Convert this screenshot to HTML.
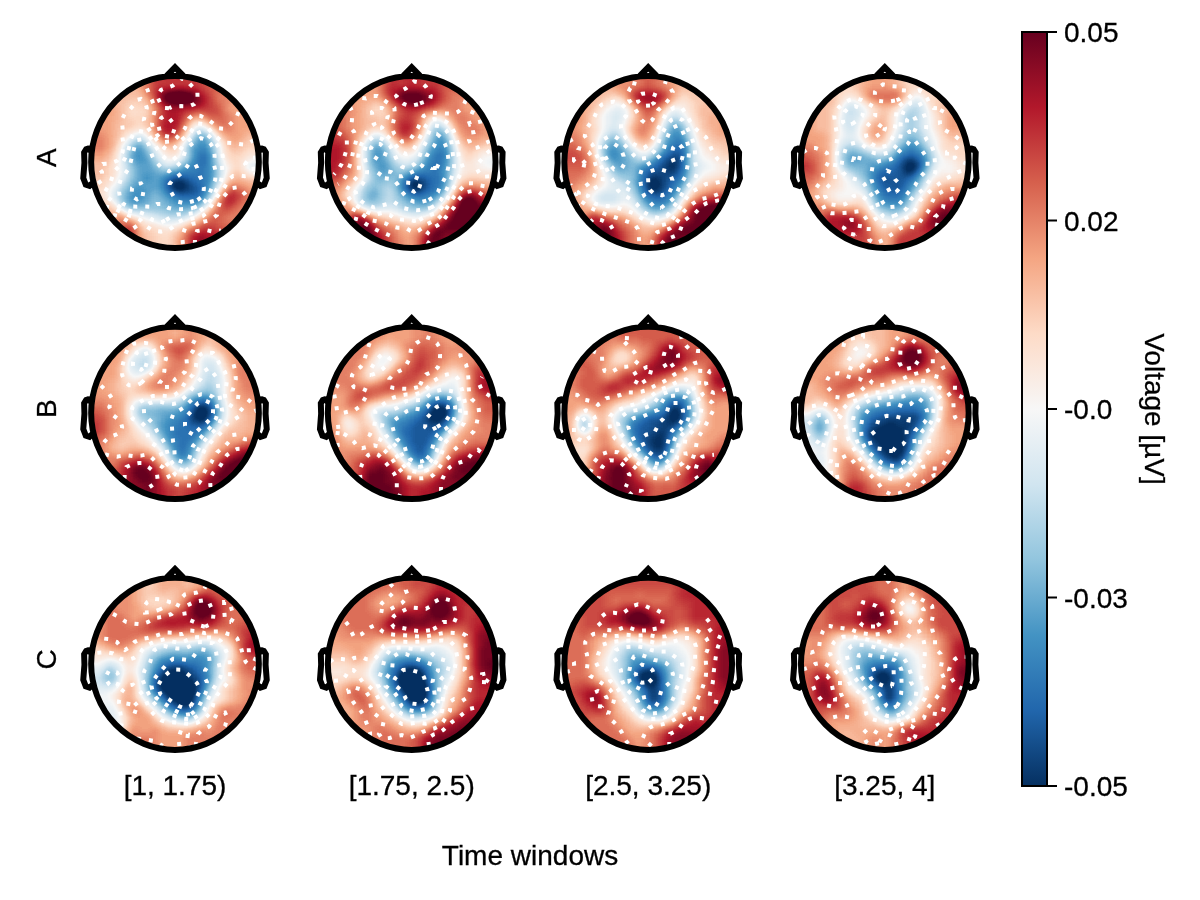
<!DOCTYPE html>
<html lang="en"><head><meta charset="utf-8"><title>Topoplot series</title>
<style>html,body{margin:0;padding:0;background:#fff}svg{display:block}text{font-family:'Liberation Sans', 'DejaVu Sans', sans-serif;font-size:28px;fill:#000;stroke:#000;stroke-width:0.3px}</style></head>
<body>
<svg width="1200" height="900" viewBox="0 0 1200 900">
<defs>
<filter id="cm" x="-5%" y="-5%" width="110%" height="110%" color-interpolation-filters="sRGB"><feGaussianBlur stdDeviation="2.5"/><feComponentTransfer><feFuncR type="table" tableValues="0.0196 0.0196 0.0196 0.0196 0.1294 0.2627 0.5725 0.8196 0.9686 0.9922 0.9569 0.8392 0.6980 0.4039 0.4039 0.4039 0.4039"/><feFuncG type="table" tableValues="0.1882 0.1882 0.1882 0.1882 0.4000 0.5765 0.7725 0.8980 0.9686 0.8588 0.6471 0.3765 0.0941 0.0000 0.0000 0.0000 0.0000"/><feFuncB type="table" tableValues="0.3804 0.3804 0.3804 0.3804 0.6745 0.7647 0.8706 0.9412 0.9686 0.7804 0.5098 0.3020 0.1686 0.1216 0.1216 0.1216 0.1216"/></feComponentTransfer></filter>
<linearGradient id="cb" x1="0" y1="0" x2="0" y2="1"><stop offset="0.0" stop-color="#67001f"/><stop offset="0.1" stop-color="#b2182b"/><stop offset="0.2" stop-color="#d6604d"/><stop offset="0.3" stop-color="#f4a582"/><stop offset="0.4" stop-color="#fddbc7"/><stop offset="0.5" stop-color="#f7f7f7"/><stop offset="0.6" stop-color="#d1e5f0"/><stop offset="0.7" stop-color="#92c5de"/><stop offset="0.8" stop-color="#4393c3"/><stop offset="0.9" stop-color="#2166ac"/><stop offset="1.0" stop-color="#053061"/></linearGradient>
<clipPath id="cl00"><ellipse cx="175.0" cy="162.0" rx="83.85" ry="86.10"/></clipPath><clipPath id="cl01"><ellipse cx="411.7" cy="162.0" rx="83.85" ry="86.10"/></clipPath><clipPath id="cl02"><ellipse cx="648.2" cy="162.0" rx="83.85" ry="86.10"/></clipPath><clipPath id="cl03"><ellipse cx="884.8" cy="162.0" rx="83.85" ry="86.10"/></clipPath><clipPath id="cl10"><ellipse cx="175.0" cy="412.9" rx="83.85" ry="86.10"/></clipPath><clipPath id="cl11"><ellipse cx="411.7" cy="412.9" rx="83.85" ry="86.10"/></clipPath><clipPath id="cl12"><ellipse cx="648.2" cy="412.9" rx="83.85" ry="86.10"/></clipPath><clipPath id="cl13"><ellipse cx="884.8" cy="412.9" rx="83.85" ry="86.10"/></clipPath><clipPath id="cl20"><ellipse cx="175.0" cy="663.8" rx="83.85" ry="86.10"/></clipPath><clipPath id="cl21"><ellipse cx="411.7" cy="663.8" rx="83.85" ry="86.10"/></clipPath><clipPath id="cl22"><ellipse cx="648.2" cy="663.8" rx="83.85" ry="86.10"/></clipPath><clipPath id="cl23"><ellipse cx="884.8" cy="663.8" rx="83.85" ry="86.10"/></clipPath>
</defs>
<rect width="1200" height="900" fill="#fff"/>
<g id="head-A1">
<g clip-path="url(#cl00)"><g filter="url(#cm)"><g transform="translate(75 62)" stroke-width="4" fill="none" shape-rendering="crispEdges"><path stroke="#2c2c2c" d="M100 122h8M100 126h8"/><path stroke="#303030" d="M96 122h4M108 122h4M108 126h4"/><path stroke="#343434" d="M100 118h8M96 126h4M112 126h4M104 130h4"/><path stroke="#383838" d="M96 118h4M108 118h4M112 122h4M116 126h4M100 130h4M108 130h8"/><path stroke="#3c3c3c" d="M112 118h4M92 122h4M116 122h4M92 126h4M120 126h4M96 130h4M116 130h8"/><path stroke="#404040" d="M100 114h12M92 118h4M116 118h4M120 122h4M124 126h4M104 134h20"/><path stroke="#444444" d="M124 94h8M124 98h8M124 102h8M124 106h4M124 110h4M96 114h4M112 114h16M120 118h8M88 122h4M124 122h4M92 130h4M124 130h4M100 134h4"/><path stroke="#484848" d="M124 90h8M120 98h4M120 102h4M116 106h8M128 106h4M108 110h16M128 110h4M128 114h4M88 118h4M128 118h4M128 122h4M88 126h4M128 126h4M96 134h4M124 134h4M104 138h20"/><path stroke="#4c4c4c" d="M124 86h8M120 90h4M120 94h4M132 94h4M132 98h4M116 102h4M132 102h4M112 106h4M132 106h4M104 110h4M132 110h4M92 114h4M132 114h4M132 118h4M88 130h4M128 130h4M60 134h4M92 134h4M100 138h4"/><path stroke="#505050" d="M124 78h4M124 82h8M120 86h4M60 90h8M132 90h4M60 94h8M60 98h12M116 98h4M108 106h4M100 110h4M68 114h8M88 114h4M68 118h8M84 118h4M84 122h4M132 122h4M60 126h8M84 126h4M56 130h16M56 134h4M64 134h4M128 134h4M56 138h12M96 138h4M124 138h4M100 142h20"/><path stroke="#545454" d="M128 78h4M120 82h4M60 86h8M116 86h4M132 86h4M116 90h4M56 94h4M68 94h4M116 94h4M60 102h16M112 102h4M64 106h12M136 106h4M64 110h16M96 110h4M136 110h4M64 114h4M76 114h12M136 114h4M64 118h4M76 118h8M60 122h24M56 126h4M68 126h16M132 126h4M72 130h4M84 130h4M52 134h4M68 134h4M88 134h4M52 138h4M68 138h4M92 138h4M56 142h8M96 142h4M120 142h4"/><path stroke="#585858" d="M124 74h4M120 78h4M132 82h4M56 90h4M68 90h4M136 94h4M56 98h4M72 98h4M136 98h4M136 102h4M60 106h4M76 106h4M104 106h4M60 110h4M80 110h4M92 110h4M60 114h4M60 118h4M136 118h4M56 122h4M52 130h4M76 130h8M132 130h4M72 134h4M84 134h4M72 138h4M88 138h4M52 142h4M64 142h8M92 142h4M96 146h20"/><path stroke="#5c5c5c" d="M128 74h4M132 78h4M60 82h8M116 82h4M56 86h4M68 86h4M136 90h4M72 94h4M112 98h4M56 102h4M76 102h4M108 102h4M80 106h4M84 110h8M56 118h4M136 122h4M52 126h4M48 130h4M48 134h4M76 134h8M48 138h4M76 138h12M128 138h4M72 142h4M84 142h8M124 142h4M88 146h8M116 146h4"/><path stroke="#606060" d="M120 74h4M112 86h4M136 86h4M72 90h4M112 90h4M52 94h4M112 94h4M52 98h4M76 98h4M56 106h4M100 106h4M56 110h4M140 110h4M56 114h4M52 122h4M48 126h4M136 126h4M132 134h4M48 142h4M76 142h8M56 146h32M120 146h4M92 150h20"/><path stroke="#646464" d="M124 70h4M116 78h4M56 82h4M68 82h4M136 82h4M52 90h4M52 102h4M80 102h4M104 102h4M140 102h4M84 106h4M96 106h4M140 106h4M140 114h4M52 118h4M140 118h4M44 130h4M44 134h4M44 138h4M52 146h4M84 150h8M112 150h4"/><path stroke="#686868" d="M132 74h4M60 78h8M112 82h4M52 86h4M72 86h4M76 94h4M108 98h4M140 98h4M52 106h4M88 106h8M52 110h4M52 114h4M48 122h4M136 130h4M76 150h8M116 150h4M92 154h16"/><path stroke="#6c6c6c" d="M120 70h4M128 70h4M116 74h4M136 78h4M76 90h4M140 90h4M140 94h4M80 98h4M84 102h4M48 118h4M140 122h4M44 126h4M40 134h4M132 138h4M44 142h4M128 142h4M48 146h4M124 146h4M64 150h12M84 154h8M108 154h4"/><path stroke="#707070" d="M56 78h4M68 78h4M52 82h4M108 86h4M140 86h4M48 90h4M108 90h4M48 94h4M80 94h4M108 94h4M48 98h4M48 102h4M100 102h4M144 106h4M144 110h4M144 114h4M44 122h4M40 130h4M40 138h4M56 150h8M80 154h4"/><path stroke="#747474" d="M124 66h4M132 70h4M60 74h8M136 74h4M112 78h4M72 82h4M140 82h4M48 86h4M76 86h4M84 98h4M104 98h4M88 102h4M96 102h4M144 102h4M48 106h4M48 110h4M48 114h4M144 118h4M40 126h4M140 126h4M136 134h4M120 150h4M72 154h8M112 154h4M84 158h20"/><path stroke="#787878" d="M120 66h4M116 70h4M52 78h4M108 82h4M80 90h4M144 98h4M92 102h4M176 102h8M176 106h8M44 118h4M36 130h4M36 134h4M52 150h4M68 154h4M116 154h4M80 158h4M104 158h4"/><path stroke="#7c7c7c" d="M128 66h4M56 74h4M68 74h4M72 78h4M140 78h4M48 82h4M44 94h4M84 94h4M104 94h4M144 94h4M44 98h4M88 98h4M100 98h4M44 102h4M172 102h4M184 102h8M44 106h4M148 106h4M172 106h4M184 106h8M44 110h4M148 110h4M44 114h4M40 122h4M144 122h4M36 126h4M36 138h4M40 142h4M132 142h4M44 146h4M128 146h4M64 154h4M76 158h4M108 158h4M88 162h12"/><path stroke="#808080" d="M64 70h4M112 74h4M76 82h4M80 86h4M144 86h4M44 90h4M84 90h4M104 90h4M144 90h4M92 98h8M176 98h16M148 102h4M176 110h16M148 114h4M40 118h4M32 130h4M140 130h4M32 134h4M136 138h4M124 150h4M60 154h4M72 158h4M84 162h4M100 162h4"/><path stroke="#848484" d="M116 66h4M60 70h4M68 70h4M136 70h4M52 74h4M48 78h4M108 78h4M144 82h4M44 86h4M104 86h4M88 94h4M100 94h4M148 98h4M172 98h4M40 102h4M168 102h4M40 106h4M152 106h4M168 106h4M172 110h4M40 114h4M148 118h4M36 122h4M32 126h4M48 150h4M56 154h4M120 154h4M68 158h4M112 158h4M80 162h4M104 162h4M92 166h4"/><path stroke="#888888" d="M120 62h8M132 66h4M56 70h4M112 70h4M72 74h4M140 74h4M76 78h4M44 82h4M80 82h4M104 82h4M84 86h4M88 90h4M40 94h4M92 94h8M148 94h4M172 94h20M40 98h4M168 98h4M152 102h4M40 110h4M152 110h4M36 118h4M32 122h4M144 126h4M28 130h4M28 134h4M32 138h4M36 142h4M40 146h4M64 158h4M72 162h8M84 166h8M96 166h4"/><path stroke="#8c8c8c" d="M56 50h8M116 62h4M128 62h4M60 66h8M52 70h4M48 74h4M144 78h4M148 86h4M40 90h4M92 90h4M100 90h4M148 90h4M172 90h20M168 94h4M152 98h4M164 98h4M36 102h4M156 102h4M164 102h4M36 106h4M156 106h4M164 106h4M36 110h4M168 110h4M36 114h4M152 114h4M172 114h16M32 118h4M28 126h4M24 130h4M24 134h4M140 134h4M28 138h4M132 146h4M44 150h4M128 150h4M52 154h4M124 154h4M116 158h4M68 162h4M108 162h4M80 166h4M100 166h4M84 170h12M88 174h4"/><path stroke="#909090" d="M56 42h8M52 46h20M52 50h4M64 50h8M52 54h20M56 58h12M60 62h8M56 66h4M68 66h4M112 66h4M48 70h4M72 70h4M108 74h4M44 78h4M148 82h4M176 82h12M40 86h4M88 86h4M100 86h4M172 86h16M96 90h4M152 90h4M168 90h4M152 94h16M36 98h4M156 98h8M160 102h4M32 106h4M160 106h4M32 110h4M156 110h4M164 110h4M32 114h4M168 114h4M28 118h4M12 122h4M24 122h8M148 122h4M12 126h16M12 130h12M16 134h8M16 138h12M20 142h16M136 142h4M20 146h8M36 146h4M60 158h4M64 162h4M112 162h4M68 166h12M104 166h4M76 170h8M96 170h4M80 174h8M92 174h4M80 178h16M80 182h16M80 186h16M80 190h16"/><path stroke="#949494" d="M52 38h16M48 42h8M64 42h8M48 46h4M48 50h4M72 50h4M48 54h4M48 58h8M68 58h4M120 58h8M48 62h12M68 62h4M48 66h8M72 66h4M136 66h4M44 70h4M140 70h4M44 74h4M76 74h4M144 74h4M40 78h4M80 78h4M104 78h4M148 78h4M172 78h16M40 82h4M84 82h4M100 82h4M168 82h8M92 86h8M152 86h4M164 86h8M36 90h4M156 90h12M36 94h4M32 98h4M32 102h4M28 106h4M28 110h4M160 110h4M28 114h4M156 114h4M164 114h4M12 118h16M152 118h4M176 118h12M16 122h8M144 130h4M28 146h4M24 150h4M40 150h4M120 158h4M68 170h8M100 170h4M72 174h8M96 174h4M72 178h8M96 178h4M72 182h8M96 182h4M72 186h8M96 186h4M76 190h4M96 190h4"/><path stroke="#989898" d="M52 22h4M44 26h16M40 30h24M36 34h32M36 38h16M68 38h4M40 42h8M44 46h4M72 46h4M44 50h4M44 54h4M72 54h4M44 58h4M72 58h4M116 58h4M40 62h8M72 62h4M132 62h4M40 66h8M40 70h4M108 70h4M40 74h4M172 74h16M168 78h4M152 82h4M164 82h4M36 86h4M156 86h8M32 94h4M28 98h4M8 102h24M8 106h20M8 110h20M12 114h16M160 114h4M156 118h4M168 118h8M148 126h4M140 138h4M32 146h4M28 150h12M132 150h4M24 154h12M48 154h4M128 154h4M28 158h4M56 158h4M116 162h4M64 166h4M108 166h4M68 174h4M100 174h4M68 178h4M100 186h4M100 190h4"/><path stroke="#9c9c9c" d="M56 18h4M56 22h8M60 26h4M64 30h4M32 38h4M32 42h8M72 42h4M36 46h8M40 50h4M36 54h8M36 58h8M128 58h4M36 62h4M112 62h4M36 66h4M36 70h4M76 70h4M144 70h4M168 70h20M36 74h4M148 74h4M168 74h4M36 78h4M152 78h4M164 78h4M36 82h4M88 82h4M96 82h4M156 82h8M32 90h4M28 94h4M8 98h20M160 118h8M152 122h4M172 122h16M136 146h4M36 154h4M32 158h4M124 158h4M60 162h4M64 170h4M104 170h4M64 174h4M100 178h4M68 182h4M100 182h4M68 186h4"/><path stroke="#a0a0a0" d="M64 14h4M60 18h8M64 22h4M64 26h4M68 34h4M72 38h4M160 38h8M28 42h4M156 42h16M24 46h12M76 46h4M152 46h24M24 50h16M76 50h4M156 50h20M20 54h16M76 54h4M160 54h20M20 58h16M76 58h4M160 58h20M16 62h20M76 62h4M136 62h4M160 62h24M16 66h20M76 66h4M140 66h4M160 66h24M28 70h8M160 70h8M32 74h4M80 74h4M104 74h4M152 74h16M32 78h4M84 78h4M100 78h4M156 78h8M32 82h4M92 82h4M32 86h4M28 90h4M8 94h20M164 122h8M172 126h16M144 134h4M140 142h4M40 154h8M36 158h4M52 158h4M32 162h4M120 162h4M112 166h4M104 174h4M64 178h4M60 182h8M64 186h4M104 186h4M104 190h4"/><path stroke="#a4a4a4" d="M68 30h4M156 34h8M152 38h8M76 42h4M152 42h4M152 50h4M120 54h8M156 54h4M112 58h4M132 58h4M156 58h4M156 62h4M108 66h4M144 66h4M156 66h4M12 70h16M148 70h12M24 74h8M28 78h4M28 82h4M28 86h4M8 90h20M156 122h8M168 126h4M148 130h4M172 130h16M176 134h8M136 150h4M132 154h4M40 158h4M48 158h4M128 158h4M36 162h4M60 166h4M108 170h4M60 178h4M104 178h4M56 182h4M104 182h4"/><path stroke="#a8a8a8" d="M68 14h4M68 18h4M68 22h4M68 26h4M152 26h4M148 30h12M72 34h4M144 34h12M144 38h8M148 42h4M148 46h4M80 50h4M148 50h4M116 54h4M128 54h4M152 54h4M152 58h4M108 62h4M140 62h4M152 62h4M148 66h8M80 70h4M104 70h4M12 74h12M12 78h16M88 78h4M96 78h4M12 82h16M12 86h16M152 126h4M164 126h4M172 134h4M144 138h4M172 138h12M168 142h12M140 146h4M164 146h16M160 150h16M152 154h24M44 158h4M152 158h20M40 162h4M56 162h4M124 162h4M160 162h8M36 166h8M116 166h4M60 170h4M60 174h4M108 174h4"/><path stroke="#acacac" d="M72 14h4M72 18h4M72 22h4M72 26h4M144 26h8M72 30h4M140 30h8M140 34h4M76 38h4M140 38h4M144 42h4M80 46h4M144 46h4M80 54h4M112 54h4M148 54h4M80 58h4M136 58h16M80 62h4M144 62h8M80 66h4M84 74h4M100 74h4M92 78h4M156 126h8M168 130h4M168 134h4M168 138h4M164 142h4M160 146h4M140 150h4M156 150h4M136 154h4M148 154h4M132 158h4M144 158h8M44 162h12M148 162h12M44 166h4M120 166h4M156 166h8M40 170h4M112 170h4M156 170h4M56 178h4M108 178h4M108 182h4M108 186h4M108 190h4"/><path stroke="#b0b0b0" d="M132 14h4M132 18h12M132 22h16M132 26h12M136 30h4M76 34h4M136 34h4M80 42h4M140 42h4M120 50h8M144 50h4M132 54h16M108 58h4M104 66h4M152 130h4M164 130h4M148 134h4M164 138h4M144 142h4M160 142h4M144 146h4M156 146h4M144 150h12M140 154h8M136 158h8M128 162h8M140 162h8M56 166h4M144 166h12M44 170h4M152 170h4M56 174h4M152 174h4M52 178h4"/><path stroke="#b4b4b4" d="M76 10h4M76 14h4M128 14h4M76 18h4M124 18h8M76 22h4M124 22h8M76 26h4M128 26h4M76 30h4M132 30h4M136 38h4M136 42h4M84 46h4M136 46h8M84 50h4M116 50h4M128 50h16M84 54h4M108 54h4M104 62h4M84 70h4M100 70h4M88 74h4M96 74h4M160 130h4M164 134h4M148 146h8M136 162h4M48 166h4M124 166h4M140 166h4M56 170h4M116 170h4M148 170h4M112 174h4M112 178h4M112 182h4M112 186h4M112 190h4"/><path stroke="#b8b8b8" d="M80 10h8M112 10h12M80 14h8M108 14h20M80 18h44M80 22h44M80 26h4M124 26h4M128 30h4M132 34h4M80 38h4M132 38h4M132 42h4M128 46h8M108 50h8M84 58h4M104 58h4M84 62h4M84 66h4M92 74h4M156 130h4M160 134h4M148 138h4M160 138h4M148 142h4M156 142h4M52 166h4M128 166h12M48 170h8M120 170h4M140 170h8M44 174h12M148 174h4"/><path stroke="#bcbcbc" d="M88 10h24M88 14h20M84 26h8M112 26h12M80 30h4M124 30h4M80 34h4M128 34h4M84 42h4M128 42h4M88 46h4M120 46h8M88 50h4M104 50h4M88 54h4M104 54h4M88 58h4M100 66h4M88 70h4M96 70h4M152 134h8M152 138h8M152 142h4M124 170h16M116 174h4M144 174h4M116 186h4M116 190h4"/><path stroke="#c0c0c0" d="M92 26h20M128 38h4M108 46h12M92 50h12M92 54h12M92 58h12M88 62h16M88 66h12M92 70h4M120 174h4M132 174h12M116 178h4M132 178h16M116 182h4M132 182h12M132 186h4"/><path stroke="#c4c4c4" d="M84 30h4M120 30h4M124 34h4M84 38h4M124 38h4M88 42h4M124 42h4M92 46h16M124 174h8M120 178h4M128 178h4M120 182h4M128 182h4M120 186h4M128 186h4M120 190h4"/><path stroke="#c8c8c8" d="M88 30h4M116 30h4M84 34h4M120 34h4M116 42h8M124 178h4M124 182h4M124 186h4"/><path stroke="#cccccc" d="M92 30h8M108 30h8M120 38h4M92 42h8M108 42h8"/><path stroke="#d0d0d0" d="M100 30h8M88 34h4M116 34h4M88 38h4M116 38h4M100 42h8"/><path stroke="#d4d4d4" d="M92 38h4"/><path stroke="#d8d8d8" d="M92 34h4M112 34h4M96 38h4M112 38h4"/><path stroke="#dcdcdc" d="M96 34h4M108 34h4M100 38h12"/><path stroke="#e0e0e0" d="M100 34h8"/></g></g></g>
<path clip-path="url(#cl00)" d="M197.5 200.0L203.2 196.0L203.9 188.0L201.8 180.0L199.7 176.0L197.3 168.0L195.2 164.0L189.0 163.6L186.0 168.0L183.0 172.0L178.1 176.0L173.0 179.6L169.6 184.0L171.1 192.0L173.4 196.0L177.0 201.5L185.0 203.4L193.0 201.2L197.5 200.0M142.6 196.0L144.0 188.0L141.0 183.3L136.0 184.0L132.1 188.0L131.3 196.0L137.0 199.4L142.6 196.0M193.1 208.0L201.0 204.5L205.0 201.3L208.8 196.0L210.1 192.0L213.0 184.7L215.2 180.0L215.8 172.0L213.8 164.0L214.7 156.0L213.4 148.0L210.8 144.0L206.6 140.0L201.0 138.2L197.0 140.2L191.7 144.0L187.1 148.0L184.9 152.0L182.4 160.0L178.9 164.0L174.2 168.0L169.0 171.3L161.8 168.0L158.1 164.0L154.6 160.0L152.3 156.0L149.7 148.0L148.6 144.0L145.0 138.8L137.1 140.0L135.1 144.0L133.2 152.0L132.3 156.0L130.1 164.0L128.9 168.0L125.0 174.1L121.0 178.8L119.3 184.0L119.1 192.0L120.2 200.0L123.5 204.0L129.0 206.5L137.0 206.7L145.0 206.6L153.0 206.9L157.0 204.0L162.4 204.0L168.4 208.0L173.0 208.9L181.0 209.2L189.0 208.8L193.1 208.0M166.1 220.0L172.6 216.0L177.0 214.6L185.0 214.0L193.0 213.3L198.1 212.0L203.7 208.0L207.5 204.0L210.6 200.0L213.0 195.7L217.0 188.7L219.9 184.0L221.3 180.0L222.3 172.0L222.1 164.0L222.8 156.0L221.0 150.4L217.0 144.7L213.0 140.0L209.0 136.1L205.0 132.9L201.0 131.6L197.0 133.3L193.0 137.0L189.0 140.2L184.2 144.0L181.0 148.5L177.4 156.0L173.0 159.7L169.0 160.4L165.0 158.1L161.0 153.9L157.0 148.4L154.5 144.0L152.0 140.0L149.0 135.8L144.2 132.0L137.0 130.7L133.0 134.4L130.5 140.0L129.0 147.8L127.8 152.0L125.0 158.1L121.8 164.0L117.5 168.0L113.6 172.0L112.6 176.0L110.0 184.0L107.2 188.0L104.9 192.0L105.9 196.0L111.0 200.0L115.7 204.0L121.0 207.8L125.0 209.7L133.0 211.7L138.8 212.0L145.0 214.3L149.0 217.3L153.0 220.2L161.0 222.5L166.1 220.0M257.0 157.5L249.0 158.0L245.3 164.0L249.0 169.1L257.0 168.5M253.9 140.0L249.0 143.1L245.0 144.6L239.2 144.0L233.0 143.0L225.0 142.7L220.0 140.0L215.1 136.0L211.3 132.0L207.9 128.0L202.4 124.0L197.0 123.3L193.3 128.0L190.9 132.0L186.6 136.0L181.6 140.0L177.8 144.0L174.2 148.0L169.0 150.3L164.5 148.0L160.3 144.0L156.8 140.0L153.0 135.2L149.0 129.4L145.4 124.0L143.8 120.0L145.0 114.8L146.8 108.0L145.0 101.9L141.0 98.9L136.7 100.0L133.0 105.8L129.0 110.6L125.0 113.5L121.6 120.0L122.6 128.0L122.2 136.0L123.5 144.0L122.6 152.0L120.6 156.0L117.0 160.8L109.0 163.7L102.8 164.0L99.0 168.0L102.0 172.0L102.6 180.0L97.1 184.0M105.0 206.4L113.0 207.9L117.0 210.0L121.3 212.0L129.0 215.4L133.0 216.5L140.5 220.0L143.8 224.0L148.9 228.0L153.0 230.7L161.0 231.6L169.0 229.7L173.0 226.9L177.0 222.6L182.7 220.0L189.0 219.0L197.0 217.7L202.8 216.0L207.3 212.0L210.0 208.0L213.0 203.0L217.0 196.7L220.8 192.0L223.9 188.0L226.4 184.0L229.0 179.1L233.0 175.9L241.0 175.7L245.0 176.2L249.0 175.8L257.0 173.8M238.6 112.0L237.0 116.0L233.0 121.4L229.0 125.5L225.0 128.9L217.0 128.1L213.9 124.0L209.0 120.3L205.0 118.1L200.7 116.0L193.0 115.1L189.0 118.4L186.5 124.0L185.0 128.3L181.0 132.8L177.0 137.4L173.0 141.3L165.0 141.9L161.0 139.0L157.0 134.8L153.0 128.0L152.0 124.0L153.0 117.2L154.4 112.0L153.5 104.0L151.9 100.0L149.0 93.8L146.8 88.0M182.9 244.0L182.2 236.0L185.0 228.4L189.0 225.5L193.0 223.7L201.0 222.4L209.0 220.4L213.0 218.1L217.0 215.0L218.0 208.0L220.9 200.0L224.1 196.0L227.6 192.0L232.3 188.0L237.0 187.3L241.0 189.7L245.0 194.1L249.0 200.0M113.0 214.9L118.9 216.0L125.0 219.5L129.0 221.9L133.0 224.0L137.0 229.7L137.0 236.0M169.0 108.3L164.6 108.0L160.6 104.0L157.1 96.0L161.0 89.9L166.3 88.0L173.0 85.6L177.0 82.3L181.0 78.5L186.2 80.0L189.9 84.0L193.9 88.0L197.4 92.0L197.6 100.0L194.3 104.0L189.0 106.3L181.0 106.1L173.0 106.4L169.0 108.3M169.0 136.7L164.5 136.0L159.9 132.0L158.1 124.0L161.0 118.1L165.0 115.6L169.0 118.0L173.0 123.1L174.8 128.0L173.0 133.3L169.0 136.7M194.8 244.0L195.1 236.0L197.0 231.0L205.0 229.8L213.0 231.7L221.0 230.5" fill="none" stroke="#fff" stroke-width="4" stroke-dasharray="4 8"/>
<path d="M91.15 162.00A83.85 86.10 0 1 1 258.85 162.00A83.85 86.10 0 1 1 91.15 162.00ZM166.62 75.90L175.00 67.29L183.38 75.90M258.35 152.44L260.53 148.65L261.87 148.52L263.86 149.15L265.88 152.44L265.56 162.95L266.73 178.05L264.22 184.61L260.53 185.83L257.01 182.65M91.65 152.44L89.47 148.65L88.13 148.52L86.14 149.15L84.12 152.44L84.44 162.95L83.27 178.05L85.78 184.61L89.47 185.83L92.99 182.65" fill="none" stroke="#000" stroke-width="6" stroke-linejoin="miter" stroke-miterlimit="10"/>
</g>
<g id="head-A2">
<g clip-path="url(#cl01)"><g filter="url(#cm)"><g transform="translate(312 62)" stroke-width="4" fill="none" shape-rendering="crispEdges"><path stroke="#2c2c2c" d="M100 122h8M104 126h4"/><path stroke="#303030" d="M100 126h4"/><path stroke="#343434" d="M100 118h8M96 122h4M108 122h4M96 126h4M108 126h4"/><path stroke="#383838" d="M108 118h4M112 122h4M100 130h8"/><path stroke="#3c3c3c" d="M96 118h4M112 118h4M112 126h4M108 130h4"/><path stroke="#404040" d="M100 114h16M116 118h4M92 122h4M116 122h4M92 126h4M116 126h4M96 130h4M112 130h4"/><path stroke="#444444" d="M124 94h8M124 98h4M120 102h8M120 106h8M120 110h4M116 114h12M92 118h4M120 118h8M120 122h8M120 126h4M116 130h4M104 134h8"/><path stroke="#484848" d="M124 90h8M120 94h4M120 98h4M128 98h4M116 102h4M128 102h4M116 106h4M108 110h12M124 110h4M96 114h4M124 126h4M92 130h4M120 130h4M100 134h4M112 134h4"/><path stroke="#4c4c4c" d="M128 82h4M124 86h8M120 90h4M132 90h4M132 94h4M116 98h4M112 106h4M128 106h4M104 110h4M128 110h4M128 114h4M128 118h4M88 122h4M128 122h4M88 126h4M124 130h4M96 134h4M116 134h4M108 138h4"/><path stroke="#505050" d="M124 78h8M124 82h4M120 86h4M132 86h4M64 90h4M64 94h4M116 94h4M64 98h4M132 98h4M68 102h4M112 102h4M132 102h4M68 106h4M108 106h4M100 110h4M92 114h4M88 118h4M128 126h4M120 134h4M100 138h8M112 138h8"/><path stroke="#545454" d="M124 74h8M120 82h4M132 82h4M64 86h4M60 90h4M68 90h4M116 90h4M60 94h4M68 94h4M60 98h4M68 98h4M112 98h4M64 102h4M72 102h4M64 106h4M72 106h4M132 106h4M68 110h8M132 110h4M132 114h4M132 118h4M88 130h4M92 134h4M96 138h4M108 142h8"/><path stroke="#585858" d="M120 78h4M132 78h4M60 86h4M68 86h4M116 86h4M112 94h4M72 98h4M60 102h4M108 102h4M76 106h4M104 106h4M64 110h4M76 110h4M96 110h4M68 114h8M88 114h4M84 118h4M84 122h4M132 122h4M84 126h4M60 130h4M128 130h4M56 134h8M88 134h4M124 134h4M92 138h4M120 138h4M100 142h8"/><path stroke="#5c5c5c" d="M124 70h8M120 74h4M64 82h4M72 90h4M136 90h4M72 94h4M136 94h4M136 98h4M76 102h4M136 102h4M60 106h4M80 110h4M92 110h4M64 114h4M76 114h12M64 118h8M60 126h4M132 126h4M56 130h4M64 130h4M84 130h4M64 134h4M56 138h8M96 142h4M116 142h4"/><path stroke="#606060" d="M132 74h4M60 82h4M68 82h4M116 82h4M136 86h4M56 90h4M112 90h4M56 94h4M56 98h4M76 98h4M108 98h4M56 102h4M80 106h4M100 106h4M136 106h4M60 110h4M84 110h8M136 110h4M60 114h4M60 118h4M72 118h12M60 122h12M80 122h4M56 126h4M64 126h4M52 130h4M52 134h4M84 134h4M128 134h4M52 138h4M64 138h4M88 138h4M92 142h4M100 146h16"/><path stroke="#646464" d="M124 66h4M120 70h4M116 78h4M136 82h4M56 86h4M72 86h4M112 86h4M80 102h4M104 102h4M56 106h4M84 106h4M96 106h4M136 114h4M136 118h4M56 122h4M72 122h8M52 126h4M68 126h4M80 126h4M68 130h4M80 130h4M68 134h4M68 138h4M84 138h4M124 138h4M56 142h12M88 142h4M120 142h4M92 146h8"/><path stroke="#686868" d="M120 66h4M128 66h4M132 70h4M60 78h8M136 78h4M56 82h4M76 90h4M76 94h4M108 94h4M88 106h8M56 110h4M136 122h4M72 126h8M72 130h4M132 130h4M48 134h4M72 134h4M80 134h4M48 138h4M80 138h4M52 142h4M68 142h4M84 142h4M88 146h4M116 146h4"/><path stroke="#6c6c6c" d="M116 74h4M68 78h4M72 82h4M112 82h4M108 90h4M140 90h4M140 94h4M80 98h4M104 98h4M140 98h4M84 102h4M100 102h4M140 102h4M56 114h4M56 118h4M52 122h4M48 130h4M76 130h4M76 134h4M72 138h8M72 142h4M80 142h4M96 150h16"/><path stroke="#707070" d="M124 62h4M116 70h4M136 74h4M52 86h4M76 86h4M140 86h4M52 90h4M52 94h4M80 94h4M52 98h4M52 102h4M88 102h4M96 102h4M140 106h4M140 110h4M48 126h4M136 126h4M128 138h4M48 142h4M76 142h4M124 142h4M56 146h12M84 146h4M120 146h4M92 150h4M112 150h4"/><path stroke="#747474" d="M120 62h4M128 62h4M132 66h4M64 74h4M56 78h4M112 78h4M108 86h4M104 94h4M84 98h4M100 98h4M92 102h4M52 106h4M140 114h4M52 118h4M44 130h4M44 134h4M132 134h4M44 138h4M68 146h16M88 150h4M116 150h4"/><path stroke="#787878" d="M116 66h4M136 70h4M60 74h4M72 78h4M52 82h4M76 82h4M140 82h4M80 90h4M88 98h4M96 98h4M52 110h4M52 114h4M140 118h4M48 122h4M52 146h4M84 150h4M100 154h8"/><path stroke="#7c7c7c" d="M124 58h4M68 74h4M112 74h4M140 78h4M108 82h4M80 86h4M104 90h4M84 94h4M100 94h4M144 94h4M92 98h4M144 98h4M176 98h8M144 102h4M176 102h8M144 106h4M144 110h4M140 122h4M44 126h4M136 130h4M44 142h4M80 150h4M92 154h8M108 154h4"/><path stroke="#808080" d="M120 58h4M116 62h4M132 62h4M56 74h4M52 78h4M48 86h4M104 86h4M48 90h4M84 90h4M144 90h4M48 94h4M88 94h12M172 94h20M48 98h4M168 98h8M184 98h8M48 102h4M168 102h8M184 102h8M172 106h20M144 114h4M48 118h4M40 130h4M40 134h4M40 138h4M132 138h4M128 142h4M48 146h4M124 146h4M64 150h16M120 150h4M88 154h4M112 154h4"/><path stroke="#848484" d="M128 58h4M136 66h4M60 70h8M112 70h4M140 74h4M108 78h4M144 86h4M100 90h4M168 94h4M148 98h4M164 98h4M148 102h4M164 102h4M48 106h4M148 106h4M164 106h8M148 110h4M44 122h4M40 126h4M140 126h4M60 150h4M84 154h4M116 154h4M100 158h4"/><path stroke="#888888" d="M116 58h4M112 66h4M68 70h4M72 74h4M76 78h4M48 82h4M80 82h4M104 82h4M144 82h4M84 86h4M88 90h12M168 90h24M148 94h4M164 94h4M160 98h4M152 102h12M152 106h12M48 110h4M152 110h40M48 114h4M148 114h4M144 118h4M36 130h4M36 134h4M136 134h4M40 142h4M56 150h4M80 154h4M92 158h8M104 158h8"/><path stroke="#8c8c8c" d="M124 54h4M132 58h4M136 62h4M56 70h4M140 70h4M52 74h4M108 74h4M100 86h4M176 86h12M148 90h4M164 90h4M160 94h4M152 98h8M152 114h4M168 114h20M44 118h4M40 122h4M144 122h4M36 138h4M44 146h4M124 150h4M72 154h8M120 154h4M88 158h4"/><path stroke="#909090" d="M60 46h12M60 50h12M68 54h4M120 54h4M128 54h4M112 62h4M60 66h12M72 70h4M48 78h4M144 78h4M44 86h4M88 86h4M148 86h4M168 86h8M44 90h4M152 90h4M160 90h4M44 94h4M152 94h8M44 98h4M44 102h4M156 114h12M148 118h4M36 126h4M32 130h4M140 130h4M32 134h4M132 142h4M128 146h4M52 150h4M64 154h8M80 158h8M112 158h4M96 162h12"/><path stroke="#949494" d="M60 42h8M56 46h4M56 50h4M72 50h4M56 54h12M72 54h4M116 54h4M64 58h8M112 58h4M68 62h4M56 66h4M140 66h4M52 70h4M108 70h4M48 74h4M76 74h4M144 74h4M80 78h4M104 78h4M44 82h4M84 82h4M100 82h4M148 82h4M172 82h16M92 86h8M152 86h4M164 86h4M156 90h4M44 106h4M44 110h4M44 114h4M152 118h36M136 138h4M76 158h4M116 158h4M88 162h8M108 162h4"/><path stroke="#989898" d="M56 42h4M68 42h4M52 46h4M72 46h4M52 50h4M52 54h4M132 54h4M52 58h12M72 58h4M136 58h4M52 62h16M72 62h4M52 66h4M72 66h4M48 70h4M44 78h4M148 78h4M168 82h4M156 86h8M40 118h4M36 122h4M148 122h4M176 122h12M32 126h4M144 126h4M28 134h4M32 138h4M36 142h4M40 146h4M60 154h4M124 154h4M72 158h4M84 162h4M92 166h12"/><path stroke="#9c9c9c" d="M56 18h8M56 22h8M52 38h16M48 42h8M72 42h4M48 46h4M48 50h4M76 50h4M124 50h8M48 54h4M76 54h4M112 54h4M48 58h4M48 62h4M108 62h4M140 62h4M48 66h4M108 66h4M76 70h4M144 70h4M44 74h4M104 74h4M168 78h20M88 82h4M96 82h4M152 82h16M40 114h4M36 118h4M32 122h4M152 122h4M168 122h8M28 130h4M140 134h4M28 138h4M48 150h4M128 150h4M68 158h4M80 162h4M112 162h4M88 166h4M104 166h4M92 170h8"/><path stroke="#a0a0a0" d="M52 22h4M44 26h20M40 30h24M36 34h32M36 38h16M68 38h4M160 38h8M40 42h8M152 42h20M40 46h8M76 46h4M152 46h20M44 50h4M120 50h4M132 50h4M156 50h20M40 54h8M136 54h4M160 54h20M40 58h8M76 58h4M108 58h4M140 58h4M164 58h16M40 62h8M76 62h4M168 62h16M40 66h8M76 66h4M144 66h4M172 66h12M44 70h4M172 70h12M80 74h4M148 74h4M168 74h20M84 78h4M100 78h4M152 78h16M92 82h4M40 86h4M40 90h4M40 94h4M40 98h4M40 102h4M40 106h4M40 110h4M156 122h12M28 126h4M176 126h8M24 130h4M16 134h12M16 138h12M20 142h16M20 146h8M36 146h4M132 146h4M56 154h4M64 158h4M120 158h4M72 162h8M84 166h4M108 166h4M88 170h4M100 170h4M88 174h12M92 178h8M92 182h8M92 186h8M92 190h8"/><path stroke="#a4a4a4" d="M64 14h4M64 18h4M64 22h4M64 26h4M64 30h4M156 34h8M32 38h4M148 38h12M28 42h12M148 42h4M36 46h4M148 46h4M36 50h8M80 50h4M116 50h4M136 50h4M148 50h8M36 54h4M140 54h4M156 54h4M36 58h4M156 58h8M36 62h4M144 62h4M164 62h4M36 66h4M148 66h4M168 66h4M40 70h4M104 70h4M148 70h8M168 70h4M40 74h4M152 74h16M40 78h4M40 82h4M36 114h4M32 118h4M28 122h4M24 126h4M148 126h4M168 126h8M184 126h4M12 130h12M144 130h4M136 142h4M28 146h8M24 150h8M44 150h4M24 154h8M68 162h4M80 166h4M84 170h4M104 170h4M84 174h4M100 174h4M88 178h4M100 178h4M88 182h4M100 182h4M88 186h4M100 186h4M84 190h8M100 190h4"/><path stroke="#a8a8a8" d="M152 26h4M148 30h12M68 34h4M140 34h16M72 38h4M140 38h8M76 42h4M136 42h12M24 46h12M80 46h4M128 46h20M28 50h8M112 50h4M140 50h8M32 54h4M80 54h4M108 54h4M144 54h12M32 58h4M80 58h4M144 58h12M32 62h4M148 62h16M32 66h4M104 66h4M152 66h16M36 70h4M80 70h4M156 70h12M36 74h4M100 74h4M88 78h4M96 78h4M36 106h4M36 110h4M32 114h4M12 126h12M164 126h4M140 138h4M32 150h12M32 154h4M128 154h4M28 158h4M60 158h4M116 162h4M76 166h4M112 166h4M80 170h4M104 174h4M84 178h4M84 182h4M84 186h4"/><path stroke="#acacac" d="M68 14h4M68 18h4M68 22h4M68 26h4M144 26h8M68 30h4M136 30h12M136 34h4M136 38h4M132 42h4M124 46h4M24 50h4M24 54h8M28 58h4M104 58h4M28 62h4M80 62h4M104 62h4M28 66h4M80 66h4M32 70h4M84 74h4M36 78h4M92 78h4M36 82h4M36 98h4M36 102h4M32 110h4M28 118h4M12 122h16M152 126h12M172 130h12M132 150h4M52 154h4M124 158h4M64 162h4M72 166h4M76 170h4M108 170h4M80 174h4M80 178h4M104 178h4M80 182h4M104 182h4M80 186h4M104 186h4M80 190h4M104 190h4"/><path stroke="#b0b0b0" d="M132 14h4M132 18h12M132 22h16M132 26h12M132 30h4M72 34h4M132 34h4M76 38h4M132 38h4M80 42h4M128 42h4M84 46h4M120 46h4M84 50h4M108 50h4M20 54h4M84 54h4M104 54h4M20 58h8M16 62h12M16 66h12M24 70h8M100 70h4M32 74h4M36 86h4M36 90h4M36 94h4M32 106h4M28 114h4M24 118h4M148 130h4M168 130h4M144 134h4M136 146h4M36 154h4M32 158h4M120 162h4M68 166h4M72 170h4M76 174h4M76 186h4M76 190h4"/><path stroke="#b4b4b4" d="M72 14h4M128 14h4M72 18h4M128 18h4M72 22h4M128 22h4M72 26h4M128 26h4M72 30h4M128 30h4M128 38h4M124 42h4M116 46h4M88 50h4M104 50h4M88 54h4M100 54h4M84 58h4M100 58h4M84 62h4M100 62h4M84 66h4M100 66h4M12 70h12M84 70h4M24 74h8M88 74h4M96 74h4M32 78h4M32 82h4M32 98h4M32 102h4M28 110h4M12 118h12M172 134h12M140 142h4M56 158h4M116 166h4M108 174h4M76 178h4M76 182h4"/><path stroke="#b8b8b8" d="M76 10h4M76 14h4M120 14h8M76 18h4M84 18h8M108 18h20M76 22h4M84 22h12M104 22h24M124 26h4M76 34h4M128 34h4M84 42h4M88 46h4M112 46h4M92 50h12M92 54h8M88 58h12M96 70h4M12 74h12M92 74h4M24 78h8M32 86h4M32 90h4M32 94h4M28 102h4M28 106h4M8 114h20M152 130h4M164 130h4M180 138h4M48 154h4M132 154h4M36 158h4M128 158h4M60 162h4M64 166h4M68 170h4M112 170h4M72 174h4M72 178h4M108 178h4M72 182h4M108 182h4M72 186h4M108 186h4M108 190h4"/><path stroke="#bcbcbc" d="M80 10h44M80 14h40M80 18h4M92 18h16M80 22h4M96 22h8M76 26h12M112 26h12M76 30h4M124 30h4M124 34h4M80 38h4M124 38h4M120 42h4M92 46h4M108 46h4M88 62h12M88 66h4M96 66h4M88 70h8M12 78h12M12 82h20M28 86h4M28 90h4M28 94h4M28 98h4M24 102h4M24 106h4M8 110h20M156 130h8M168 134h4M144 138h4M176 138h4M136 150h4M40 154h8M32 162h4M124 162h4M68 174h4"/><path stroke="#c0c0c0" d="M88 26h24M80 30h4M120 30h4M80 34h4M120 38h4M88 42h4M116 42h4M96 46h12M92 66h4M8 86h20M8 90h20M8 94h20M8 98h20M8 102h16M8 106h16M148 134h4M164 134h4M172 138h4M140 146h4M52 158h4M60 166h4M120 166h4M64 170h4M116 170h4M112 174h4M68 178h4M68 182h4M68 186h4"/><path stroke="#c4c4c4" d="M84 30h4M112 30h8M120 34h4M84 38h4M112 42h4M168 138h4M144 142h4M176 142h4M136 154h4M40 158h4M132 158h4M36 162h4M56 162h4M128 162h4M64 174h4M64 178h4M112 178h4M136 178h4M64 182h4M112 182h4M64 186h4M112 186h4M112 190h4"/><path stroke="#c8c8c8" d="M88 30h4M108 30h4M84 34h4M116 34h4M116 38h4M92 42h4M108 42h4M152 134h4M160 134h4M164 138h4M172 142h4M176 146h4M140 150h4M44 158h8M40 162h4M36 166h8M124 166h4M60 170h4M116 174h4M132 174h16M132 178h4M140 178h8M56 182h8M132 182h12M132 186h4"/><path stroke="#cccccc" d="M92 30h16M112 34h4M88 38h4M112 38h4M96 42h12M156 134h4M148 138h4M164 142h8M144 146h4M136 158h4M44 162h12M132 162h4M44 166h4M56 166h4M128 166h4M40 170h4M120 170h4M132 170h20M60 174h4M128 174h4M148 174h4M56 178h8M116 178h4M124 178h8M116 182h4M124 182h8M116 186h4M124 186h8M116 190h4"/><path stroke="#d0d0d0" d="M88 34h4M108 34h4M92 38h4M108 38h4M160 138h4M164 146h12M144 150h4M164 150h12M140 154h4M168 154h4M140 158h4M136 162h24M48 166h4M132 166h28M44 170h4M56 170h4M124 170h8M152 170h8M56 174h4M120 174h8M152 174h4M52 178h4M120 178h4M120 182h4M120 186h4M120 190h4"/><path stroke="#d4d4d4" d="M92 34h16M96 38h12M152 138h8M148 142h4M160 142h4M148 146h4M160 146h4M160 150h4M144 154h24M144 158h28M160 162h8M52 166h4M160 166h4M48 170h8M44 174h12"/><path stroke="#d8d8d8" d="M152 142h8M152 146h8M148 150h12"/></g></g></g>
<path clip-path="url(#cl01)" d="M436.7 168.0L438.6 164.0L435.1 164.0L433.1 168.0L436.7 168.0M419.1 188.0L421.8 180.0L414.0 176.9L408.4 180.0L407.8 188.0L414.0 191.7L419.1 188.0M428.7 200.0L434.0 196.7L438.0 192.1L439.4 188.0L442.0 183.8L445.9 176.0L447.2 172.0L449.0 164.0L448.0 156.0L446.5 148.0L445.0 144.0L442.0 138.0L438.0 135.0L436.9 140.0L434.0 146.2L430.0 150.4L426.6 156.0L425.4 160.0L422.0 165.8L418.0 168.9L412.0 172.0L406.0 174.6L402.0 176.3L396.2 176.0L391.2 172.0L386.0 171.0L380.7 172.0L377.9 176.0L382.0 178.0L390.0 178.8L394.0 180.0L398.0 184.9L402.0 191.8L405.5 196.0L410.0 200.0L414.0 201.7L422.0 201.7L428.7 200.0M384.6 156.0L386.1 152.0L384.9 148.0L380.1 144.0L374.0 143.6L370.9 148.0L373.1 156.0L378.0 159.3L384.6 156.0M430.6 208.0L437.4 204.0L441.0 200.0L443.6 196.0L446.0 191.0L449.0 184.0L450.7 180.0L453.4 172.0L454.2 168.0L454.0 161.3L453.0 156.0L452.3 148.0L451.1 140.0L449.7 136.0L446.0 129.9L442.0 126.6L434.0 125.3L430.0 129.2L427.4 136.0L426.0 142.0L422.7 148.0L420.9 152.0L418.2 160.0L414.6 164.0L410.0 166.8L406.0 168.1L402.0 166.7L398.0 161.8L395.1 156.0L393.4 152.0L390.0 145.6L386.0 141.7L382.0 138.8L374.0 136.1L369.2 140.0L366.0 145.6L364.1 152.0L365.2 160.0L366.1 164.0L367.1 172.0L366.0 178.3L362.5 184.0L358.0 188.0L355.5 192.0L358.0 198.0L362.0 201.8L366.0 204.5L374.0 207.5L382.0 205.4L387.4 204.0L394.0 201.9L398.0 204.8L403.1 208.0L410.0 209.6L418.0 210.3L426.0 209.0L430.6 208.0M419.3 220.0L426.0 216.0L430.0 215.1L438.0 212.2L441.4 208.0L444.2 204.0L446.7 200.0L450.0 193.6L453.4 188.0L455.7 184.0L458.0 178.5L461.4 172.0L463.1 168.0L461.7 164.0L458.6 156.0L458.2 148.0L457.9 144.0L455.8 136.0L454.0 131.7L450.0 124.5L446.0 121.7L441.0 120.0L434.0 119.1L430.0 120.5L426.0 125.5L422.7 132.0L420.6 136.0L418.0 141.2L414.5 148.0L411.4 152.0L406.0 154.0L401.5 152.0L397.6 148.0L394.0 142.6L390.0 138.6L386.0 135.2L382.0 128.7L382.0 127.4L386.0 122.0L387.8 116.0L386.0 110.6L382.0 107.9L376.6 108.0L372.0 112.0L372.8 120.0L374.3 124.0L370.0 127.1L366.6 132.0L365.1 136.0L362.0 142.9L359.8 148.0L358.3 156.0L358.9 164.0L358.9 172.0L357.9 176.0L354.0 180.4L350.0 184.4L346.0 191.5L346.0 192.7L350.0 199.5L354.0 203.7L358.0 206.5L362.0 208.7L366.8 212.0L374.0 215.0L382.0 212.9L390.0 214.9L394.0 218.3L402.0 219.6L410.0 219.9L414.0 220.9L419.3 220.0M490.0 150.6L486.0 153.6L482.0 159.0L478.0 163.5L476.6 168.0L478.6 172.0L482.0 176.9L490.0 176.2M350.0 106.7L352.4 112.0L352.0 120.0L351.0 128.0L354.2 132.0L356.3 140.0L354.2 148.0L353.0 152.0L351.5 160.0L350.0 164.9L347.3 172.0L345.8 176.0L342.0 182.0L338.0 184.3M482.0 121.2L474.0 123.0L470.0 124.5L468.4 120.0L470.6 116.0L474.0 108.9M465.7 100.0L462.6 108.0L458.0 111.8L454.0 113.5L446.0 113.5L438.0 113.0L430.0 112.7L423.6 116.0L421.8 120.0L418.0 128.0L415.4 132.0L412.6 136.0L409.8 140.0L402.0 141.6L398.0 137.6L394.0 133.5L392.0 128.0L393.7 120.0L394.9 116.0L394.4 108.0L390.0 104.3L386.0 101.6L382.0 98.7L377.4 96.0L371.2 96.0L366.0 98.5L358.0 97.6M490.0 141.0L483.2 144.0L478.0 147.4L474.0 148.1L470.6 144.0L469.0 140.0L470.0 132.7L475.0 132.0L482.0 129.7M342.0 202.6L346.1 204.0L350.7 208.0L358.0 211.7L362.0 213.8L366.0 217.2L370.2 220.0L378.0 221.4L386.0 223.5L390.0 226.1L398.0 227.8L406.0 228.0L410.0 230.6L414.0 232.4L418.0 230.9L422.4 228.0L427.4 224.0L434.0 220.6L438.0 218.7L442.0 214.8L446.0 209.0L449.5 204.0L451.9 200.0L454.4 196.0L458.0 192.0L462.0 187.8L466.0 183.1L474.0 183.3L478.0 185.1L486.0 186.5M418.0 104.2L410.0 106.0L403.8 104.0L398.5 100.0L396.2 96.0L399.4 92.0L406.0 88.3L410.0 84.9L414.0 81.4L422.0 82.9L426.0 86.8L429.0 92.0L430.9 96.0L429.9 100.0L422.0 102.6L418.0 104.2M338.0 132.8L343.6 136.0L346.8 140.0L347.0 148.0L345.8 152.0L343.4 160.0L341.6 164.0L338.0 170.0L334.0 174.5M430.1 244.0L426.0 241.2L425.6 236.0L428.5 232.0L432.9 228.0L438.0 225.1L442.0 222.2L446.0 216.8L449.6 212.0L453.5 208.0L456.0 204.0L458.2 200.0L462.0 195.9L467.0 192.0L474.0 190.6L478.6 192.0L484.0 196.0M354.0 218.4L360.4 220.0L366.0 224.0L370.0 226.4L374.0 228.6L380.8 232.0L386.0 233.9L390.9 236.0L390.7 244.0" fill="none" stroke="#fff" stroke-width="4" stroke-dasharray="4 8"/>
<path d="M327.85 162.00A83.85 86.10 0 1 1 495.55 162.00A83.85 86.10 0 1 1 327.85 162.00ZM403.31 75.90L411.70 67.29L420.08 75.90M495.05 152.44L497.23 148.65L498.57 148.52L500.56 149.15L502.58 152.44L502.26 162.95L503.43 178.05L500.92 184.61L497.23 185.83L493.71 182.65M328.35 152.44L326.17 148.65L324.83 148.52L322.84 149.15L320.82 152.44L321.14 162.95L319.97 178.05L322.48 184.61L326.17 185.83L329.69 182.65" fill="none" stroke="#000" stroke-width="6" stroke-linejoin="miter" stroke-miterlimit="10"/>
</g>
<g id="head-A3">
<g clip-path="url(#cl02)"><g filter="url(#cm)"><g transform="translate(548 62)" stroke-width="4" fill="none" shape-rendering="crispEdges"><path stroke="#282828" d="M104 122h4"/><path stroke="#2c2c2c" d="M104 118h4M108 122h4M104 126h4"/><path stroke="#303030" d="M120 102h8M120 106h8M100 118h4M108 118h4M100 122h4M100 126h4M108 126h4"/><path stroke="#343434" d="M120 98h12M116 102h4M128 102h4M116 106h4M116 110h12M104 114h12M112 118h4M112 122h4M112 126h4M104 130h8"/><path stroke="#383838" d="M124 94h8M112 106h4M128 106h4M104 110h12M100 114h4M116 114h8M116 118h4M96 122h4M116 122h4M100 130h4M112 130h4"/><path stroke="#3c3c3c" d="M124 90h8M120 94h4M116 98h4M112 102h4M108 106h4M100 110h4M128 110h4M124 114h4M96 118h4M120 118h4M96 126h4M116 126h4M108 134h4"/><path stroke="#404040" d="M128 86h4M132 90h4M116 94h4M132 94h4M112 98h4M132 98h4M108 102h4M132 102h4M104 106h4M132 106h4M96 110h4M96 114h4M128 114h4M124 118h4M120 122h4M120 126h4M96 130h4M116 130h4M104 134h4M112 134h4"/><path stroke="#444444" d="M128 82h4M124 86h4M132 86h4M120 90h4M100 106h4M132 110h4M128 118h4M92 122h4M124 122h4M120 130h4M100 134h4M116 134h4M104 138h12"/><path stroke="#484848" d="M128 78h4M124 82h4M132 82h4M120 86h4M116 90h4M112 94h4M108 98h4M104 102h4M96 106h4M92 110h4M92 114h4M132 114h4M92 118h4M92 126h4M124 126h4M96 134h4M120 134h4M100 138h4M116 138h4"/><path stroke="#4c4c4c" d="M124 74h8M124 78h4M132 78h4M120 82h4M64 90h4M136 90h4M64 94h4M136 94h4M100 102h4M132 118h4M128 122h4M92 130h4M124 130h4M104 142h12"/><path stroke="#505050" d="M124 70h8M132 74h4M120 78h4M136 82h4M64 86h4M116 86h4M136 86h4M60 90h4M68 90h4M60 94h4M68 94h4M64 98h8M104 98h4M136 98h4M136 102h4M92 106h4M136 106h4M136 110h4M88 118h4M88 122h4M128 126h4M96 138h4M120 138h4M100 142h4M116 142h4"/><path stroke="#545454" d="M124 66h8M120 74h4M64 82h4M116 82h4M60 86h4M68 86h4M72 90h4M112 90h4M72 94h4M108 94h4M72 98h4M68 102h8M96 102h4M72 106h4M88 106h4M88 110h4M88 114h4M136 114h4M132 122h4M88 126h4M92 134h4M124 134h4M104 146h12"/><path stroke="#585858" d="M120 70h4M132 70h4M116 78h4M136 78h4M60 82h4M68 82h4M72 86h4M56 90h4M76 94h4M60 98h4M76 98h4M64 102h4M76 102h4M92 102h4M68 106h4M76 106h4M88 130h4M128 130h4M92 138h4M96 142h4M120 142h4M100 146h4"/><path stroke="#5c5c5c" d="M124 62h8M120 66h4M132 66h4M116 74h4M136 74h4M64 78h4M56 86h4M112 86h4M76 90h4M56 94h4M80 98h4M100 98h4M80 102h12M64 106h4M80 106h8M68 110h20M84 114h4M84 118h4M136 118h4M84 122h4M132 126h4M124 138h4M116 146h4"/><path stroke="#606060" d="M60 78h4M68 78h4M56 82h4M72 82h4M140 86h4M108 90h4M140 90h4M80 94h4M104 94h4M140 94h4M56 98h4M84 98h4M140 98h4M60 102h4M140 102h4M140 106h4M140 110h4M72 114h12M80 118h4M136 122h4M84 126h4M88 134h4M128 134h4M92 142h4M96 146h4M104 150h8"/><path stroke="#646464" d="M124 58h4M120 62h4M132 62h4M116 70h4M136 70h4M64 74h4M112 82h4M140 82h4M76 86h4M96 98h4M64 110h4M68 114h4M140 114h4M76 118h4M80 122h4M84 130h4M132 130h4M88 138h4M124 142h4M120 146h4M100 150h4M112 150h4"/><path stroke="#686868" d="M128 58h4M116 66h4M136 66h4M60 74h4M68 74h4M56 78h4M72 78h4M112 78h4M140 78h4M52 86h4M52 90h4M80 90h4M84 94h4M100 94h4M88 98h8M60 106h4M72 118h4M140 118h4M80 126h4M84 134h4M92 146h4M116 150h4"/><path stroke="#6c6c6c" d="M120 58h4M64 70h4M112 74h4M140 74h4M76 82h4M108 86h4M104 90h4M52 94h4M56 102h4M144 102h4M144 106h4M60 110h4M144 110h4M64 114h4M68 118h4M76 122h4M136 126h4M80 130h4M128 138h4M88 142h4M96 150h4"/><path stroke="#707070" d="M124 54h8M132 58h4M116 62h4M136 62h4M60 70h4M68 70h4M140 70h4M56 74h4M52 82h4M80 86h4M144 86h4M84 90h4M144 90h4M88 94h4M144 94h4M52 98h4M144 98h4M144 114h4M64 118h4M72 122h4M140 122h4M76 126h4M52 134h16M132 134h4M52 138h16M84 138h4M124 146h4M120 150h4M104 154h8"/><path stroke="#747474" d="M68 50h4M64 54h8M120 54h4M64 58h8M64 62h4M60 66h12M112 70h4M72 74h4M52 78h4M108 82h4M144 82h4M92 94h8M148 102h4M56 106h4M148 106h4M148 110h4M60 114h4M64 122h8M68 126h8M56 130h16M76 130h4M136 130h4M68 134h4M80 134h4M48 138h4M68 138h4M84 142h4M128 142h4M88 146h4M92 150h4M100 154h4M112 154h4"/><path stroke="#787878" d="M68 46h4M60 50h8M72 50h4M124 50h8M60 54h4M72 54h4M132 54h4M60 58h4M72 58h4M116 58h4M136 58h4M60 62h4M68 62h4M140 66h4M56 70h4M72 70h4M76 78h4M108 78h4M144 78h4M104 86h4M100 90h4M148 94h4M148 98h4M152 102h4M152 106h4M56 110h4M148 114h4M60 118h4M144 118h4M60 122h4M60 126h8M140 126h4M52 130h4M72 130h4M48 134h4M72 134h8M72 138h12M52 142h16M96 154h4M116 154h4"/><path stroke="#7c7c7c" d="M64 46h4M72 46h4M76 50h4M120 50h4M132 50h4M56 54h4M76 54h4M56 58h4M56 62h4M72 62h4M140 62h4M56 66h4M72 66h4M112 66h4M52 74h4M144 74h4M48 82h4M80 82h4M48 86h4M84 86h4M148 86h4M48 90h4M88 90h4M148 90h4M152 98h4M52 102h4M156 102h4M156 106h8M152 110h4M56 114h4M56 126h4M48 130h4M44 134h4M44 138h4M132 138h4M48 142h4M68 142h4M80 142h4M84 146h4M88 150h4M124 150h4"/><path stroke="#808080" d="M64 42h8M60 46h4M76 46h4M124 46h8M56 50h4M52 54h4M116 54h4M136 54h4M52 58h4M76 58h4M52 62h4M112 62h4M52 66h4M52 70h4M144 70h4M76 74h4M108 74h4M48 78h4M148 82h4M92 90h8M152 90h4M48 94h4M152 94h4M156 98h8M160 102h8M52 106h4M164 106h4M156 110h8M152 114h4M56 118h4M148 118h4M56 122h4M144 122h4M52 126h4M136 134h4M72 142h8M128 146h4M92 154h4M120 154h4M100 158h12"/><path stroke="#848484" d="M60 42h4M72 42h4M56 46h4M132 46h4M52 50h4M136 50h4M140 58h4M76 62h4M144 66h4M76 70h4M48 74h4M80 78h4M148 78h4M104 82h4M88 86h4M100 86h4M152 86h4M156 94h8M48 98h4M164 98h4M168 102h4M168 106h24M52 110h4M164 110h8M156 114h8M52 122h4M48 126h4M44 130h4M140 130h4M40 134h4M40 138h4M44 142h4M56 146h16M76 146h8M84 150h4M88 154h4M96 158h4M112 158h4"/><path stroke="#888888" d="M64 38h8M56 42h4M128 42h12M52 46h4M120 46h4M136 46h4M80 50h4M116 50h4M140 50h4M48 54h4M80 54h4M140 54h4M48 58h4M112 58h4M48 62h4M144 62h4M48 66h4M76 66h4M48 70h4M108 70h4M148 70h4M148 74h4M84 82h4M152 82h4M156 86h4M156 90h8M164 94h4M168 98h4M172 102h20M172 110h20M52 114h4M164 114h8M52 118h4M152 118h4M148 122h4M144 126h4M40 130h4M132 142h4M52 146h4M72 146h4M80 150h4M92 158h4M116 158h4"/><path stroke="#8c8c8c" d="M60 38h4M72 38h4M132 38h8M76 42h4M124 42h4M140 42h4M80 46h4M140 46h4M48 50h4M112 54h4M144 54h4M44 58h4M80 58h4M144 58h4M44 62h4M108 66h4M148 66h4M44 74h4M80 74h4M152 74h4M44 78h4M104 78h4M152 78h4M44 82h4M156 82h4M44 86h4M92 86h8M160 86h4M164 90h4M168 94h4M172 98h20M48 102h4M172 114h4M184 114h8M156 118h8M48 122h4M152 122h4M44 126h4M36 134h4M140 134h4M36 138h4M136 138h4M40 142h4M48 146h4M76 150h4M128 150h4M84 154h4M124 154h4M100 162h12"/><path stroke="#909090" d="M64 34h4M132 34h8M56 38h4M128 38h4M140 38h4M52 42h4M144 42h4M48 46h4M144 46h4M44 50h4M144 50h4M44 54h4M84 54h4M148 58h4M80 62h4M148 62h4M44 66h4M44 70h4M152 70h4M104 74h4M84 78h4M156 78h4M88 82h4M100 82h4M160 82h4M164 86h8M44 90h4M168 90h8M44 94h4M172 94h20M48 106h4M48 110h4M48 114h4M176 114h8M48 118h4M164 118h8M156 122h4M40 126h4M148 126h4M36 130h4M144 130h4M44 146h4M132 146h4M60 150h16M80 154h4M88 158h4M96 162h4M112 162h4"/><path stroke="#949494" d="M148 26h8M132 30h28M56 34h8M68 34h4M140 34h20M52 38h4M144 38h16M48 42h4M148 42h8M44 46h4M116 46h4M148 46h4M84 50h4M112 50h4M148 50h4M40 54h4M148 54h4M40 58h4M84 58h4M152 58h4M40 62h4M108 62h4M152 62h4M40 66h4M80 66h4M152 66h4M40 70h4M80 70h4M156 70h4M40 74h4M156 74h8M40 78h4M160 78h8M92 82h8M164 82h12M172 86h20M176 90h16M172 118h16M44 122h4M160 122h4M152 126h4M32 130h4M32 134h4M32 138h4M36 142h4M56 150h4M84 158h4M120 158h4M92 162h4"/><path stroke="#989898" d="M132 14h4M132 18h12M52 22h4M132 22h16M44 26h16M132 26h16M40 30h28M128 30h4M36 34h20M72 34h4M128 34h4M160 34h4M36 38h16M76 38h4M124 38h4M160 38h8M40 42h8M80 42h4M120 42h4M156 42h16M84 46h4M152 46h20M40 50h4M152 50h16M152 54h8M108 58h4M156 58h4M36 62h4M84 62h4M156 62h4M36 66h4M156 66h8M36 70h4M104 70h4M160 70h4M84 74h4M164 74h4M88 78h4M100 78h4M168 78h20M40 82h4M176 82h12M40 86h4M44 98h4M44 118h4M40 122h4M164 122h12M184 122h4M36 126h4M156 126h4M148 130h4M28 134h4M144 134h4M140 138h4M136 142h4M40 146h4M52 150h4M76 154h4M128 154h4M88 162h4M92 166h16"/><path stroke="#9c9c9c" d="M128 14h4M56 18h4M128 18h4M56 22h8M128 22h4M60 26h4M128 26h4M68 30h4M124 34h4M32 38h4M32 42h8M36 46h8M172 46h4M36 50h4M168 50h8M36 54h4M88 54h4M108 54h4M160 54h20M36 58h4M160 58h20M160 62h12M32 66h4M84 66h4M104 66h4M164 66h8M84 70h4M164 70h8M36 74h4M100 74h4M168 74h20M36 78h4M92 78h8M40 90h4M44 102h4M44 106h4M44 110h4M44 114h4M40 118h4M36 122h4M176 122h8M32 126h4M160 126h4M28 130h4M152 130h4M28 138h4M32 142h4M36 146h4M132 150h4M28 154h4M68 154h8M80 158h4M124 158h4M84 162h4M116 162h4M108 166h4M92 170h12"/><path stroke="#a0a0a0" d="M64 14h8M120 14h8M60 18h8M120 18h8M64 22h4M120 22h8M64 26h8M124 26h4M72 30h4M124 30h4M76 34h4M120 38h4M28 42h4M116 42h4M28 46h8M112 46h4M24 50h12M88 50h4M108 50h4M32 54h4M32 58h4M88 58h4M28 62h8M88 62h4M104 62h4M172 62h12M28 66h4M172 66h12M32 70h4M100 70h4M172 70h16M32 74h4M88 74h4M36 82h4M40 94h4M40 114h4M32 122h4M28 126h4M164 126h16M16 130h12M156 130h4M16 134h12M148 134h4M16 138h12M20 142h12M20 146h16M24 150h16M48 150h4M32 154h4M64 154h4M28 158h4M76 158h4M88 166h4M112 166h4M88 170h4M104 170h4M92 174h12M92 178h8M92 182h8M92 186h8M92 190h8"/><path stroke="#a4a4a4" d="M76 10h4M116 10h8M72 14h8M116 14h4M68 18h16M116 18h4M68 22h16M116 22h4M72 26h8M120 26h4M76 30h4M80 38h4M84 42h4M88 46h4M20 54h12M92 54h4M104 54h4M20 58h12M92 58h4M104 58h4M16 62h12M92 62h4M100 62h4M16 66h12M88 66h4M100 66h4M16 70h16M88 70h4M96 70h4M28 74h4M92 74h8M32 78h4M32 82h4M36 86h4M40 98h4M40 102h4M40 106h4M40 110h4M36 114h4M32 118h8M28 122h4M12 126h16M180 126h8M160 130h4M144 138h4M136 146h4M40 150h8M60 154h4M72 158h4M80 162h4M120 162h4M84 166h4M88 174h4M88 178h4M100 178h4M88 182h4M100 182h4M88 186h4M100 186h4M88 190h4M100 190h4"/><path stroke="#a8a8a8" d="M80 10h8M112 10h4M80 14h8M112 14h4M84 18h8M112 18h4M84 22h8M108 22h8M80 26h4M116 26h4M120 30h4M120 34h4M108 46h4M92 50h4M96 58h8M96 62h4M92 66h8M92 70h4M12 74h16M12 78h20M28 82h4M32 86h4M36 90h4M36 94h4M36 110h4M32 114h4M12 118h4M24 118h8M12 122h16M164 130h12M152 134h4M140 142h4M36 154h4M56 154h4M132 154h4M32 158h4M68 158h4M76 162h4M80 166h4M84 170h4M108 170h4M84 174h4M104 174h4M84 178h4M84 182h4M84 186h4M84 190h4M104 190h4"/><path stroke="#acacac" d="M88 10h4M108 10h4M88 14h4M108 14h4M92 18h4M104 18h8M92 22h4M104 22h4M84 26h4M112 26h4M80 30h4M80 34h4M116 38h4M112 42h4M104 50h4M96 54h8M12 82h16M28 86h4M32 90h4M36 98h4M36 102h4M36 106h4M8 110h28M12 114h20M16 118h8M176 130h12M156 134h4M148 138h4M136 150h4M52 154h4M64 158h4M128 158h4M72 162h4M76 166h4M116 166h4M80 170h4M80 174h4M80 178h4M104 178h4M80 182h4M104 182h4M80 186h4M104 186h4M80 190h4"/><path stroke="#b0b0b0" d="M92 10h16M92 14h16M96 18h8M96 22h8M88 26h8M104 26h8M116 30h4M84 38h4M88 42h4M92 46h4M104 46h4M96 50h8M12 86h16M28 90h4M32 94h4M32 98h4M8 102h28M8 106h28M160 134h8M36 158h4M60 158h4M68 162h4M124 162h4M72 166h4M76 170h4M112 170h4"/><path stroke="#b4b4b4" d="M96 26h8M84 30h4M112 30h4M116 34h4M108 42h4M96 46h8M8 90h20M8 94h24M8 98h24M168 134h16M152 138h4M144 142h4M140 146h4M40 154h4M48 154h4M32 162h4M120 166h4M76 174h4M108 174h4M76 178h4M76 182h4M76 186h4M108 186h4M76 190h4M108 190h4"/><path stroke="#b8b8b8" d="M88 30h4M108 30h4M84 34h4M112 38h4M92 42h4M44 154h4M136 154h4M56 158h4M132 158h4M36 162h4M64 162h4M68 166h4M72 170h4M72 174h4M72 178h4M108 178h4M72 182h4M108 182h4M72 186h4"/><path stroke="#bcbcbc" d="M92 30h16M112 34h4M88 38h4M96 42h12M156 138h8M180 138h4M148 142h4M140 150h4M40 158h4M52 158h4M128 162h4M68 170h4M116 170h4M112 174h4"/><path stroke="#c0c0c0" d="M88 34h4M108 34h4M92 38h4M108 38h4M164 138h16M144 146h4M44 158h8M136 158h4M40 162h8M60 162h4M36 166h8M64 166h4M124 166h4M68 174h4M68 178h4M112 178h4M68 182h4M112 182h4M68 186h4M112 186h4M112 190h4"/><path stroke="#c4c4c4" d="M92 34h16M96 38h12M152 142h4M140 154h4M48 162h4M56 162h4M132 162h4M44 166h4M40 170h4M64 170h4M120 170h4M64 174h4M116 174h4M64 186h4"/><path stroke="#c8c8c8" d="M156 142h4M176 142h4M148 146h4M144 150h4M140 158h4M52 162h4M48 166h4M60 166h4M128 166h4M44 170h4M124 170h4M60 178h8M56 182h12M116 186h4M116 190h4"/><path stroke="#cccccc" d="M160 142h16M176 146h4M144 154h4M144 158h4M136 162h8M52 166h8M132 166h4M48 170h4M60 170h4M128 170h4M144 170h4M44 174h4M56 174h8M120 174h8M132 174h20M52 178h8M116 178h4M128 178h20M116 182h4M128 182h16M120 186h4M128 186h8M120 190h4"/><path stroke="#d0d0d0" d="M152 146h8M148 150h4M148 154h4M148 158h4M144 162h16M136 166h24M52 170h8M132 170h12M148 170h12M48 174h8M128 174h4M152 174h4M120 178h8M120 182h8M124 186h4"/><path stroke="#d4d4d4" d="M160 146h16M152 150h12M172 150h4M152 154h24M152 158h20M160 162h8M160 166h4"/><path stroke="#d8d8d8" d="M164 150h8"/></g></g></g>
<path clip-path="url(#cl02)" d="M681.7 160.0L682.7 156.0L682.4 148.0L679.2 144.0L675.9 144.0L673.0 148.0L671.7 156.0L674.0 162.5L681.7 160.0M669.6 192.0L671.4 188.0L672.4 180.0L670.0 173.9L666.0 171.0L658.0 168.7L650.0 171.4L648.0 176.0L648.3 184.0L650.0 190.1L654.0 193.6L662.0 195.3L669.6 192.0M661.0 208.0L666.0 204.1L670.0 201.5L674.0 197.9L677.3 192.0L679.1 188.0L682.0 182.7L685.5 176.0L686.4 172.0L687.9 164.0L688.8 156.0L688.8 148.0L686.6 140.0L684.6 136.0L682.0 129.9L678.0 125.2L672.1 128.0L669.4 132.0L666.2 140.0L665.2 144.0L662.9 152.0L659.8 156.0L654.2 160.0L650.0 162.8L646.0 165.5L642.0 168.8L639.7 176.0L640.8 184.0L642.0 191.3L644.3 196.0L648.0 200.0L651.6 204.0L655.1 208.0L661.0 208.0M622.0 168.0L624.2 164.0L623.6 156.0L622.0 151.9L618.0 146.5L614.0 143.7L608.5 144.0L604.7 148.0L605.1 156.0L607.2 160.0L610.0 165.0L614.0 169.3L622.0 168.0M667.1 216.0L670.1 212.0L674.0 206.2L678.0 201.1L681.0 196.0L683.1 192.0L686.0 187.8L690.2 184.0L694.8 180.0L697.4 172.0L695.5 164.0L695.2 156.0L694.8 148.0L693.8 144.0L691.1 136.0L689.1 132.0L686.0 125.4L682.5 120.0L678.0 117.5L671.2 120.0L667.6 124.0L665.1 128.0L662.0 133.8L659.3 140.0L658.0 144.3L654.0 151.4L650.0 155.1L646.0 157.9L638.0 159.0L634.0 155.4L630.0 150.7L626.0 146.4L622.0 142.4L618.0 138.6L614.0 136.0L609.3 136.0L602.3 140.0L600.0 144.0L599.8 152.0L602.0 158.2L604.8 164.0L606.2 168.0L609.8 176.0L612.9 180.0L615.2 184.0L618.0 190.4L622.0 194.1L626.0 196.4L631.9 200.0L636.5 204.0L639.8 208.0L643.5 212.0L650.0 215.6L654.0 217.1L662.0 218.8L667.1 216.0M630.0 190.1L625.5 188.0L626.0 181.2L630.2 184.0L630.0 190.1M730.0 162.8L722.0 161.9L718.0 159.5L714.0 154.3L711.0 148.0L709.6 144.0L706.0 137.3L702.0 134.1L698.0 130.9L694.0 127.0L690.0 121.3L687.2 116.0L684.6 112.0L682.0 107.9L674.0 107.5L670.0 110.3L666.0 114.2L662.8 120.0L660.7 124.0L658.0 129.0L654.1 136.0L651.8 140.0L649.7 144.0L644.0 148.0L641.2 148.0L634.0 144.3L630.0 141.5L626.0 138.0L622.2 132.0L621.0 128.0L621.1 120.0L626.0 116.0L627.2 112.0L625.5 108.0L621.6 104.0L614.0 101.6L606.0 103.0L602.0 104.4L598.0 108.0L594.9 116.0L592.9 120.0L589.8 124.0L586.0 129.2L584.8 136.0L587.4 140.0L592.0 144.0L594.3 148.0L597.0 156.0L599.0 160.0L601.9 168.0L602.3 172.0L602.8 180.0L601.9 184.0L594.9 188.0L590.0 191.0L587.8 196.0L590.0 200.1L595.8 204.0L602.0 205.6L610.0 206.3L618.0 208.0L622.0 209.5L630.0 211.9L634.0 213.5L638.1 216.0L644.8 220.0L650.0 222.2L656.3 224.0L662.0 225.0L666.2 224.0L671.8 220.0L674.8 216.0L678.0 210.2L682.0 204.1L685.0 200.0L687.7 196.0L691.3 192.0L698.0 188.4L702.0 186.7L706.0 184.0L714.0 183.2L722.0 181.3L726.0 178.3L730.0 175.3M666.0 80.0L664.9 84.0L670.0 87.6L672.7 92.0L670.0 98.1L666.0 102.8L662.0 106.4L658.0 110.3L654.8 116.0L652.2 120.0L646.0 123.8L641.5 120.0L638.0 113.6L634.5 108.0L631.7 104.0L629.1 100.0L628.3 92.0L630.3 88.0L636.8 84.0L630.0 82.4M570.0 138.5L572.9 144.0L577.5 148.0L582.0 149.0L588.6 152.0L591.5 156.0L594.2 160.0L596.6 168.0L594.3 176.0L592.3 180.0L588.3 184.0L582.4 188.0L578.8 192.0L579.4 200.0L585.0 204.0L590.0 207.4L594.0 209.5L600.4 212.0L606.0 214.4L610.8 216.0L618.0 218.3L622.9 220.0L630.0 222.5L634.5 224.0L638.0 229.1L638.8 236.0L639.3 244.0M578.6 208.0L577.7 204.0L576.0 196.0L573.5 192.0L570.3 184.0M651.5 244.0L653.8 236.0L657.2 232.0L662.0 231.0L670.0 228.4L674.0 225.5L678.0 220.3L680.6 216.0L683.4 212.0L687.4 208.0L692.1 204.0L698.0 200.1L702.0 198.8L710.0 197.1L714.0 195.8L722.0 192.6M650.0 105.5L642.0 106.1L638.0 101.3L637.2 96.0L642.0 93.8L650.0 93.0L657.8 96.0L654.0 102.9L650.0 105.5M586.0 165.8L578.0 164.2L574.0 160.7L574.0 159.3L582.0 159.7L586.0 163.9L586.0 165.8M661.4 244.0L664.7 240.0L670.0 237.9L674.8 236.0L679.5 232.0L682.0 225.4L685.1 220.0L690.0 216.2L694.0 214.4L698.0 210.1L702.0 205.6L706.0 203.4L714.0 201.4L719.8 200.0M590.0 222.4L594.0 218.3L601.1 220.0L606.0 222.2L610.0 224.6L614.0 231.1L614.3 236.0" fill="none" stroke="#fff" stroke-width="4" stroke-dasharray="4 8"/>
<path d="M564.35 162.00A83.85 86.10 0 1 1 732.05 162.00A83.85 86.10 0 1 1 564.35 162.00ZM639.82 75.90L648.20 67.29L656.59 75.90M731.55 152.44L733.73 148.65L735.07 148.52L737.06 149.15L739.08 152.44L738.76 162.95L739.93 178.05L737.42 184.61L733.73 185.83L730.21 182.65M564.85 152.44L562.67 148.65L561.33 148.52L559.34 149.15L557.32 152.44L557.64 162.95L556.47 178.05L558.98 184.61L562.67 185.83L566.19 182.65" fill="none" stroke="#000" stroke-width="6" stroke-linejoin="miter" stroke-miterlimit="10"/>
</g>
<g id="head-A4">
<g clip-path="url(#cl03)"><g filter="url(#cm)"><g transform="translate(785 62)" stroke-width="4" fill="none" shape-rendering="crispEdges"><path stroke="#2c2c2c" d="M124 102h4M120 106h8"/><path stroke="#303030" d="M120 102h4M128 102h4M128 106h4M120 110h8"/><path stroke="#343434" d="M120 98h8M116 106h4"/><path stroke="#383838" d="M128 98h4M116 102h4M132 102h4M116 110h4M128 110h4M116 114h8M100 118h4M108 122h4"/><path stroke="#3c3c3c" d="M124 94h4M116 98h4M112 102h4M112 106h4M132 106h4M108 110h8M96 114h20M124 114h4M96 118h4M104 118h16M96 122h12M112 122h8M100 126h16M108 130h4"/><path stroke="#404040" d="M120 94h4M128 94h4M132 98h4M108 106h4M96 110h12M92 114h4M92 118h4M120 118h4M96 126h4M116 126h4M100 130h8M112 130h4"/><path stroke="#444444" d="M124 90h4M116 94h4M132 94h4M112 98h4M108 102h4M100 106h8M92 110h4M132 110h4M128 114h4M124 118h4M92 122h4M120 122h4M96 130h4M116 130h4M100 134h16"/><path stroke="#484848" d="M120 90h4M128 90h4M112 94h4M136 98h4M104 102h4M136 102h4M96 106h4M88 114h4M88 118h4M92 126h4M120 126h4M96 134h4M116 134h4M100 138h16"/><path stroke="#4c4c4c" d="M120 86h12M116 90h4M132 90h4M136 94h4M108 98h4M100 102h4M92 106h4M136 106h4M88 110h4M128 118h4M88 122h4M124 122h4M92 130h4M120 130h4M96 138h4M108 142h4"/><path stroke="#505050" d="M124 82h4M96 102h4M88 106h4M84 110h4M84 114h4M132 114h4M88 126h4M124 126h4M92 134h4M116 138h4M100 142h8M112 142h4"/><path stroke="#545454" d="M120 82h4M128 82h4M116 86h4M132 86h4M112 90h4M136 90h4M64 94h8M108 94h4M64 98h12M104 98h4M140 98h4M84 102h12M140 102h4M84 106h4M136 110h4M84 118h4M84 122h4M128 122h4M88 130h4M120 134h4M92 138h4M96 142h4M116 142h4"/><path stroke="#585858" d="M124 78h8M132 82h4M136 86h4M72 94h8M140 94h4M76 98h12M100 98h4M64 102h20M80 106h4M80 110h4M80 114h4M132 118h4M124 130h4M88 134h4M120 138h4M92 142h4M100 146h16"/><path stroke="#5c5c5c" d="M124 74h4M120 78h4M116 82h4M112 86h4M64 90h8M108 90h4M140 90h4M60 94h4M80 94h4M104 94h4M60 98h4M88 98h12M60 102h4M68 106h12M140 106h4M76 110h4M136 114h4M80 118h4M132 122h4M84 126h4M128 126h4M96 146h4"/><path stroke="#606060" d="M120 74h4M128 74h4M132 78h4M136 82h4M60 90h4M72 90h4M84 94h4M144 98h4M64 106h4M72 110h4M76 114h4M80 122h4M84 130h4M124 134h4M88 138h4M120 142h4M116 146h4M104 150h8"/><path stroke="#646464" d="M124 54h4M124 58h4M124 62h4M124 66h4M120 70h12M132 74h4M116 78h4M112 82h4M60 86h12M140 86h4M76 90h4M56 94h4M88 94h4M100 94h4M144 94h4M56 98h4M144 102h4M60 106h4M68 110h4M140 110h4M72 114h4M76 118h4M136 118h4M132 126h4M128 130h4M88 142h4M92 146h4M100 150h4M112 150h4"/><path stroke="#686868" d="M124 50h8M120 54h4M128 54h4M120 58h4M128 58h4M120 62h4M128 62h4M120 66h4M128 66h4M132 70h4M116 74h4M136 78h4M72 86h4M108 86h4M56 90h4M80 90h4M104 90h4M144 90h4M92 94h8M56 102h4M64 110h4M80 126h4M84 134h4M124 138h4M120 146h4M96 150h4"/><path stroke="#6c6c6c" d="M124 46h12M64 50h4M120 50h4M132 50h4M132 54h4M132 58h4M132 62h4M132 66h4M116 70h4M136 74h4M112 78h4M64 82h4M140 82h4M56 86h4M144 106h4M68 114h4M140 114h4M72 118h4M76 122h4M136 122h4M128 134h4M124 142h4M116 150h4M104 154h8"/><path stroke="#707070" d="M128 42h4M64 46h8M60 50h4M68 50h4M60 54h12M116 54h4M60 58h8M116 58h4M60 62h8M116 62h4M64 66h4M116 66h4M136 70h4M112 74h4M140 78h4M60 82h4M68 82h4M108 82h4M76 86h4M104 86h4M144 86h4M84 90h4M100 90h4M148 94h4M148 98h4M56 106h4M60 110h4M144 110h4M76 126h4M80 130h4M132 130h4M84 138h4M88 146h4M92 150h4M100 154h4"/><path stroke="#747474" d="M64 42h4M124 42h4M132 42h4M60 46h4M120 46h4M136 46h4M72 50h4M116 50h4M136 50h4M72 54h4M136 54h4M68 58h4M136 58h4M68 62h4M136 62h4M60 66h4M68 66h4M136 66h4M60 70h8M112 70h4M140 74h4M60 78h8M108 78h4M56 82h4M72 82h4M144 82h4M52 90h4M88 90h12M148 90h4M52 94h4M52 98h4M148 102h4M64 114h4M68 118h4M140 118h4M72 122h4M136 126h4M80 134h4M128 138h4M84 142h4M124 146h4M120 150h4M96 154h4M112 154h4"/><path stroke="#787878" d="M128 38h8M60 42h4M68 42h4M136 42h4M72 46h4M76 50h4M56 54h4M56 58h4M72 58h4M112 58h4M56 62h4M112 62h4M56 66h4M112 66h4M140 66h4M68 70h4M140 70h4M60 74h12M56 78h4M68 78h4M144 78h4M104 82h4M52 86h4M80 86h4M52 102h4M148 106h4M56 110h4M60 114h4M144 114h4M64 118h4M68 122h4M140 122h4M72 126h4M76 130h4M132 134h4M116 154h4M104 158h4"/><path stroke="#7c7c7c" d="M72 42h4M120 42h4M56 46h4M76 46h4M116 46h4M56 50h4M140 50h4M76 54h4M112 54h4M140 54h4M140 58h4M72 62h4M140 62h4M56 70h4M144 70h4M56 74h4M108 74h4M144 74h4M72 78h4M52 82h4M76 82h4M148 82h4M84 86h4M100 86h4M148 86h4M152 94h4M152 98h4M152 102h4M52 106h4M148 110h4M64 122h4M68 126h4M136 130h4M80 138h4M128 142h4M84 146h4M88 150h4M124 150h4M92 154h4M100 158h4M108 158h4"/><path stroke="#808080" d="M128 34h8M64 38h8M124 38h4M136 38h4M140 46h4M80 50h4M112 50h4M80 54h4M52 58h4M76 58h4M144 58h4M52 62h4M144 62h4M72 66h4M144 66h4M72 70h4M108 70h4M52 74h4M72 74h4M148 74h4M52 78h4M104 78h4M148 78h4M88 86h4M96 86h4M152 90h4M156 98h4M156 102h8M152 106h16M152 110h4M160 110h4M56 114h4M148 114h4M60 118h4M144 118h4M60 122h4M60 126h8M140 126h4M56 130h20M52 134h16M76 134h4M128 146h4M120 154h4M96 158h4M112 158h4"/><path stroke="#848484" d="M136 34h4M60 38h4M56 42h4M76 42h4M140 42h4M80 46h4M52 50h4M144 50h4M52 54h4M108 54h4M144 54h4M108 58h4M76 62h4M108 62h4M52 66h4M108 66h4M52 70h4M148 70h4M104 74h4M76 78h4M152 78h4M80 82h4M100 82h4M152 82h4M92 86h4M152 86h4M48 90h4M48 94h4M156 94h4M48 98h4M160 98h8M48 102h4M164 102h8M168 106h4M52 110h4M156 110h4M164 110h8M152 114h4M56 118h4M56 122h4M144 122h4M56 126h4M48 130h8M48 134h4M68 134h8M136 134h4M52 138h16M132 138h4M80 142h4"/><path stroke="#888888" d="M128 30h8M60 34h8M124 34h4M56 38h4M72 38h4M120 38h4M140 38h4M116 42h4M52 46h4M84 46h4M112 46h4M144 46h4M84 50h4M108 50h4M84 54h4M148 54h4M80 58h4M148 58h4M148 62h4M76 66h4M148 66h4M76 70h4M104 70h4M76 74h4M152 74h4M48 82h4M48 86h4M156 90h4M160 94h8M168 98h4M172 102h4M184 102h8M48 106h4M172 106h20M172 110h4M188 110h4M52 114h4M156 114h12M52 118h4M148 118h4M52 122h4M52 126h4M44 130h4M140 130h4M44 134h4M48 138h4M68 138h4M76 138h4M132 142h4M84 150h4M128 150h4M88 154h4M124 154h4M92 158h4M116 158h4M96 162h16"/><path stroke="#8c8c8c" d="M128 26h8M60 30h4M124 30h4M136 30h4M56 34h4M68 34h4M140 34h4M52 42h4M80 42h4M144 42h4M88 50h4M148 50h4M48 54h4M104 54h4M48 58h4M104 58h4M48 62h4M80 62h4M104 62h4M48 66h4M104 66h4M152 66h4M48 70h4M152 70h4M48 74h4M48 78h4M80 78h4M100 78h4M156 78h4M84 82h4M96 82h4M156 82h4M156 86h8M160 90h12M168 94h4M172 98h20M176 102h8M48 110h4M176 110h12M168 114h8M152 118h12M48 122h4M148 122h4M44 126h8M144 126h4M40 130h4M40 134h4M44 138h4M72 138h4M136 138h4M56 142h8M76 142h4M80 146h4M132 146h4M92 162h4M112 162h4"/><path stroke="#909090" d="M120 10h4M64 14h4M120 14h16M56 18h12M120 18h24M52 22h16M120 22h28M44 26h24M120 26h8M136 26h20M48 30h12M64 30h8M140 30h20M52 34h4M72 34h4M120 34h4M144 34h16M52 38h4M76 38h4M144 38h8M148 42h4M48 46h4M88 46h4M108 46h4M148 46h4M48 50h4M104 50h4M88 54h4M152 54h4M84 58h4M152 58h4M152 62h4M80 66h4M156 70h4M80 74h4M100 74h4M156 74h4M160 78h4M88 82h8M160 82h28M164 86h24M172 90h20M172 94h20M48 114h4M176 114h12M48 118h4M164 118h8M44 122h4M152 122h4M40 126h4M36 130h4M144 130h4M140 134h4M40 138h4M48 142h8M64 142h12M84 154h4M128 154h4M88 158h4M120 158h4M96 166h8"/><path stroke="#949494" d="M116 10h4M68 14h4M116 14h4M68 18h4M116 18h4M68 22h4M116 22h4M68 26h4M40 30h8M72 30h4M120 30h4M44 34h8M160 34h4M48 38h4M116 38h4M152 38h12M48 42h4M84 42h4M112 42h4M152 42h4M44 46h4M92 46h4M104 46h4M152 46h4M44 50h4M92 50h12M152 50h4M44 54h4M92 54h4M100 54h4M156 54h4M44 58h4M88 58h4M100 58h4M156 58h4M44 62h4M84 62h4M100 62h4M156 62h4M44 66h4M100 66h4M156 66h4M44 70h4M80 70h4M100 70h4M44 74h4M160 74h4M44 78h4M84 78h4M96 78h4M164 78h24M44 82h4M44 86h4M44 90h4M44 94h4M44 98h4M44 102h4M44 106h4M44 110h4M44 114h4M44 118h4M172 118h16M40 122h4M156 122h4M36 126h4M148 126h4M36 134h4M44 142h4M136 142h4M76 146h4M80 150h4M132 150h4M88 162h4M116 162h4M92 166h4M104 166h8"/><path stroke="#989898" d="M112 10h4M72 14h4M112 14h4M72 18h4M112 18h4M72 22h4M112 22h4M72 26h4M116 26h4M36 34h8M76 34h4M32 38h16M80 38h4M164 38h4M28 42h20M88 42h4M156 42h12M24 46h20M96 46h8M156 46h12M28 50h16M156 50h8M32 54h12M96 54h4M32 58h12M92 58h8M32 62h12M32 66h12M84 66h4M40 70h4M160 70h4M84 74h4M96 74h4M164 74h24M88 78h8M40 118h4M36 122h4M160 122h28M32 126h4M152 126h4M32 130h4M148 130h4M32 134h4M144 134h4M36 138h4M140 138h4M72 146h4M136 146h4M84 158h4M124 158h4M92 170h12"/><path stroke="#9c9c9c" d="M76 10h8M108 10h4M76 14h8M108 14h4M76 18h8M104 18h8M76 22h8M104 22h8M76 26h4M112 26h4M76 30h4M116 30h4M116 34h4M108 42h4M168 42h4M168 46h4M24 50h4M164 50h8M24 54h8M160 54h4M28 58h4M160 58h4M28 62h4M88 62h12M160 62h4M28 66h4M96 66h4M160 66h4M28 70h12M84 70h4M96 70h4M164 70h20M36 74h8M40 78h4M36 82h8M40 86h4M40 90h4M40 94h4M40 98h4M40 102h4M40 106h4M40 110h4M40 114h4M32 122h4M156 126h4M28 130h4M152 130h4M28 134h4M32 138h4M40 142h4M140 142h4M52 146h20M76 150h4M80 154h4M132 154h4M128 158h4M88 166h4M112 166h4M104 170h4M96 174h8M96 178h8M96 182h8M96 186h8M96 190h8"/><path stroke="#a0a0a0" d="M84 10h24M84 14h24M84 18h20M84 22h20M80 26h8M92 26h4M104 26h8M80 30h4M80 34h4M84 38h4M112 38h4M92 42h16M172 50h4M20 54h4M164 54h16M20 58h8M164 58h16M16 62h12M164 62h20M16 66h12M88 66h8M164 66h20M12 70h16M88 70h8M12 74h24M88 74h8M12 78h28M28 82h8M32 86h8M36 90h4M36 118h4M28 126h4M160 126h20M24 130h4M16 134h12M148 134h4M16 138h16M144 138h4M20 142h12M36 142h4M20 146h8M48 146h4M136 150h4M84 162h4M120 162h4M88 170h4M108 170h4M92 174h4M104 174h4M92 178h4M92 182h4M92 186h4M92 190h4"/><path stroke="#a4a4a4" d="M88 26h4M96 26h8M112 30h4M88 38h4M12 82h16M28 86h4M32 90h4M36 94h4M36 98h4M36 102h4M36 106h4M36 110h4M36 114h4M32 118h4M28 122h4M24 126h4M180 126h8M12 130h12M156 130h8M152 134h4M148 138h4M32 142h4M144 142h4M28 146h4M40 146h8M140 146h4M24 150h8M72 150h4M76 154h4M80 158h4M132 158h4M124 162h4M84 166h4M116 166h4M88 174h4M104 178h4M104 182h4M104 186h4M104 190h4"/><path stroke="#a8a8a8" d="M84 30h28M84 34h4M112 34h4M92 38h8M104 38h8M8 86h20M28 90h4M32 94h4M32 98h4M32 102h4M32 106h4M32 110h4M32 114h4M28 118h4M12 122h4M24 122h4M12 126h12M164 130h8M156 134h4M32 146h8M32 150h4M68 150h4M24 154h12M136 154h4M28 158h4M84 170h4M112 170h4M108 174h4M88 178h4M88 182h4M88 186h4M88 190h4"/><path stroke="#acacac" d="M88 34h24M100 38h4M8 90h20M24 94h8M28 98h4M28 114h4M12 118h16M16 122h8M172 130h12M160 134h4M152 138h4M148 142h4M144 146h4M36 150h4M52 150h16M140 150h4M32 158h4M80 162h4M128 162h4M120 166h4M116 170h4M84 174h4M84 178h4M108 178h4M84 182h4M108 182h4M84 186h4M108 186h4M84 190h4M108 190h4"/><path stroke="#b0b0b0" d="M8 94h16M24 98h4M28 102h4M28 106h4M28 110h4M8 114h20M164 134h8M156 138h4M40 150h12M36 154h4M72 154h4M76 158h4M136 158h4M132 162h4M80 166h4M124 166h4M80 170h4M112 174h4"/><path stroke="#b4b4b4" d="M8 98h16M8 102h8M24 102h4M24 106h4M8 110h20M172 134h12M160 138h4M152 142h4M68 154h4M140 154h4M36 158h4M76 162h4M128 166h4M120 170h4M80 174h4M76 178h8M140 178h4M76 182h8M76 186h8M112 186h4M76 190h8M112 190h4"/><path stroke="#b8b8b8" d="M16 102h8M8 106h16M164 138h4M180 138h4M148 146h4M144 150h4M40 154h4M64 154h4M72 158h4M32 162h4M136 162h4M76 166h4M132 166h4M76 170h4M124 170h12M64 174h16M116 174h28M60 178h16M112 178h28M144 178h4M56 182h20M112 182h32M64 186h12M116 186h20M116 190h8"/><path stroke="#bcbcbc" d="M168 138h12M156 142h4M44 154h20M40 158h4M140 158h4M36 162h4M72 162h4M136 166h4M72 170h4M136 170h8M56 174h8M144 174h4M52 178h8"/><path stroke="#c0c0c0" d="M160 142h8M176 142h4M152 146h4M148 150h4M144 154h4M44 158h12M68 158h4M40 162h16M140 162h4M36 166h24M72 166h4M140 166h4M40 170h32M144 170h4M44 174h12M148 174h4"/><path stroke="#c4c4c4" d="M168 142h8M156 146h4M176 146h4M56 158h12M144 158h4M56 162h4M68 162h4M60 166h12M144 166h4M148 170h4M152 174h4"/><path stroke="#c8c8c8" d="M160 146h16M152 150h4M172 150h4M148 154h4M60 162h8M144 162h8M148 166h12M152 170h8"/><path stroke="#cccccc" d="M156 150h16M152 154h4M164 154h8M148 158h8M168 158h4M152 162h8M160 166h4"/><path stroke="#d0d0d0" d="M156 154h8M156 158h12M160 162h8"/></g></g></g>
<path clip-path="url(#cl03)" d="M896.2 192.0L899.6 188.0L899.0 183.4L895.0 179.3L891.0 172.3L887.0 170.7L883.0 175.1L883.0 176.9L887.0 184.0L887.8 188.0L891.0 194.2L896.2 192.0M914.1 132.0L915.9 128.0L915.7 120.0L913.6 116.0L909.9 116.0L907.0 120.0L906.8 128.0L909.4 132.0L914.1 132.0M899.4 204.0L903.0 199.5L907.0 194.0L911.0 189.4L915.0 185.4L918.1 180.0L921.1 176.0L925.0 172.0L927.5 168.0L927.6 160.0L925.7 156.0L923.0 152.0L919.0 146.1L915.0 140.9L911.0 139.0L907.6 144.0L903.0 147.6L899.0 151.5L895.1 156.0L891.0 159.2L887.0 160.1L879.0 161.1L873.0 164.0L871.6 172.0L871.6 180.0L874.4 188.0L877.1 192.0L879.5 196.0L883.0 202.9L887.0 207.4L895.0 206.7L899.4 204.0M859.0 160.0L859.9 156.0L855.0 154.0L853.4 160.0L859.0 160.0M893.9 216.0L899.0 213.5L903.0 211.7L907.1 208.0L910.6 200.0L914.1 196.0L919.0 192.8L923.0 189.6L927.0 184.3L930.0 180.0L933.5 176.0L935.4 172.0L935.0 164.1L934.8 160.0L934.1 152.0L931.0 144.4L927.0 140.2L924.8 136.0L926.2 128.0L926.0 120.0L923.0 112.0L922.2 108.0L919.0 101.6L911.0 102.7L907.0 106.2L903.3 112.0L902.0 116.0L900.5 124.0L901.0 132.0L900.1 140.0L897.6 144.0L894.4 148.0L890.3 152.0L883.0 153.9L875.0 153.3L871.0 151.8L866.3 148.0L861.6 144.0L855.0 142.8L850.1 144.0L845.9 148.0L843.5 156.0L842.3 160.0L841.2 168.0L843.0 172.7L847.0 176.2L855.0 179.1L860.2 180.0L864.3 184.0L867.0 189.0L871.0 194.3L875.0 199.2L877.3 204.0L879.0 210.1L882.9 216.0L887.0 217.8L893.9 216.0M852.2 124.0L857.7 120.0L862.3 116.0L863.2 112.0L859.5 108.0L855.0 106.2L848.5 108.0L844.5 112.0L842.7 116.0L843.0 122.1L847.0 125.9L852.2 124.0M967.0 164.0L959.0 160.7L955.0 157.6L947.0 157.7L947.0 152.0L951.0 150.4L956.0 148.0L959.6 144.0L959.0 139.3L955.0 135.9L948.3 132.0L943.0 129.0L940.0 124.0L939.5 116.0L943.0 108.8L943.0 107.3L939.0 108.3L933.5 108.0L930.0 104.0L927.0 98.0L923.0 92.6L919.0 90.2L914.9 92.0L910.6 96.0L906.6 100.0L901.5 104.0L896.8 108.0L896.1 116.0L895.4 124.0L894.9 128.0L893.2 136.0L891.0 140.8L887.0 145.7L879.0 147.6L871.5 144.0L868.4 140.0L866.1 136.0L865.8 128.0L868.8 124.0L872.6 120.0L875.2 116.0L875.2 108.0L871.0 105.3L867.0 103.1L861.6 100.0L855.0 98.1L849.3 100.0L843.0 103.8L839.0 107.2L835.1 112.0L834.3 116.0L835.0 123.0L835.9 128.0L837.4 136.0L836.5 144.0L837.2 152.0L836.2 160.0L835.0 165.7L834.5 172.0L835.2 176.0L835.0 180.0L830.5 184.0L826.2 188.0L825.0 196.0L827.0 200.1L831.0 204.3L839.0 205.6L845.5 204.0L850.4 200.0L853.7 196.0L859.0 194.5L863.0 196.9L867.1 200.0L871.0 204.9L872.5 212.0L875.0 217.6L879.0 223.5L883.0 226.1L891.0 225.7L895.0 223.4L900.2 220.0L907.0 217.3L911.0 215.5L915.0 210.3L917.3 204.0L920.3 200.0L924.9 196.0L929.0 192.0L933.5 188.0L938.6 184.0L943.0 180.7L947.0 178.1L951.2 176.0L957.5 172.0L963.0 170.5L965.8 176.0M895.0 100.6L887.0 101.8L879.0 100.9L875.0 97.3L874.9 92.0L877.3 88.0L883.0 84.4L891.0 86.1L899.0 86.6L904.1 88.0L903.5 96.0L899.0 99.3L895.0 100.6M879.0 136.9L875.4 132.0L879.0 126.9L883.0 122.1L885.1 128.0L883.0 134.1L879.0 136.9M803.0 152.2L807.0 149.8L812.4 148.0L815.5 148.0L823.0 150.9L827.0 153.0L829.0 160.0L827.0 164.7L823.0 171.5L823.0 173.5L823.0 176.6L819.0 184.0L816.1 188.0L816.8 196.0L819.8 200.0L823.0 205.3L826.0 212.0L831.0 213.2L839.0 213.3L847.0 212.8L852.7 212.0L859.0 211.3L863.0 214.0L867.0 220.0L868.9 224.0L868.6 232.0L869.3 240.0L875.0 243.5L883.0 240.2L887.0 237.6L891.0 234.8L895.0 231.7L900.6 228.0L907.0 225.8L915.0 227.7L919.0 223.2L923.0 216.9L927.0 212.8L930.4 208.0L931.2 204.0L935.0 196.0L939.0 193.4L943.0 191.1L951.0 188.9L959.0 189.4M939.0 225.4L934.0 224.0L935.0 217.1L939.0 213.4L942.9 208.0L943.7 204.0L947.9 200.0L955.0 197.8M855.0 234.8L847.0 233.0L843.9 228.0L847.0 222.2L851.0 219.8L855.6 220.0L860.1 224.0L859.0 231.4L855.0 234.8" fill="none" stroke="#fff" stroke-width="4" stroke-dasharray="4 8"/>
<path d="M800.95 162.00A83.85 86.10 0 1 1 968.65 162.00A83.85 86.10 0 1 1 800.95 162.00ZM876.41 75.90L884.80 67.29L893.18 75.90M968.15 152.44L970.33 148.65L971.67 148.52L973.66 149.15L975.68 152.44L975.36 162.95L976.53 178.05L974.02 184.61L970.33 185.83L966.81 182.65M801.45 152.44L799.27 148.65L797.93 148.52L795.94 149.15L793.92 152.44L794.24 162.95L793.07 178.05L795.58 184.61L799.27 185.83L802.79 182.65" fill="none" stroke="#000" stroke-width="6" stroke-linejoin="miter" stroke-miterlimit="10"/>
</g>
<g id="head-B1">
<g clip-path="url(#cl10)"><g filter="url(#cm)"><g transform="translate(75 313)" stroke-width="4" fill="none" shape-rendering="crispEdges"><path stroke="#282828" d="M124 98h4M124 102h4"/><path stroke="#2c2c2c" d="M128 98h4M120 102h4M128 102h4M124 106h4"/><path stroke="#303030" d="M124 94h8M120 98h4M120 106h4M128 106h4"/><path stroke="#343434" d="M120 94h4M132 98h4M116 102h4M132 102h4M116 106h4M124 110h4"/><path stroke="#383838" d="M132 94h4M116 98h4M116 110h8"/><path stroke="#3c3c3c" d="M124 90h8M112 106h4M132 106h4M128 110h4"/><path stroke="#404040" d="M120 90h4M132 90h4M116 94h4M136 98h4M112 102h4M112 110h4M112 114h16"/><path stroke="#444444" d="M136 94h4M112 98h4M136 102h4M108 106h4M104 110h8M132 110h4M104 114h8M128 114h4M100 118h24M100 122h20M104 126h12M104 130h8M104 134h8M104 138h4"/><path stroke="#484848" d="M124 86h8M116 90h4M112 94h4M108 102h4M104 106h4M136 106h4M100 110h4M96 114h8M96 118h4M124 118h4M96 122h4M120 122h4M96 126h8M116 126h4M100 130h4M112 130h4M100 134h4M108 138h4M104 142h8"/><path stroke="#4c4c4c" d="M120 86h4M132 86h4M136 90h4M108 98h4M104 102h4M96 106h8M92 110h8M92 114h4M92 118h4M92 122h4M96 130h4M116 130h4M112 134h4M100 138h4M112 138h4"/><path stroke="#505050" d="M112 90h4M104 98h4M96 102h8M92 106h4M88 110h4M88 114h4M132 114h4M88 118h4M128 118h4M124 122h4M92 126h4M120 126h4M96 134h4M100 142h4M112 142h4M104 146h8"/><path stroke="#545454" d="M128 82h4M116 86h4M136 86h4M108 94h4M100 98h4M140 98h4M88 102h8M140 102h4M88 106h4M84 110h4M136 110h4M84 114h4M88 122h4M92 130h4M116 134h4M96 138h4"/><path stroke="#585858" d="M124 82h4M132 82h4M104 94h4M140 94h4M84 98h16M80 102h8M84 106h4M80 110h4M84 118h4M88 126h4M124 126h4M120 130h4M116 138h4M100 146h4M112 146h4"/><path stroke="#5c5c5c" d="M120 82h4M136 82h4M112 86h4M108 90h4M140 90h4M68 98h16M72 102h8M80 106h4M140 106h4M80 114h4M132 118h4M84 122h4M128 122h4M92 134h4M96 142h4M116 142h4M104 150h8"/><path stroke="#606060" d="M128 78h8M116 82h4M80 94h24M64 98h4M68 102h4M72 106h8M76 110h4M136 114h4M80 118h4M88 130h4M120 134h4M112 150h4"/><path stroke="#646464" d="M132 74h4M124 78h4M136 78h4M140 86h4M104 90h4M68 94h12M64 102h4M68 106h4M72 110h4M140 110h4M76 114h4M84 126h4M124 130h4M92 138h4M96 146h4M116 146h4M100 150h4"/><path stroke="#686868" d="M132 70h4M128 74h4M136 74h4M120 78h4M112 82h4M140 82h4M108 86h4M64 94h4M144 94h4M144 98h4M144 102h4M64 106h4M76 118h4M80 122h4M132 122h4M128 126h4M88 134h4M120 138h4M108 154h4"/><path stroke="#6c6c6c" d="M68 46h4M64 50h8M64 54h8M132 62h8M132 66h8M128 70h4M136 70h4M124 74h4M140 74h4M140 78h4M96 90h8M144 90h4M60 98h4M60 102h4M144 106h4M68 110h4M72 114h4M136 118h4M84 130h4M92 142h4M120 142h4M116 150h4M104 154h4"/><path stroke="#707070" d="M68 42h4M60 46h8M72 46h4M60 50h4M72 50h4M60 54h4M72 54h4M132 54h8M132 58h8M128 62h4M140 62h4M128 66h4M140 66h4M140 70h4M116 78h4M104 86h4M144 86h4M68 90h28M60 94h4M140 114h4M76 122h4M80 126h4M124 134h4M88 138h4M96 150h4M112 154h4"/><path stroke="#747474" d="M68 38h4M64 42h4M72 42h4M56 50h4M128 50h12M56 54h4M128 54h4M60 58h12M128 58h4M140 58h4M124 66h4M124 70h4M120 74h4M108 82h4M144 82h4M64 90h4M60 106h4M64 110h4M144 110h4M68 114h4M72 118h4M128 130h4M92 146h4M120 146h4M100 154h4"/><path stroke="#787878" d="M64 38h4M72 38h4M60 42h4M56 46h4M76 46h4M128 46h12M76 50h4M140 50h4M140 54h4M56 58h4M124 62h4M144 62h4M144 66h4M120 70h4M144 70h4M144 74h4M112 78h4M144 78h4M100 86h4M60 90h4M148 94h4M56 98h4M148 98h4M148 102h4M136 122h4M132 126h4M80 130h4M84 134h4M124 138h4"/><path stroke="#7c7c7c" d="M76 42h4M52 50h4M124 50h4M52 54h4M76 54h4M124 54h4M52 58h4M72 58h4M124 58h4M144 58h4M56 62h12M120 66h4M116 74h4M96 86h4M148 90h4M56 94h4M56 102h4M148 106h4M60 110h4M64 114h4M68 118h4M140 118h4M72 122h4M76 126h4M128 134h4M88 142h4M120 150h4M116 154h4M104 158h8"/><path stroke="#808080" d="M68 34h4M60 38h4M56 42h4M128 42h8M52 46h4M124 46h4M140 46h4M144 54h4M148 66h4M148 70h4M148 74h4M148 78h4M104 82h4M148 82h4M84 86h12M148 86h4M56 106h4M148 110h4M144 114h4M76 130h4M132 130h4M80 134h4M84 138h4M124 142h4M92 150h4M96 154h4M100 158h4M112 158h4"/><path stroke="#848484" d="M64 34h4M72 34h4M76 38h4M124 42h4M136 42h4M144 50h4M52 62h4M68 62h4M120 62h4M148 62h4M56 66h8M116 70h4M112 74h4M108 78h4M60 86h24M56 90h4M152 94h4M152 98h4M152 102h4M152 106h4M60 114h4M64 118h4M68 122h4M72 126h4M136 126h4M128 138h4M88 146h4M124 146h4"/><path stroke="#888888" d="M60 34h4M56 38h4M128 38h8M80 42h4M140 42h4M80 46h4M120 46h4M144 46h4M80 50h4M120 50h4M48 54h4M120 54h4M48 58h4M76 58h4M120 58h4M148 58h4M52 66h4M64 66h4M116 66h4M100 82h4M56 86h4M152 90h4M52 94h4M52 98h4M52 102h4M56 110h4M60 118h4M144 118h4M64 122h4M140 122h4M68 126h4M72 130h4M76 134h4M84 142h4M120 154h4M116 158h4"/><path stroke="#8c8c8c" d="M76 34h4M136 38h4M52 42h4M48 50h4M80 54h4M148 54h4M48 62h4M72 62h4M116 62h4M48 66h4M152 66h4M52 70h12M112 70h4M152 70h4M108 74h4M152 74h4M104 78h4M152 78h4M96 82h4M152 82h4M152 86h4M52 90h4M156 98h4M156 102h4M52 106h4M156 106h4M152 110h4M56 114h4M148 114h4M60 122h4M64 126h4M68 130h4M136 130h4M132 134h4M80 138h4M128 142h4M124 150h4M92 154h4M96 158h4M104 162h8"/><path stroke="#909090" d="M64 30h12M56 34h4M128 34h8M80 38h4M124 38h4M120 42h4M144 42h4M48 46h4M148 50h4M116 58h4M152 58h4M152 62h4M68 66h4M112 66h4M48 70h4M48 74h12M52 78h8M52 82h24M88 82h8M52 86h4M156 90h4M156 94h4M160 102h4M52 110h4M156 110h4M152 114h4M56 118h4M148 118h4M56 122h4M144 122h4M60 126h4M140 126h4M64 130h4M72 134h4M132 138h4M128 146h4M88 150h4M100 162h4"/><path stroke="#949494" d="M60 30h4M76 30h4M132 30h4M136 34h4M52 38h4M140 38h4M48 42h4M84 46h4M116 46h4M148 46h4M84 50h4M116 50h4M44 54h4M116 54h4M152 54h4M44 58h4M80 58h4M44 62h4M76 62h4M112 62h4M44 66h4M44 70h4M64 70h4M108 70h4M44 74h4M60 74h4M104 74h4M44 78h8M60 78h4M100 78h4M48 82h4M76 82h12M48 86h4M156 86h4M48 90h4M48 94h4M160 94h4M48 98h4M160 98h4M48 102h4M164 102h4M160 106h8M160 110h4M52 114h4M156 114h4M52 118h4M52 122h4M48 126h12M144 126h4M44 130h20M140 130h4M44 134h8M64 134h8M136 134h4M76 138h4M80 142h4M84 146h4M124 154h4M120 158h4M112 162h4"/><path stroke="#989898" d="M132 14h4M132 18h12M52 22h4M132 22h16M44 26h16M132 26h16M52 30h8M128 30h4M136 30h4M52 34h4M80 34h4M124 34h4M140 34h4M120 38h4M144 38h4M84 42h4M148 42h4M44 50h4M152 50h4M84 54h4M156 62h4M72 66h4M108 66h4M156 66h4M40 70h4M68 70h4M156 70h4M40 74h4M64 74h4M156 74h4M40 78h4M64 78h8M96 78h4M156 78h4M44 82h4M156 82h4M160 90h4M164 94h4M164 98h4M168 102h4M48 106h4M168 106h4M48 110h4M164 110h8M160 114h12M48 118h4M152 118h16M44 122h8M148 122h8M160 122h4M40 126h8M40 130h4M144 130h4M36 134h8M52 134h12M140 134h4M44 138h4M72 138h4M136 138h4M132 142h4M128 150h4M92 158h4M96 162h4M116 162h4"/><path stroke="#9c9c9c" d="M128 14h4M96 18h8M128 18h4M56 22h4M96 22h8M128 22h4M60 26h20M128 26h4M148 26h4M40 30h12M80 30h4M124 30h4M140 30h8M48 34h4M48 38h4M84 38h4M148 38h4M44 42h4M116 42h4M44 46h4M88 46h4M152 46h4M88 50h4M40 54h4M112 54h4M156 54h4M40 58h4M112 58h4M156 58h4M40 62h4M80 62h4M108 62h4M36 66h8M104 66h4M32 70h8M104 70h4M32 74h8M68 74h4M100 74h4M32 78h8M72 78h4M92 78h4M36 82h8M160 82h4M40 86h8M160 86h4M44 90h4M164 90h4M44 94h4M168 94h4M44 98h4M168 98h8M44 102h4M172 102h20M44 106h4M172 106h20M172 110h20M48 114h4M172 114h16M44 118h4M168 118h20M40 122h4M156 122h4M164 122h8M148 126h16M36 130h4M148 130h4M144 134h4M36 138h8M48 138h8M68 138h4M140 138h4M76 142h4M136 142h4M132 146h4M84 150h4M88 154h4M100 166h12"/><path stroke="#a0a0a0" d="M76 10h32M120 10h4M64 14h48M120 14h8M56 18h40M104 18h8M120 18h8M60 22h36M104 22h8M120 22h8M80 26h24M120 26h8M152 26h4M84 30h4M120 30h4M148 30h12M36 34h12M84 34h4M120 34h4M144 34h20M32 38h16M152 38h16M28 42h16M88 42h4M152 42h20M24 46h20M112 46h4M156 46h12M24 50h20M112 50h4M156 50h4M20 54h20M88 54h4M20 58h20M84 58h4M108 58h4M16 62h24M104 62h4M16 66h20M76 66h4M160 66h4M12 70h20M72 70h4M100 70h4M160 70h4M12 74h20M96 74h4M160 74h4M12 78h20M76 78h16M160 78h4M24 82h12M164 82h4M32 86h8M164 86h8M36 90h8M168 90h24M36 94h8M172 94h20M40 98h4M176 98h16M40 102h4M44 110h4M40 114h8M40 118h4M36 122h4M172 122h16M36 126h4M164 126h4M32 130h4M152 130h4M32 134h4M148 134h4M32 138h4M56 138h12M40 142h8M80 146h4M132 150h4M128 154h4M124 158h4M92 162h4M120 162h4M96 166h4M112 166h4"/><path stroke="#a4a4a4" d="M108 10h12M112 14h8M112 18h8M112 22h8M104 26h16M88 30h4M88 38h4M116 38h4M112 42h4M92 46h4M168 46h4M92 50h4M108 50h4M160 50h12M92 54h4M108 54h4M160 54h4M88 58h4M104 58h4M160 58h4M84 62h4M100 62h4M160 62h4M80 66h4M96 66h8M76 70h4M96 70h4M164 70h4M72 74h8M92 74h4M164 74h4M164 78h8M12 82h12M168 82h20M12 86h20M172 86h16M28 90h8M32 94h4M36 98h4M36 102h4M36 106h8M36 110h8M36 114h4M36 118h4M32 126h4M168 126h4M28 130h4M156 130h8M28 134h4M152 134h4M28 138h4M144 138h4M28 142h12M48 142h4M72 142h4M140 142h4M136 146h4M88 158h4"/><path stroke="#a8a8a8" d="M92 30h12M116 30h4M88 34h4M116 34h4M92 42h4M96 46h4M108 46h4M172 46h4M96 50h12M172 50h4M96 54h12M164 54h16M92 58h12M164 58h16M88 62h12M164 62h20M84 66h12M164 66h20M80 70h16M168 70h20M80 74h12M168 74h20M172 78h16M8 90h20M28 94h4M32 98h4M32 102h4M32 106h4M32 110h4M32 114h4M32 118h4M32 122h4M28 126h4M172 126h16M24 130h4M164 130h4M16 134h12M156 134h4M16 138h12M148 138h4M20 142h8M52 142h8M68 142h4M20 146h24M76 146h4M24 150h16M80 150h4M28 154h8M84 154h4M132 154h4M28 158h4M128 158h4M92 166h4M116 166h4M100 170h8"/><path stroke="#acacac" d="M104 30h12M92 34h4M92 38h4M112 38h4M96 42h4M108 42h4M100 46h8M8 94h20M24 98h8M28 102h4M28 122h4M24 126h4M16 130h8M168 130h4M60 142h8M144 142h4M44 146h8M140 146h4M40 150h4M136 150h4M36 154h4M32 158h4M88 162h4M124 162h4M120 166h4M96 170h4M108 170h8"/><path stroke="#b0b0b0" d="M96 34h20M96 38h4M108 38h4M100 42h8M8 98h16M8 102h8M24 102h4M28 106h4M28 110h4M28 114h4M28 118h4M24 122h4M12 126h12M172 130h4M160 134h4M152 138h4M52 146h4M72 146h4M40 154h4M36 158h4M84 158h4M32 162h4M88 166h4M92 170h4M116 170h4M104 174h4"/><path stroke="#b4b4b4" d="M100 38h8M16 102h8M8 106h20M24 110h4M24 114h4M12 118h4M24 118h4M12 122h12M176 130h8M164 134h4M156 138h4M148 142h4M56 146h4M68 146h4M144 146h4M44 150h4M76 150h4M140 150h4M80 154h4M136 154h4M40 158h4M132 158h4M36 162h8M84 162h4M128 162h4M124 166h4M120 170h4M96 174h8M108 174h8M100 178h8M100 182h8M96 186h16M96 190h16"/><path stroke="#b8b8b8" d="M8 110h16M12 114h12M16 118h8M168 134h4M160 138h4M152 142h4M60 146h8M48 150h4M44 154h4M44 158h4M44 162h4M36 166h8M88 170h4M88 174h8M116 174h4M92 178h8M108 178h8M92 182h8M108 182h8M92 186h4M112 186h8M92 190h4M112 190h8"/><path stroke="#bcbcbc" d="M172 134h12M148 146h4M52 150h4M72 150h4M48 154h4M76 154h4M140 154h4M80 158h4M136 158h4M132 162h4M44 166h4M84 166h4M128 166h4M40 170h4M84 170h4M124 170h4M120 174h4M88 178h4M116 178h8M88 182h4M116 182h8M88 186h4M120 186h4M88 190h4M120 190h4"/><path stroke="#c0c0c0" d="M164 138h4M180 138h4M156 142h4M56 150h8M68 150h4M144 150h4M52 154h4M48 158h4M48 162h4M80 162h4M48 166h4M44 170h4M128 170h4M84 174h4M124 174h4M84 178h4M124 178h4M84 182h4M124 182h4M84 186h4M124 186h4M84 190h4"/><path stroke="#c4c4c4" d="M168 138h12M160 142h4M152 146h4M64 150h4M72 154h4M52 158h4M76 158h4M140 158h4M52 162h4M136 162h4M52 166h4M80 166h4M132 166h4M48 170h4M80 170h4M44 174h4M80 174h4M128 174h4M80 178h4M128 178h4M80 182h4M128 182h4M80 186h4M128 186h4M80 190h4"/><path stroke="#c8c8c8" d="M164 142h4M176 142h4M156 146h4M148 150h4M56 154h4M144 154h4M76 162h4M56 166h4M52 170h12M132 170h4M48 174h20M76 174h4M132 174h16M52 178h16M76 178h4M132 178h16M56 182h12M76 182h4M132 182h12M64 186h4M76 186h4M132 186h4M76 190h4"/><path stroke="#cccccc" d="M168 142h8M160 146h4M176 146h4M152 150h4M60 154h12M148 154h4M56 158h4M72 158h4M144 158h4M56 162h4M140 162h4M60 166h4M76 166h4M136 166h8M64 170h16M136 170h16M68 174h8M148 174h4M68 178h8M68 182h8M68 186h8"/><path stroke="#d0d0d0" d="M164 146h12M156 150h4M172 150h4M152 154h4M168 154h4M60 158h12M148 158h4M60 162h16M144 162h16M64 166h12M144 166h16M152 170h8M152 174h4"/><path stroke="#d4d4d4" d="M160 150h12M156 154h12M152 158h20M160 162h8M160 166h4"/></g></g></g>
<path clip-path="url(#cl10)" d="M197.4 431.0L201.3 427.0L206.4 423.0L210.2 419.0L213.0 413.1L213.1 407.0L210.6 403.0L205.0 400.5L198.2 403.0L194.4 407.0L191.4 411.0L187.8 415.0L185.0 419.0L185.0 425.7L186.9 431.0L193.0 434.6L197.4 431.0M189.2 459.0L191.3 451.0L193.0 446.0L197.0 441.6L201.0 437.5L205.0 432.5L209.0 428.6L213.0 424.4L215.8 419.0L217.1 415.0L217.3 407.0L216.2 403.0L213.0 396.9L209.0 394.8L201.0 394.3L197.0 395.8L192.5 399.0L188.3 403.0L184.6 407.0L178.3 411.0L173.0 414.6L171.5 419.0L172.0 427.0L172.4 435.0L173.0 441.1L174.3 447.0L174.6 455.0L177.0 459.9L185.0 462.8L189.2 459.0M145.5 367.0L147.8 359.0L145.4 351.0L141.0 350.4L137.0 352.4L133.4 359.0L132.9 363.0L133.1 367.0L141.0 369.7L145.5 367.0M185.3 471.0L190.8 467.0L193.3 463.0L196.3 455.0L197.5 451.0L201.0 444.7L205.0 440.0L209.0 435.4L213.0 431.9L217.0 427.8L219.5 423.0L221.0 418.4L222.3 411.0L221.0 404.5L220.1 399.0L218.7 391.0L217.8 383.0L217.0 378.1L213.0 372.7L209.0 368.0L204.5 371.0L201.0 378.3L197.0 383.0L193.1 387.0L190.3 391.0L186.9 395.0L182.8 399.0L177.0 403.0L173.0 403.9L165.0 403.1L161.0 401.9L153.0 402.0L149.0 403.4L143.7 407.0L144.2 415.0L148.7 419.0L152.6 423.0L155.0 427.0L157.0 431.2L161.0 436.7L164.5 443.0L165.9 447.0L167.8 455.0L169.4 459.0L173.0 463.9L177.0 467.9L184.0 471.0L185.3 471.0M141.1 383.0L145.0 378.9L150.0 375.0L153.7 371.0L155.1 363.0L155.4 355.0L153.0 347.7L149.0 343.5L145.0 342.9L141.0 343.2L133.0 343.7L128.5 347.0L125.2 355.0L124.2 359.0L122.2 367.0L122.2 375.0L125.0 382.0L129.0 385.3L137.0 385.2L141.1 383.0M193.5 475.0L197.0 469.8L199.6 463.0L201.0 458.9L204.0 451.0L206.7 447.0L210.0 443.0L213.8 439.0L218.5 435.0L222.2 431.0L225.0 426.3L229.0 421.6L234.8 419.0L241.0 415.2L243.4 411.0L238.4 407.0L233.0 406.9L226.6 403.0L225.0 396.0L225.0 394.2L226.0 387.0L227.1 379.0L225.0 372.2L221.7 367.0L219.1 363.0L217.0 358.9L213.0 353.0L205.0 352.2L199.8 355.0L196.8 359.0L195.9 367.0L193.0 374.8L189.0 378.7L185.0 382.7L182.5 387.0L180.0 391.0L174.7 395.0L169.0 396.3L161.0 395.7L153.0 396.0L145.3 399.0L141.0 401.3L137.0 404.0L132.7 407.0L130.2 415.0L133.0 419.1L141.0 422.2L145.0 426.0L146.9 431.0L148.6 439.0L151.8 443.0L157.0 446.5L160.0 451.0L161.6 455.0L165.0 461.3L169.0 466.2L172.6 471.0L175.7 475.0L181.0 477.8L189.0 477.2L193.5 475.0M169.0 387.0L161.0 387.2L159.5 383.0L162.6 379.0L164.4 371.0L164.5 363.0L166.0 359.0L164.9 355.0L162.0 347.0L165.0 342.0L173.0 340.9L181.0 340.4L189.0 339.5L196.2 343.0L193.0 351.0L190.2 355.0L186.5 359.0L187.2 367.0L185.0 371.9L181.0 375.2L175.4 379.0L172.9 383.0L169.0 387.0M257.0 412.2L254.8 407.0L252.0 403.0L247.1 399.0L241.0 397.4L233.0 396.3L232.3 391.0L233.8 387.0L235.8 379.0L235.2 371.0L233.2 363.0L237.0 358.1M101.0 385.6L105.0 389.6L109.0 393.7L112.4 399.0L109.3 407.0L113.0 415.0L117.0 418.2L121.0 423.0L122.2 427.0L121.0 432.0L115.1 435.0L109.0 437.2L105.0 441.0L101.0 447.0M105.0 454.3L109.0 455.4L117.0 456.6L124.9 455.0L125.4 455.0L133.0 456.1L141.0 455.6L145.0 454.8L149.0 455.2L153.0 459.0L157.0 463.3L162.5 467.0L166.1 471.0L169.0 477.3L173.0 482.4L177.0 484.7L185.0 485.3L193.0 485.7L199.0 483.0L201.6 479.0L204.9 471.0L207.8 467.0L211.0 463.0L213.0 459.0L217.0 452.4L221.0 449.1L225.0 446.3L229.0 441.5L232.3 435.0L237.0 434.4L241.0 437.5L245.0 439.3L251.4 439.0M210.5 487.0L210.0 479.0L213.0 473.1L217.0 469.7L221.0 464.7L224.0 459.0L227.0 455.0L232.5 451.0L237.0 448.9L245.0 448.5M124.5 479.0L124.9 471.0L126.4 467.0L133.0 464.0L139.1 463.0L142.2 463.0L148.4 467.0L153.0 470.8L157.0 474.2L157.6 479.0L155.2 483.0L149.6 487.0" fill="none" stroke="#fff" stroke-width="4" stroke-dasharray="4 8"/>
<path d="M91.15 412.90A83.85 86.10 0 1 1 258.85 412.90A83.85 86.10 0 1 1 91.15 412.90ZM166.62 326.80L175.00 318.19L183.38 326.80M258.35 403.34L260.53 399.55L261.87 399.42L263.86 400.05L265.88 403.34L265.56 413.85L266.73 428.95L264.22 435.51L260.53 436.73L257.01 433.55M91.65 403.34L89.47 399.55L88.13 399.42L86.14 400.05L84.12 403.34L84.44 413.85L83.27 428.95L85.78 435.51L89.47 436.73L92.99 433.55" fill="none" stroke="#000" stroke-width="6" stroke-linejoin="miter" stroke-miterlimit="10"/>
</g>
<g id="head-B2">
<g clip-path="url(#cl11)"><g filter="url(#cm)"><g transform="translate(312 313)" stroke-width="4" fill="none" shape-rendering="crispEdges"><path stroke="#282828" d="M124 98h8M124 102h8"/><path stroke="#2c2c2c" d="M120 98h4M120 102h4M120 106h8"/><path stroke="#303030" d="M124 94h8M132 98h4M116 102h4M132 102h4M116 106h4M128 106h4M124 110h4"/><path stroke="#343434" d="M120 94h4M132 94h4M116 110h8"/><path stroke="#383838" d="M116 98h4M112 106h4M132 106h4M112 110h4M128 110h4M116 114h8"/><path stroke="#3c3c3c" d="M124 90h8M136 98h4M112 102h4M108 106h4M104 110h8M100 114h16M124 114h4M100 118h24M100 122h20M100 126h16M100 130h16M104 134h8M104 138h8"/><path stroke="#404040" d="M120 90h4M132 90h4M116 94h4M136 94h4M112 98h4M108 102h4M136 102h4M104 106h4M100 110h4M132 110h4M96 114h4M128 114h4M92 118h8M92 122h8M96 126h4M116 126h4M96 130h4M100 134h4M112 134h4M100 138h4M104 142h8"/><path stroke="#444444" d="M100 106h4M96 110h4M92 114h4M88 118h4M124 118h4M120 122h4M92 126h4M116 130h4M96 134h4M112 138h4M112 142h4"/><path stroke="#484848" d="M116 90h4M136 90h4M112 94h4M108 98h4M104 102h4M96 106h4M136 106h4M88 110h8M88 114h4M88 122h4M120 126h4M92 130h4M116 134h4M96 138h4M100 142h4M104 146h8"/><path stroke="#4c4c4c" d="M124 86h12M100 102h4M92 106h4M84 110h4M84 114h4M132 114h4M84 118h4M128 118h4M124 122h4M88 126h4M92 134h4M112 146h4"/><path stroke="#505050" d="M120 86h4M140 94h4M104 98h4M140 98h4M96 102h4M88 106h4M80 110h4M136 110h4M80 114h4M84 122h4M88 130h4M120 130h4M116 138h4M96 142h4M100 146h4"/><path stroke="#545454" d="M136 86h4M112 90h4M108 94h4M100 98h4M92 102h4M140 102h4M80 106h8M80 118h4M84 126h4M124 126h4M92 138h4M116 142h4M104 150h8"/><path stroke="#585858" d="M116 86h4M140 90h4M104 94h4M96 98h4M88 102h4M76 106h4M76 110h4M80 122h4M88 134h4M120 134h4"/><path stroke="#5c5c5c" d="M124 82h12M108 90h4M92 98h4M84 102h4M140 106h4M76 114h4M132 118h4M128 122h4M84 130h4M96 146h4M116 146h4M100 150h4M112 150h4"/><path stroke="#606060" d="M120 82h4M112 86h4M140 86h4M100 94h4M76 102h8M72 106h4M72 110h4M136 114h4M76 118h4M80 126h4M124 130h4M120 138h4M92 142h4"/><path stroke="#646464" d="M136 82h4M96 94h4M144 94h4M88 98h4M144 98h4M72 102h4M140 110h4M72 114h4M88 138h4"/><path stroke="#686868" d="M116 82h4M104 90h4M92 94h4M84 98h4M68 102h4M144 102h4M68 106h4M76 122h4M128 126h4M84 134h4M124 134h4M120 142h4M116 150h4M104 154h8"/><path stroke="#6c6c6c" d="M128 78h8M140 82h4M108 86h4M100 90h4M144 90h4M72 98h12M144 106h4M68 110h4M72 118h4M132 122h4M80 130h4M92 146h4M96 150h4"/><path stroke="#707070" d="M124 78h4M136 78h4M112 82h4M144 86h4M88 94h4M68 98h4M64 102h4M68 114h4M136 118h4M76 126h4M88 142h4M120 146h4M100 154h4M112 154h4"/><path stroke="#747474" d="M120 78h4M140 78h4M104 86h4M96 90h4M84 94h4M64 98h4M64 106h4M140 114h4M72 122h4M128 130h4M80 134h4M84 138h4M124 138h4"/><path stroke="#787878" d="M132 74h12M116 78h4M108 82h4M144 82h4M92 90h4M80 94h4M148 98h4M60 102h4M64 110h4M144 110h4M68 118h4M76 130h4"/><path stroke="#7c7c7c" d="M68 46h8M68 50h4M136 70h8M124 74h8M144 78h4M100 86h4M88 90h4M68 94h12M148 94h4M60 98h4M148 102h4M60 106h4M72 126h4M132 126h4M128 134h4M124 142h4M88 146h4M92 150h4M120 150h4M96 154h4M116 154h4M104 158h4"/><path stroke="#808080" d="M72 42h4M64 46h4M76 46h4M64 50h4M72 50h4M64 54h8M136 66h12M132 70h4M144 70h4M144 74h4M112 78h4M148 90h4M64 94h4M148 106h4M64 114h4M140 118h4M68 122h4M136 122h4M80 138h4M84 142h4M108 158h4"/><path stroke="#848484" d="M68 42h4M76 42h4M60 50h4M76 50h4M60 54h4M72 54h4M60 58h8M140 62h4M132 66h4M128 70h4M120 74h4M104 82h4M96 86h4M148 86h4M80 90h8M60 94h4M56 98h4M56 102h4M32 110h8M60 110h4M36 114h4M144 114h4M64 118h4M68 126h4M72 130h4M76 134h4M128 138h4M124 146h4M100 158h4M112 158h4"/><path stroke="#888888" d="M72 38h4M64 42h4M80 42h4M80 46h4M56 58h4M68 58h4M56 62h8M136 62h4M144 62h4M128 66h4M148 66h4M124 70h4M148 70h4M116 74h4M148 74h4M108 78h4M148 78h4M148 82h4M92 86h4M72 90h8M32 106h8M56 106h4M40 110h4M148 110h4M32 114h4M40 114h4M60 114h4M36 118h4M64 122h4M132 130h4"/><path stroke="#8c8c8c" d="M68 38h4M76 38h4M60 46h4M56 54h4M76 54h4M140 58h4M64 62h4M132 62h4M148 62h4M120 70h4M100 82h4M88 86h4M68 90h4M56 94h4M152 94h4M52 98h4M152 98h4M52 102h4M152 102h4M152 106h4M56 110h4M32 118h4M40 118h4M140 122h4M64 126h4M136 126h4M68 130h4M128 142h4M88 150h4M92 154h4M120 154h4M96 158h4"/><path stroke="#909090" d="M72 34h4M64 38h4M80 38h4M60 42h4M84 42h4M84 46h4M56 50h4M80 50h4M52 58h4M72 58h4M136 58h4M144 58h4M52 62h4M68 62h4M128 62h4M56 66h8M124 66h4M112 74h4M84 86h4M64 90h4M152 90h4M32 102h4M28 106h4M40 106h4M52 106h4M28 110h4M44 110h4M52 110h4M28 114h4M44 114h4M56 114h4M148 114h4M44 118h4M60 118h4M144 118h4M32 122h12M72 134h4M132 134h4M76 138h4M80 142h4M84 146h4M124 150h4M116 158h4"/><path stroke="#949494" d="M68 34h4M76 34h8M84 38h4M56 46h4M52 54h4M140 54h4M132 58h4M148 58h4M52 66h4M152 66h4M116 70h4M152 70h4M152 74h4M104 78h4M152 78h4M96 82h4M152 82h4M76 86h8M152 86h4M60 90h4M52 94h4M36 102h4M48 102h4M44 106h8M48 110h4M152 110h4M48 114h8M28 118h4M56 118h4M44 122h4M60 122h4M36 126h4M60 126h4M64 130h4M136 130h4M68 134h4M132 138h4M128 146h4M104 162h8"/><path stroke="#989898" d="M72 30h8M64 34h4M84 34h4M60 38h4M88 42h4M88 46h4M52 50h4M84 50h4M80 54h4M132 54h8M144 54h8M48 58h4M76 58h4M128 58h4M48 62h4M72 62h4M124 62h4M152 62h4M48 66h4M64 66h4M120 66h4M108 74h4M92 82h4M72 86h4M56 90h4M48 98h4M156 98h4M28 102h4M40 102h8M156 102h4M156 106h4M152 114h4M48 118h8M148 118h4M28 122h4M48 122h4M56 122h4M144 122h4M32 126h4M40 126h8M56 126h4M140 126h4M36 130h4M60 130h4M64 134h4M72 138h4M124 154h4M100 162h4M112 162h4"/><path stroke="#9c9c9c" d="M76 26h4M64 30h8M80 30h8M60 34h4M88 38h4M56 42h4M136 50h12M48 54h4M152 58h4M44 62h4M68 66h4M56 70h4M112 70h4M100 78h4M88 82h4M68 86h4M156 90h4M156 94h4M28 98h8M24 102h4M24 106h4M24 110h4M156 110h4M24 114h4M24 118h4M52 122h4M28 126h4M48 126h8M144 126h4M32 130h4M40 130h20M140 130h4M60 134h4M136 134h4M76 142h4M132 142h4M80 146h4M84 150h4M128 150h4M88 154h4M92 158h4M120 158h4"/><path stroke="#a0a0a0" d="M76 10h24M68 14h32M128 14h8M72 18h28M128 18h16M72 22h28M128 22h20M68 26h8M80 26h20M132 26h16M60 30h4M88 30h4M136 30h8M88 34h4M56 38h4M92 38h4M92 42h4M140 42h8M52 46h4M92 46h4M136 46h16M48 50h4M88 50h4M132 50h4M148 50h8M84 54h4M128 54h4M152 54h4M44 58h4M80 58h4M124 58h4M76 62h4M120 62h4M44 66h4M116 66h4M48 70h8M60 70h4M104 74h4M96 78h4M12 82h20M80 82h8M156 82h4M8 86h24M64 86h4M156 86h4M8 90h24M52 90h4M8 94h24M48 94h4M8 98h20M36 98h12M160 98h4M8 102h16M160 102h4M8 106h16M160 106h4M8 110h16M160 110h4M8 114h16M156 114h4M12 118h4M152 118h8M24 122h4M148 122h8M148 126h4M28 130h4M144 130h4M28 134h32M140 134h4M68 138h4M136 138h4M96 162h4M116 162h4"/><path stroke="#a4a4a4" d="M100 10h8M120 10h4M64 14h4M100 14h8M120 14h8M56 18h16M100 18h12M120 18h8M60 22h12M100 22h12M120 22h8M60 26h8M100 26h8M124 26h8M148 26h8M56 30h4M92 30h8M128 30h8M144 30h16M56 34h4M92 34h4M132 34h32M52 38h4M132 38h36M52 42h4M132 42h8M148 42h20M48 46h4M132 46h4M152 46h12M44 50h4M92 50h4M128 50h4M156 50h4M44 54h4M124 54h4M40 58h4M36 62h8M156 62h4M40 66h4M72 66h4M112 66h4M156 66h4M16 70h8M44 70h4M64 70h4M108 70h4M156 70h4M12 74h20M100 74h4M156 74h4M12 78h24M156 78h4M32 82h4M72 82h8M32 86h4M60 86h4M32 90h4M160 90h4M32 94h4M160 94h4M164 106h4M164 110h4M160 114h8M16 118h8M160 118h12M12 122h12M156 122h8M12 126h16M152 126h8M12 130h16M148 130h4M16 134h12M144 134h4M16 138h44M64 138h4M20 142h16M20 146h12M132 146h4M24 150h8"/><path stroke="#a8a8a8" d="M108 10h12M108 14h12M112 18h8M48 22h12M112 22h8M44 26h16M108 26h16M40 30h16M100 30h8M120 30h8M36 34h20M96 34h4M128 34h4M32 38h20M96 38h4M128 38h4M28 42h24M96 42h4M128 42h4M168 42h4M24 46h24M96 46h4M128 46h4M164 46h4M24 50h20M124 50h4M160 50h4M20 54h24M88 54h4M156 54h4M20 58h20M84 58h4M120 58h4M156 58h4M16 62h20M80 62h4M116 62h4M16 66h24M12 70h4M24 70h20M68 70h4M104 70h4M32 74h8M48 74h12M36 78h4M88 78h8M36 82h4M68 82h4M56 86h4M160 86h4M48 90h4M36 94h12M164 94h4M164 98h4M164 102h4M168 106h4M168 110h24M168 114h20M172 118h16M164 122h24M160 126h28M152 130h8M148 134h4M60 138h4M140 138h4M36 142h12M72 142h4M136 142h4M32 146h8M32 150h8M24 154h12M128 154h4M28 158h4M88 158h4M124 158h4M92 162h4M100 166h12"/><path stroke="#acacac" d="M108 30h12M100 34h4M116 34h12M100 38h4M124 38h4M124 42h4M124 46h4M168 46h4M96 50h4M120 50h4M164 50h4M92 54h4M120 54h4M160 54h4M88 58h4M116 58h4M84 62h4M112 62h4M76 66h4M108 66h4M40 74h8M60 74h8M96 74h4M40 78h4M80 78h8M160 78h4M60 82h8M160 82h4M36 86h4M52 86h4M164 86h4M36 90h12M164 90h8M168 94h4M168 98h4M168 102h24M172 106h20M160 130h16M152 134h4M144 138h4M48 142h8M68 142h4M40 146h4M76 146h4M80 150h4M132 150h4M36 154h4M84 154h4M32 158h8M120 162h4M96 166h4M112 166h4"/><path stroke="#b0b0b0" d="M104 34h12M104 38h4M112 38h12M100 42h4M116 42h8M100 46h4M116 46h8M116 50h4M168 50h4M96 54h4M116 54h4M92 58h4M112 58h4M160 58h4M88 62h4M108 62h4M160 62h4M80 66h8M104 66h4M160 66h4M72 70h8M96 70h8M160 70h4M68 74h4M92 74h4M160 74h4M44 78h36M40 82h4M56 82h4M164 82h4M40 86h4M48 86h4M168 86h4M172 90h20M172 94h20M172 98h20M176 130h8M156 134h8M148 138h4M56 142h4M64 142h4M140 142h4M44 146h8M136 146h4M40 150h4M40 154h4M40 158h4M128 158h4M32 162h12M116 166h4"/><path stroke="#b4b4b4" d="M108 38h4M104 42h12M104 46h4M112 46h4M100 50h4M112 50h4M172 50h4M100 54h4M112 54h4M164 54h12M96 58h4M108 58h4M92 62h16M88 66h16M80 70h16M72 74h20M44 82h12M168 82h4M44 86h4M172 86h16M164 134h20M152 138h4M60 142h4M52 146h4M72 146h4M44 150h4M44 154h4M132 154h4M44 158h4M88 162h4M124 162h4M36 166h8M92 166h4M100 170h12"/><path stroke="#b8b8b8" d="M108 46h4M104 50h8M104 54h8M176 54h4M100 58h8M164 58h16M164 62h4M164 66h4M164 74h4M164 78h4M172 82h16M156 138h4M180 138h4M144 142h4M56 146h4M140 146h4M48 150h4M76 150h4M136 150h4M80 154h4M84 158h4M44 162h4M44 166h4M120 166h4M96 170h4M112 170h4"/><path stroke="#bcbcbc" d="M168 62h12M164 70h4M168 78h4M160 138h8M176 138h4M148 142h4M60 146h12M52 150h4M48 154h4M136 154h4M48 158h4M132 158h4M84 162h4M128 162h4M88 166h4M40 170h4M92 170h4M116 170h4M96 174h20M96 178h12M96 182h12M96 186h16M96 190h16"/><path stroke="#c0c0c0" d="M180 62h4M168 66h16M168 70h4M168 74h4M172 78h16M168 138h8M152 142h8M176 142h4M144 146h4M56 150h4M72 150h4M140 150h4M52 154h4M80 158h4M48 162h4M48 166h4M124 166h4M44 170h4M88 170h4M120 170h4M92 174h4M116 174h4M92 178h4M108 178h12M92 182h4M108 182h12M92 186h4M112 186h8M92 190h4M112 190h8"/><path stroke="#c4c4c4" d="M172 70h12M172 74h16M160 142h4M148 146h4M60 150h12M56 154h4M76 154h4M52 158h4M136 158h4M80 162h4M132 162h4M84 166h4M128 166h4M124 170h4M88 174h4M120 174h8M88 178h4M120 178h12M88 182h4M120 182h12M88 186h4M120 186h12M88 190h4M120 190h4"/><path stroke="#c8c8c8" d="M164 142h12M152 146h8M176 146h4M144 150h4M60 154h4M72 154h4M140 154h4M76 158h4M140 158h4M52 162h4M136 162h4M52 166h4M80 166h4M132 166h8M48 170h4M84 170h4M128 170h20M44 174h4M84 174h4M128 174h24M132 178h16M132 182h12M132 186h4"/><path stroke="#cccccc" d="M160 146h16M148 150h8M172 150h4M64 154h8M144 154h8M56 158h12M72 158h4M144 158h4M168 158h4M72 162h8M140 162h20M72 166h8M140 166h24M52 170h4M72 170h12M148 170h12M48 174h12M80 174h4M152 174h4M52 178h8M80 178h8M80 182h8M80 186h8M80 190h8"/><path stroke="#d0d0d0" d="M156 150h16M152 154h20M68 158h4M148 158h20M56 162h16M160 162h8M56 166h16M56 170h16M60 174h20M60 178h20M56 182h24M64 186h16M76 190h4"/></g></g></g>
<path clip-path="url(#cl11)" d="M437.0 427.0L442.0 423.9L446.0 421.1L449.8 415.0L447.8 407.0L442.0 404.7L436.6 407.0L433.2 411.0L429.5 415.0L425.7 419.0L425.1 427.0L430.0 430.9L437.0 427.0M426.7 459.0L430.0 455.0L432.7 447.0L434.0 440.6L437.1 435.0L442.0 431.1L446.0 428.6L450.0 425.4L454.0 419.3L455.1 415.0L455.2 407.0L454.0 402.0L450.0 398.2L442.0 397.2L434.5 399.0L430.3 403.0L427.2 407.0L422.0 409.7L414.0 408.4L407.0 411.0L402.0 414.9L398.0 417.4L394.0 420.6L392.6 427.0L394.0 432.6L396.9 439.0L401.1 443.0L404.7 447.0L406.0 451.4L409.7 459.0L414.0 461.7L422.0 461.6L426.7 459.0M419.2 467.0L426.0 465.2L430.0 462.2L434.0 456.8L436.9 451.0L438.0 446.2L440.4 439.0L444.8 435.0L450.0 431.6L454.0 427.8L457.2 423.0L458.9 419.0L460.2 411.0L460.0 403.0L458.0 395.6L454.0 391.7L450.0 390.8L442.0 389.6L436.0 391.0L430.0 394.3L426.0 397.5L422.0 400.0L414.0 400.2L406.0 401.1L402.0 403.9L398.0 407.2L390.1 411.0L386.0 414.1L383.2 419.0L382.0 427.0L385.6 435.0L389.3 439.0L392.7 443.0L396.8 447.0L399.9 451.0L402.0 455.1L406.0 461.6L410.0 465.2L416.4 467.0L419.2 467.0M371.1 375.0L378.0 372.3L382.0 369.4L386.0 365.7L389.8 359.0L386.0 354.8L381.2 355.0L376.9 359.0L374.0 363.5L370.0 370.5L369.5 375.0L371.1 375.0M425.2 471.0L430.0 468.7L434.0 464.7L438.0 459.0L440.8 455.0L442.4 451.0L444.6 443.0L448.3 439.0L454.0 435.4L458.0 431.7L461.4 427.0L463.9 423.0L465.7 415.0L465.7 407.0L464.2 399.0L462.3 391.0L461.1 387.0L458.1 379.0L454.4 375.0L450.0 373.9L444.8 375.0L438.0 378.2L434.0 380.7L430.0 384.9L426.0 389.5L422.0 392.5L414.0 394.5L406.0 394.6L402.0 395.2L394.0 397.5L389.9 399.0L385.0 403.0L379.7 407.0L375.3 411.0L375.3 419.0L374.1 427.0L371.3 431.0L369.8 435.0L374.0 437.5L379.3 439.0L386.0 443.0L389.6 447.0L393.5 451.0L396.5 455.0L398.8 459.0L402.0 463.7L406.0 468.1L411.5 471.0L418.0 472.0L425.2 471.0M369.6 343.0L366.9 351.0L365.8 355.0L363.6 363.0L360.6 367.0L355.1 371.0L352.1 375.0L351.2 383.0L354.0 387.1L362.0 388.5L367.7 391.0L366.0 396.7L362.3 403.0L359.1 407.0L354.0 410.6L350.0 411.3L342.0 413.1L337.1 411.0L335.9 403.0L334.3 395.0L333.5 391.0L336.8 387.0L338.6 383.0L336.7 379.0M418.0 387.1L410.0 389.0L402.0 388.7L394.0 388.0L389.7 387.0L389.3 379.0L392.8 375.0L398.0 371.7L402.0 369.6L406.0 365.4L409.4 359.0L410.0 355.0L411.4 347.0L416.5 343.0L422.0 339.6L426.0 337.0L431.8 339.0L436.9 343.0L439.2 347.0L440.1 355.0L439.7 363.0L438.0 367.1L434.0 371.1L426.0 374.5L422.3 379.0L421.1 383.0L418.0 387.1M337.9 447.0L336.9 439.0L337.9 431.0L338.0 424.0L338.5 431.0L345.9 435.0L350.0 437.8L354.0 441.7L357.6 447.0L362.0 448.2L366.6 447.0L374.0 445.4L380.9 447.0L385.2 451.0L389.0 455.0L392.1 459.0L394.8 463.0L398.0 467.1L402.0 472.1L406.0 477.0L414.0 478.2L422.0 478.3L430.0 477.4L434.0 474.4L438.0 469.3L442.0 463.6L446.0 459.9L450.0 456.1L453.0 451.0L457.4 447.0L462.0 445.7L466.0 441.3L470.0 435.3L474.0 431.1L476.0 427.0L477.5 419.0L479.4 415.0L478.5 407.0L476.2 403.0L471.5 399.0L469.3 395.0L468.6 387.0L468.4 379.0L467.8 371.0L466.0 364.5L462.0 359.2L460.3 355.0L462.0 348.1M490.0 396.1L486.0 393.5L482.0 390.8L478.8 383.0L482.0 377.0M441.0 491.0L441.1 483.0L442.4 479.0L446.0 471.1L450.0 467.1L454.0 464.7L458.3 463.0L466.0 460.6L470.0 456.1L473.7 451.0L478.0 449.8L482.0 452.9M360.4 479.0L359.8 471.0L362.0 464.3L365.0 459.0L368.3 455.0L374.0 452.9L378.5 455.0L382.3 459.0L386.0 463.0L390.0 468.2L394.0 473.2L396.8 479.0L396.8 487.0L397.2 495.0L402.0 497.0" fill="none" stroke="#fff" stroke-width="4" stroke-dasharray="4 8"/>
<path d="M327.85 412.90A83.85 86.10 0 1 1 495.55 412.90A83.85 86.10 0 1 1 327.85 412.90ZM403.31 326.80L411.70 318.19L420.08 326.80M495.05 403.34L497.23 399.55L498.57 399.42L500.56 400.05L502.58 403.34L502.26 413.85L503.43 428.95L500.92 435.51L497.23 436.73L493.71 433.55M328.35 403.34L326.17 399.55L324.83 399.42L322.84 400.05L320.82 403.34L321.14 413.85L319.97 428.95L322.48 435.51L326.17 436.73L329.69 433.55" fill="none" stroke="#000" stroke-width="6" stroke-linejoin="miter" stroke-miterlimit="10"/>
</g>
<g id="head-B3">
<g clip-path="url(#cl12)"><g filter="url(#cm)"><g transform="translate(548 313)" stroke-width="4" fill="none" shape-rendering="crispEdges"><path stroke="#282828" d="M124 102h4"/><path stroke="#2c2c2c" d="M124 98h4M128 102h4M124 106h4M108 130h4"/><path stroke="#303030" d="M128 98h4M120 102h4M120 106h4M128 106h4M120 110h8M108 122h8M104 126h12M104 130h4M112 130h4M104 134h12"/><path stroke="#343434" d="M124 94h8M120 98h4M116 106h4M112 110h8M112 114h12M108 118h12M104 122h4M116 122h4M100 126h4M100 130h4M104 138h12"/><path stroke="#383838" d="M132 98h4M116 102h4M132 102h4M112 106h4M132 106h4M104 110h8M128 110h4M104 114h8M100 118h8M96 122h8M96 126h4M116 126h4M96 130h4M116 130h4M100 134h4M108 142h4"/><path stroke="#3c3c3c" d="M124 90h8M120 94h4M132 94h4M100 106h12M96 110h8M92 114h12M124 114h4M92 118h8M120 118h4M92 122h4M92 126h4M96 134h4M116 134h4M100 138h4M104 142h4M112 142h4"/><path stroke="#404040" d="M132 90h4M116 98h4M112 102h4M96 106h4M92 110h4M132 110h4M88 114h4M88 118h4M88 122h4M120 122h4M92 130h4M116 138h4"/><path stroke="#444444" d="M120 90h4M116 94h4M136 98h4M104 102h8M136 102h4M92 106h4M88 110h4M84 114h4M128 114h4M84 118h4M124 118h4M88 126h4M120 126h4M120 130h4M96 138h4M100 142h4M108 146h4"/><path stroke="#484848" d="M124 86h12M136 94h4M112 98h4M100 102h4M136 106h4M84 110h4M84 122h4M88 130h4M92 134h4M116 142h4M104 146h4M112 146h4"/><path stroke="#4c4c4c" d="M120 86h4M116 90h4M136 90h4M108 98h4M96 102h4M88 106h4M124 122h4M84 126h4M120 134h4"/><path stroke="#505050" d="M136 86h4M112 94h4M104 98h4M92 102h4M84 106h4M80 110h4M136 110h4M80 114h4M132 114h4M80 118h4M128 118h4M88 134h4M92 138h4M96 142h4M100 146h4M104 150h8"/><path stroke="#545454" d="M116 86h4M112 90h4M100 98h4M140 98h4M140 102h4M80 122h4M124 126h4M84 130h4M120 138h4M116 146h4M112 150h4"/><path stroke="#585858" d="M124 82h12M140 90h4M108 94h4M140 94h4M88 102h4M80 106h4M140 106h4M124 130h4"/><path stroke="#5c5c5c" d="M120 82h4M112 86h4M104 94h4M96 98h4M84 102h4M76 110h4M76 114h4M136 114h4M128 122h4M80 126h4M120 142h4M100 150h4"/><path stroke="#606060" d="M136 82h4M140 86h4M108 90h4M80 102h4M76 106h4M76 118h4M132 118h4M84 134h4M124 134h4M88 138h4M92 142h4M96 146h4M104 154h8"/><path stroke="#646464" d="M116 82h4M100 94h4M92 98h4M72 110h4M140 110h4M76 122h4M80 130h4M116 150h4"/><path stroke="#686868" d="M124 78h12M140 82h4M108 86h4M104 90h4M144 94h4M88 98h4M144 98h4M76 102h4M144 102h4M72 106h4M32 110h8M36 114h4M72 114h4M128 126h4M124 138h4M120 146h4M112 154h4"/><path stroke="#6c6c6c" d="M136 78h4M112 82h4M144 90h4M96 94h4M84 98h4M72 102h4M144 106h4M32 114h4M72 118h4M136 118h4M76 126h4M84 138h4M88 142h4M96 150h4M100 154h4"/><path stroke="#707070" d="M120 78h4M144 86h4M100 90h4M92 94h4M80 98h4M32 106h8M68 106h4M68 110h4M140 114h4M132 122h4M128 130h4M80 134h4M92 146h4"/><path stroke="#747474" d="M140 78h4M104 86h4M76 98h4M40 110h4M144 110h4M68 114h4M36 118h4M72 122h4M124 142h4M116 154h4"/><path stroke="#787878" d="M128 74h8M116 78h4M108 82h4M144 82h4M96 90h4M84 94h8M72 98h4M148 98h4M68 102h4M148 102h4M40 114h4M32 118h4M76 130h4M128 134h4M120 150h4M104 158h8"/><path stroke="#7c7c7c" d="M124 74h4M136 74h8M144 78h4M100 86h4M92 90h4M80 94h4M148 94h4M36 102h4M40 106h4M64 106h4M148 106h4M28 110h4M28 114h4M68 118h4M140 118h4M136 122h4M72 126h4M132 126h4M96 154h4M112 158h4"/><path stroke="#808080" d="M120 74h4M112 78h4M104 82h4M96 86h4M148 90h4M76 94h4M68 98h4M32 102h4M64 102h4M28 106h4M64 110h4M144 114h4M40 118h4M76 134h4M80 138h4M128 138h4M84 142h4M88 146h4M124 146h4M92 150h4M100 158h4"/><path stroke="#848484" d="M132 70h16M144 74h4M148 86h4M88 90h4M72 94h4M40 102h4M148 110h4M64 114h4M28 118h4M36 122h4M68 122h4M132 130h4"/><path stroke="#888888" d="M140 66h8M128 70h4M100 82h4M148 82h4M92 86h4M84 90h4M68 94h4M64 98h4M152 98h4M28 102h4M152 102h4M44 106h4M60 106h4M44 110h4M44 114h4M32 122h4M136 126h4M72 130h4M132 134h4M32 138h4M128 142h4M120 154h4M116 158h4"/><path stroke="#8c8c8c" d="M68 42h12M68 46h12M136 66h4M124 70h4M116 74h4M148 74h4M108 78h4M148 78h4M96 82h4M88 86h4M76 90h8M152 90h4M152 94h4M32 98h8M60 102h4M152 106h4M60 110h4M148 114h4M64 118h4M144 118h4M28 122h4M40 122h4M140 122h4M68 126h4M28 134h12M24 138h8M36 138h4M28 142h8M28 146h4M28 150h8M124 150h4M28 154h4"/><path stroke="#909090" d="M72 38h4M64 46h4M64 50h12M140 62h8M132 66h4M148 66h4M148 70h4M104 78h4M92 82h4M152 86h4M72 90h4M64 94h4M40 98h4M60 98h4M44 102h4M24 110h4M152 110h4M24 114h4M60 114h4M44 118h4M64 122h4M32 126h8M28 130h12M68 130h4M136 130h4M16 134h12M40 134h4M72 134h4M16 138h8M76 138h4M132 138h4M20 142h8M36 142h4M80 142h4M20 146h8M32 146h4M84 146h4M128 146h4M24 150h4M32 154h4M92 154h4M28 158h4M96 158h4M104 162h12"/><path stroke="#949494" d="M68 38h4M76 38h4M64 42h4M80 42h4M80 46h4M76 50h4M136 62h4M148 62h4M128 66h4M120 70h4M112 74h4M152 82h4M84 86h4M68 90h4M28 98h4M156 98h4M56 102h4M156 102h4M24 106h4M48 106h4M56 106h4M8 110h4M48 110h4M56 110h4M152 114h4M24 118h4M148 118h4M24 122h4M44 122h4M144 122h4M24 126h8M40 126h4M64 126h4M140 126h4M16 130h12M40 130h4M140 130h4M136 134h4M40 138h4M36 146h4M36 150h4M88 150h4M124 154h4M120 158h4M100 162h4"/><path stroke="#989898" d="M64 38h4M80 38h4M84 42h4M60 46h4M60 50h4M80 50h4M60 54h12M140 58h8M100 78h4M152 78h4M88 82h4M76 86h8M64 90h4M156 90h4M32 94h4M60 94h4M156 94h4M44 98h4M56 98h4M8 102h8M24 102h4M48 102h8M8 106h12M52 106h4M156 106h4M12 110h8M52 110h4M156 110h4M12 114h4M48 114h4M56 114h4M156 114h4M12 118h4M60 118h4M152 118h4M12 122h12M148 122h4M12 126h12M44 126h4M144 126h4M44 130h4M64 130h4M144 130h4M44 134h4M68 134h4M140 134h8M136 138h4M132 142h4M128 150h4M36 154h4M32 158h4M116 162h4"/><path stroke="#9c9c9c" d="M68 34h12M84 38h4M60 42h4M84 46h4M56 54h4M72 54h4M56 58h12M148 58h4M132 62h4M152 62h4M124 66h4M152 66h4M116 70h4M152 70h4M108 74h4M152 74h4M96 78h4M84 82h4M72 86h4M156 86h4M28 94h4M36 94h8M56 94h4M160 94h4M8 98h8M24 98h4M48 98h8M160 98h4M16 102h8M160 102h4M20 106h4M160 106h4M20 110h4M160 110h4M16 114h8M52 114h4M160 114h4M16 118h8M48 118h4M156 118h4M60 122h4M152 122h4M148 126h8M148 130h8M64 134h4M148 134h4M44 138h4M72 138h4M140 138h4M40 142h4M76 142h4M132 146h4"/><path stroke="#a0a0a0" d="M64 34h4M80 34h8M60 38h4M88 38h4M88 42h4M56 46h4M88 46h4M56 50h4M84 50h4M76 54h4M68 58h4M136 58h4M152 58h4M56 62h8M128 62h4M120 66h4M104 74h4M92 78h4M12 82h12M80 82h4M156 82h4M12 86h16M68 86h4M8 90h28M60 90h4M160 90h4M172 90h20M8 94h20M44 94h4M52 94h4M164 94h28M16 98h8M164 98h28M164 102h28M164 106h28M164 110h28M164 114h28M52 118h8M160 118h28M48 122h4M156 122h16M48 126h4M60 126h4M156 126h12M48 130h4M60 130h4M156 130h8M48 134h4M152 134h8M68 138h4M144 138h4M136 142h4M40 146h4M80 146h4M132 150h4M88 154h4M128 154h4M36 158h4M92 158h4M124 158h4M96 162h4M120 162h4M104 166h12"/><path stroke="#a4a4a4" d="M60 30h20M56 34h8M88 34h4M56 38h4M92 38h4M56 42h4M92 42h4M52 50h4M88 50h4M52 54h4M80 54h4M140 54h12M52 58h4M52 62h4M64 62h4M112 70h4M100 74h4M12 78h16M88 78h4M156 78h4M24 82h8M76 82h4M28 86h8M64 86h4M160 86h4M36 90h4M56 90h4M164 90h8M48 94h4M52 122h8M172 122h16M52 126h8M168 126h4M52 130h8M164 130h4M52 134h4M60 134h4M160 134h4M48 138h4M64 138h4M148 138h4M44 142h4M140 142h4M136 146h4M40 150h4M84 150h4M40 154h4M132 154h4M128 158h4M32 162h4M124 162h4M116 166h8"/><path stroke="#a8a8a8" d="M64 14h4M56 18h12M52 22h16M44 26h28M40 30h20M80 30h12M36 34h20M92 34h8M36 38h20M96 38h4M40 42h16M96 42h4M44 46h12M92 46h4M48 50h4M20 54h8M48 54h4M84 54h4M152 54h4M20 58h8M48 58h4M72 58h4M132 58h4M16 62h12M68 62h4M124 62h4M16 66h12M56 66h8M116 66h4M156 66h4M16 70h12M108 70h4M156 70h4M12 74h16M96 74h4M156 74h4M28 78h4M84 78h4M32 82h4M72 82h4M160 82h4M36 86h4M60 86h4M164 86h28M40 90h16M172 126h16M168 130h8M56 134h4M164 134h4M60 138h4M152 138h8M72 142h4M144 142h4M136 150h4M40 158h4M36 162h4M100 166h4M124 166h4"/><path stroke="#acacac" d="M68 14h4M68 18h4M68 22h4M72 26h20M92 30h12M100 34h4M32 38h4M100 38h4M32 42h8M36 46h8M96 46h4M24 50h4M40 50h8M92 50h4M144 50h16M28 54h4M44 54h4M88 54h4M136 54h4M156 54h4M28 58h8M76 58h8M156 58h4M28 62h8M48 62h4M156 62h4M28 66h4M48 66h8M64 66h4M112 66h4M28 70h4M104 70h4M28 74h4M92 74h4M32 78h4M80 78h4M160 78h4M36 82h4M68 82h4M164 82h12M40 86h8M52 86h8M176 130h12M168 134h8M52 138h8M160 138h4M48 142h4M68 142h4M44 146h4M76 146h4M140 146h4M136 154h4M88 158h4M132 158h4M40 162h4M92 162h4M128 162h4M96 166h4M104 170h24M108 174h4"/><path stroke="#b0b0b0" d="M76 10h48M72 14h64M72 18h72M72 22h76M92 26h28M124 26h32M104 30h4M136 30h24M104 34h4M140 34h24M148 38h20M28 42h4M100 42h4M152 42h20M28 46h8M148 46h20M28 50h12M140 50h4M160 50h4M32 54h12M36 58h12M84 58h4M128 58h4M36 62h12M72 62h4M120 62h4M32 66h16M68 66h4M108 66h4M32 70h28M100 70h4M32 74h20M84 74h8M160 74h4M36 78h12M76 78h4M40 82h12M60 82h8M176 82h12M48 86h4M176 134h8M164 138h4M180 138h4M52 142h4M60 142h8M148 142h4M48 146h4M44 150h4M80 150h4M140 150h4M44 154h4M84 154h4M44 158h4M44 162h4M132 162h4M36 166h8M128 166h4M100 170h4M128 170h4M104 174h4M112 174h16M104 178h24M104 182h24M104 186h24M104 190h20"/><path stroke="#b4b4b4" d="M120 26h4M108 30h8M132 30h4M108 34h4M136 34h4M104 38h4M140 38h8M104 42h4M144 42h8M100 46h4M144 46h4M168 46h4M96 50h4M136 50h4M164 50h8M92 54h4M132 54h4M160 54h4M88 58h4M124 58h4M160 58h4M76 62h4M116 62h4M160 62h4M104 66h4M160 66h4M60 70h4M96 70h4M160 70h4M52 74h4M76 74h8M48 78h8M72 78h4M164 78h8M52 82h8M168 138h12M56 142h4M152 142h4M72 146h4M144 146h4M136 158h4M88 162h4M44 166h4M92 166h4M132 166h4M96 170h4M100 174h4M128 174h4M100 178h4M128 178h4M100 182h4M128 182h4M100 186h4M128 186h4M100 190h4"/><path stroke="#b8b8b8" d="M116 30h4M124 30h8M132 34h4M108 38h4M136 38h4M140 42h4M140 46h4M172 46h4M172 50h4M164 54h12M80 62h4M112 62h4M72 66h4M100 66h4M64 70h12M84 70h12M56 74h4M72 74h4M164 74h4M56 78h4M64 78h8M172 78h16M156 142h12M176 142h4M52 146h8M68 146h4M148 146h4M48 150h4M48 154h4M140 154h4M48 158h4M84 158h4M48 162h4M136 162h4M88 166h4M40 170h4M132 170h4M96 174h4M132 174h12M132 178h16M132 182h12M132 186h4"/><path stroke="#bcbcbc" d="M120 30h4M112 34h4M132 38h4M108 42h4M136 42h4M104 46h4M136 46h4M100 50h4M132 50h4M96 54h4M128 54h4M176 54h4M92 58h4M120 58h4M164 58h12M84 62h8M104 62h8M164 62h4M76 66h12M92 66h8M76 70h8M164 70h4M60 74h12M168 74h4M60 78h4M168 142h8M60 146h8M176 146h4M52 150h4M76 150h4M144 150h4M52 154h4M80 154h4M140 158h4M84 162h4M48 166h4M136 166h4M44 170h4M92 170h4M136 170h8M144 174h4M96 178h4M96 182h4M96 186h4M96 190h4"/><path stroke="#c0c0c0" d="M116 34h4M128 34h4M112 38h4M132 42h4M108 46h4M132 46h4M104 50h4M100 54h4M124 54h4M96 58h4M112 58h8M176 58h4M92 62h12M168 62h4M88 66h4M164 66h4M172 74h16M152 146h4M164 146h12M56 150h4M172 150h4M144 154h4M172 154h4M52 158h4M140 162h4M84 166h4M140 166h4M48 170h4M88 170h4M144 170h4M92 174h4M148 174h4M92 178h4M92 182h4M92 186h4M92 190h4"/><path stroke="#c4c4c4" d="M120 34h8M128 38h4M112 42h4M108 50h4M128 50h4M104 54h4M120 54h4M100 58h12M172 62h8M168 66h4M168 70h20M156 146h8M60 150h16M148 150h4M168 150h4M56 154h4M80 158h4M144 158h4M52 162h4M80 162h4M52 166h4M80 166h4M144 166h4M52 170h4M84 170h4M148 170h4M44 174h4M84 174h8M152 174h4M88 178h4M88 182h4M88 186h4M88 190h4"/><path stroke="#c8c8c8" d="M116 38h4M116 42h4M128 42h4M112 46h4M128 46h4M112 50h8M124 50h4M108 54h12M180 62h4M172 66h12M152 150h4M164 150h4M60 154h4M76 154h4M148 154h4M168 154h4M56 158h4M148 158h4M56 162h4M144 162h12M148 166h12M56 170h4M80 170h4M152 170h8M48 174h12M80 174h4M52 178h4M84 178h4M84 182h4M80 186h8M80 190h8"/><path stroke="#cccccc" d="M120 38h8M120 42h8M116 46h12M120 50h4M156 150h8M64 154h4M72 154h4M152 154h4M164 154h4M60 158h4M76 158h4M152 158h4M168 158h4M60 162h4M76 162h4M156 162h4M56 166h8M76 166h4M160 166h4M60 170h4M76 170h4M60 174h4M76 174h4M56 178h8M76 178h8M56 182h4M76 182h8M76 186h4M76 190h4"/><path stroke="#d0d0d0" d="M68 154h4M156 154h8M64 158h4M72 158h4M156 158h12M64 162h12M160 162h8M64 166h12M64 170h12M64 174h12M64 178h12M60 182h16M64 186h12"/><path stroke="#d4d4d4" d="M68 158h4"/></g></g></g>
<path clip-path="url(#cl12)" d="M664.4 455.0L666.0 450.9L667.7 443.0L669.8 435.0L671.9 431.0L676.3 427.0L680.4 423.0L682.7 419.0L683.1 411.0L682.0 406.7L678.0 402.9L670.7 403.0L668.3 407.0L666.1 415.0L663.1 419.0L658.6 423.0L657.2 427.0L654.0 433.1L646.0 434.7L642.0 437.7L642.0 441.9L644.3 447.0L647.8 451.0L652.7 455.0L658.0 458.4L664.4 455.0M666.1 463.0L670.0 458.6L672.2 451.0L673.5 443.0L674.6 439.0L678.0 432.7L682.0 428.3L686.0 423.7L688.3 419.0L689.4 411.0L688.6 403.0L686.0 397.6L678.0 395.2L670.0 396.1L663.7 399.0L661.4 403.0L658.0 409.8L654.0 411.2L646.0 415.0L642.0 416.8L634.0 417.9L630.0 420.4L628.3 427.0L630.0 432.5L633.6 439.0L635.5 443.0L638.0 449.2L641.8 455.0L646.0 458.0L650.0 460.6L654.0 463.1L662.0 464.4L666.1 463.0M667.4 467.0L673.2 463.0L676.6 459.0L678.0 451.0L678.1 447.0L679.6 439.0L682.0 434.7L686.0 430.6L690.0 426.4L693.7 419.0L694.5 415.0L694.8 407.0L694.0 402.8L691.1 395.0L687.2 391.0L682.0 389.2L674.0 390.3L670.0 391.3L662.0 394.0L658.0 397.5L654.1 403.0L650.0 405.6L646.0 407.3L638.0 409.8L631.1 411.0L626.0 413.2L622.0 416.2L618.0 423.0L619.3 431.0L622.0 435.3L626.0 439.3L630.0 444.1L633.2 451.0L635.3 455.0L639.3 459.0L645.8 463.0L650.0 465.6L654.0 467.5L662.0 468.5L667.4 467.0M590.2 427.0L590.0 421.1L586.0 417.6L582.0 420.6L580.6 427.0L586.0 430.8L590.2 427.0M669.1 471.0L674.0 468.7L678.0 466.4L682.9 463.0L685.7 455.0L684.4 447.0L685.3 439.0L688.5 435.0L692.7 431.0L695.9 427.0L698.0 422.7L700.5 415.0L701.7 407.0L698.4 399.0L696.5 395.0L694.0 389.3L691.1 383.0L686.0 379.5L678.0 381.6L674.0 383.7L667.8 387.0L662.0 389.0L657.7 391.0L652.6 395.0L647.7 399.0L642.0 401.7L638.0 403.5L630.0 405.5L625.6 407.0L618.0 410.1L614.0 411.7L610.0 416.5L609.3 423.0L610.0 427.2L612.7 435.0L615.4 439.0L620.3 443.0L624.8 447.0L627.3 451.0L630.0 455.9L634.0 460.5L638.0 463.3L643.9 467.0L650.0 470.6L654.0 471.9L662.0 472.4L669.1 471.0M587.3 439.0L593.1 435.0L595.9 431.0L597.1 423.0L594.0 416.1L590.0 411.7L586.0 410.4L582.0 412.3L578.0 417.8L575.2 423.0L574.0 427.7L574.0 434.4L578.0 438.8L582.0 440.7L587.3 439.0M592.1 351.0L598.0 353.2L602.0 355.7L602.2 363.0L604.7 371.0L610.0 372.7L614.0 370.5L620.2 367.0L626.0 366.7L634.0 365.5L638.0 360.7L638.0 357.5L634.0 351.7L630.0 347.6L626.0 343.5L622.0 339.6L622.0 337.9L630.0 338.4L635.7 335.0M680.7 335.0L682.0 340.3L686.0 345.7L690.0 349.7L697.4 351.0L700.1 351.0M590.0 472.7L592.9 467.0L594.0 462.2L598.0 457.3L602.0 453.9L610.0 451.4L618.0 452.3L622.0 455.0L626.0 459.5L630.0 463.5L634.6 467.0L638.9 471.0L642.5 475.0L650.0 477.4L658.0 478.3L666.0 478.7L674.0 476.3L678.0 473.9L684.2 471.0L688.5 467.0L690.9 463.0L694.0 455.1L695.2 451.0L696.6 443.0L698.0 437.8L702.0 431.2L704.6 427.0L706.7 423.0L710.0 416.7L712.9 411.0L714.0 407.0L712.5 403.0L707.4 399.0L703.0 395.0L700.5 391.0L699.0 383.0L700.0 375.0L700.4 367.0L698.0 362.3L694.0 363.3L687.9 367.0L682.0 370.9L678.0 372.6L673.6 375.0L668.2 379.0L662.0 382.5L658.0 384.0L652.6 387.0L646.0 390.4L642.0 391.5L634.0 392.6L626.0 392.5L620.3 395.0L614.0 396.7L606.0 398.4L602.0 402.5L598.0 404.8L594.0 401.7L586.0 400.0L580.6 399.0L577.4 395.0L570.0 394.1M666.0 367.2L663.6 363.0L663.8 355.0L666.0 347.1L670.0 346.7L674.0 348.2L678.0 354.5L678.0 359.0L675.8 363.0L670.0 366.9L666.0 367.2M726.0 388.6L720.8 391.0L714.0 392.8L709.4 391.0L706.0 383.6L706.0 382.7L707.8 375.0L710.0 370.9L718.0 369.0M638.0 383.1L634.0 380.9L632.2 375.0L638.0 371.6L642.0 369.5L646.9 367.0L652.0 367.0L650.0 374.3L648.0 379.0L642.0 382.9L638.0 383.1M698.0 479.5L694.9 475.0L696.2 467.0L698.0 462.3L702.0 456.7L710.0 455.2L714.0 454.8M598.0 480.1L599.4 475.0L602.0 467.5L605.4 463.0L610.0 460.2L618.0 461.0L622.0 463.9L626.0 468.1L629.5 475.0L627.5 483.0L625.7 487.0M630.0 495.6L630.0 494.3L634.0 490.2L641.9 491.0L643.2 495.0" fill="none" stroke="#fff" stroke-width="4" stroke-dasharray="4 8"/>
<path d="M564.35 412.90A83.85 86.10 0 1 1 732.05 412.90A83.85 86.10 0 1 1 564.35 412.90ZM639.82 326.80L648.20 318.19L656.59 326.80M731.55 403.34L733.73 399.55L735.07 399.42L737.06 400.05L739.08 403.34L738.76 413.85L739.93 428.95L737.42 435.51L733.73 436.73L730.21 433.55M564.85 403.34L562.67 399.55L561.33 399.42L559.34 400.05L557.32 403.34L557.64 413.85L556.47 428.95L558.98 435.51L562.67 436.73L566.19 433.55" fill="none" stroke="#000" stroke-width="6" stroke-linejoin="miter" stroke-miterlimit="10"/>
</g>
<g id="head-B4">
<g clip-path="url(#cl13)"><g filter="url(#cm)"><g transform="translate(785 313)" stroke-width="4" fill="none" shape-rendering="crispEdges"><path stroke="#2c2c2c" d="M100 114h8M92 118h20M88 122h28M92 126h24M96 130h20M100 134h16M104 138h12M108 142h4"/><path stroke="#303030" d="M100 110h12M120 110h4M92 114h8M108 114h12M88 118h4M112 118h8M84 122h4M116 122h4M88 126h4M116 126h4M92 130h4M116 130h4M96 134h4M116 134h4M96 138h8M116 138h4M100 142h8M112 142h4M108 146h4"/><path stroke="#343434" d="M100 106h32M92 110h8M112 110h8M124 110h4M88 114h4M120 114h8M84 118h4M120 118h4M120 122h4M84 126h4M120 126h4M88 130h4M92 134h4M116 142h4M104 146h4M112 146h4"/><path stroke="#383838" d="M112 102h20M96 106h4M88 110h4M128 110h4M84 114h4M124 118h4M120 130h4M88 134h4M120 134h4M92 138h4M96 142h4M100 146h4"/><path stroke="#3c3c3c" d="M96 102h16M132 102h4M88 106h8M132 106h4M84 110h4M128 114h4M80 118h4M80 122h4M124 122h4M84 130h4M120 138h4M116 146h4M108 150h4"/><path stroke="#404040" d="M108 98h24M92 102h4M84 106h4M132 110h4M80 114h4M128 118h4M80 126h4M124 126h4M88 138h4M92 142h4M96 146h4M104 150h4M112 150h4"/><path stroke="#444444" d="M116 94h12M96 98h12M132 98h4M88 102h4M136 102h4M136 106h4M80 110h4M132 114h4M124 130h4M84 134h4M120 142h4M100 150h4"/><path stroke="#484848" d="M108 94h8M128 94h8M88 98h8M136 98h4M84 102h4M80 106h4M76 114h4M76 118h4M76 122h4M128 122h4M80 130h4M124 134h4M116 150h4"/><path stroke="#4c4c4c" d="M116 90h20M100 94h8M84 98h4M80 102h4M76 106h4M76 110h4M136 110h4M124 138h4M88 142h4M92 146h4M120 146h4M96 150h4M108 154h4"/><path stroke="#505050" d="M108 90h8M136 90h4M92 94h8M136 94h4M76 102h4M140 102h4M132 118h4M76 126h4M128 126h4M84 138h4M104 154h4M112 154h4"/><path stroke="#545454" d="M120 86h16M104 90h4M88 94h4M140 94h4M80 98h4M140 98h4M140 106h4M32 114h4M136 114h4M128 130h4M80 134h4M124 142h4M100 154h4"/><path stroke="#585858" d="M116 86h4M136 86h4M96 90h8M140 90h4M84 94h4M76 98h4M72 106h4M32 110h4M72 110h4M36 114h4M72 114h4M32 118h4M72 118h4M132 122h4M76 130h4M88 146h4M92 150h4M120 150h4"/><path stroke="#5c5c5c" d="M124 82h12M108 86h8M140 86h4M92 90h4M80 94h4M72 102h4M32 106h4M36 110h4M140 110h4M28 114h4M36 118h4M72 122h4M128 134h4M84 142h4M116 154h4"/><path stroke="#606060" d="M120 82h4M136 82h4M104 86h4M88 90h4M76 94h4M72 98h4M144 98h4M144 102h4M36 106h4M28 110h4M28 118h4M136 118h4M32 122h4M72 126h4M132 126h4M80 138h4M124 146h4M96 154h4"/><path stroke="#646464" d="M116 82h4M100 86h4M84 90h4M144 90h4M144 94h4M28 106h4M68 106h4M144 106h4M140 114h4M36 122h4M76 134h4M128 138h4M104 158h8"/><path stroke="#686868" d="M112 82h4M140 82h4M96 86h4M144 86h4M80 90h4M72 94h4M32 102h4M68 102h4M40 110h4M68 110h4M24 114h4M40 114h4M68 114h4M68 118h4M28 122h4M136 122h4M32 126h4M72 130h4M132 130h4M84 146h4M88 150h4M92 154h4M120 154h4M112 158h4"/><path stroke="#6c6c6c" d="M120 78h20M108 82h4M88 86h8M68 98h4M36 102h4M40 106h4M8 110h4M24 110h4M144 110h4M8 114h4M24 118h4M40 118h4M68 122h4M28 126h4M36 126h4M80 142h4M128 142h4M124 150h4M100 158h4"/><path stroke="#707070" d="M116 78h4M104 82h4M144 82h4M76 90h4M28 102h4M24 106h4M12 110h12M12 114h12M12 118h4M140 118h4M24 122h4M40 122h4M68 126h4M136 126h4M32 130h4M132 134h4M76 138h4M96 158h4M116 158h4"/><path stroke="#747474" d="M112 78h4M140 78h4M100 82h4M84 86h4M148 86h4M148 90h4M68 94h4M148 94h4M148 98h4M40 102h4M64 102h4M148 102h4M8 106h16M64 106h4M64 110h4M16 118h8M12 122h4M24 126h4M28 130h4M36 130h4M72 134h4M128 146h4"/><path stroke="#787878" d="M144 78h4M96 82h4M80 86h4M72 90h4M32 98h8M64 98h4M24 102h4M148 106h4M44 110h4M44 114h4M64 114h4M144 114h4M64 118h4M16 122h8M64 122h4M140 122h4M12 126h12M40 126h4M24 130h4M68 130h4M136 130h4M28 134h12M32 138h4M132 138h4M32 142h4M28 146h12M80 146h4M28 150h12M84 150h4M24 154h12M88 154h4M124 154h4M28 158h4"/><path stroke="#7c7c7c" d="M120 74h20M108 78h4M92 82h4M148 82h4M76 86h4M28 98h4M8 102h16M44 106h4M44 118h4M64 126h4M12 130h12M40 130h4M24 134h4M28 138h4M36 138h4M28 142h4M36 142h4M76 142h4M24 146h4M24 150h4M128 150h4M36 154h4M32 158h8M92 158h4M120 158h4M104 162h8"/><path stroke="#808080" d="M72 38h8M68 42h12M116 74h4M140 74h4M104 78h4M88 82h4M68 90h4M64 94h4M40 98h4M44 102h4M60 102h4M60 106h4M60 110h4M148 110h4M144 118h4M44 122h4M140 126h4M16 134h8M40 134h4M68 134h4M136 134h4M16 138h12M40 138h4M72 138h4M20 142h8M40 142h4M132 142h4M20 146h4M40 146h4M40 150h4M40 154h4M40 158h4M32 162h12M100 162h4M112 162h4"/><path stroke="#848484" d="M72 34h12M68 38h4M80 38h4M80 42h4M68 46h8M112 74h4M144 74h4M100 78h4M148 78h4M84 82h4M72 86h4M152 86h4M152 90h4M32 94h8M152 94h4M24 98h4M60 98h4M152 98h4M48 106h4M48 110h4M48 114h4M60 114h4M148 114h4M60 118h4M60 122h4M144 122h4M44 126h4M64 130h4M140 130h4M132 146h4M84 154h4M128 154h4M88 158h4M96 162h4M116 162h4M36 166h4"/><path stroke="#888888" d="M72 30h8M68 34h4M84 38h4M64 42h4M64 46h4M76 46h4M64 50h12M108 74h4M96 78h4M80 82h4M152 82h4M64 90h4M28 94h4M60 94h4M8 98h16M44 98h4M48 102h4M152 102h4M56 106h4M152 106h4M52 110h8M56 114h4M48 118h4M48 122h4M60 126h4M44 130h4M44 134h4M44 138h4M136 138h4M44 142h4M72 142h4M44 146h4M76 146h4M44 150h4M80 150h4M44 154h4M44 158h4M124 158h4M44 162h4M40 166h4"/><path stroke="#8c8c8c" d="M68 30h4M80 30h4M64 34h4M84 34h4M64 38h4M84 42h4M60 46h4M60 50h4M116 70h32M148 74h4M92 78h4M76 82h4M68 86h4M32 90h4M24 94h4M40 94h4M56 98h4M52 102h8M52 106h4M152 110h4M52 114h4M52 118h8M148 118h4M52 122h8M148 122h4M48 126h4M56 126h4M144 126h4M60 130h4M144 130h4M64 134h4M140 134h4M68 138h4M136 142h4M132 150h4M92 162h4M120 162h4M44 166h4M40 170h4"/><path stroke="#909090" d="M76 10h4M72 14h8M72 18h4M72 22h4M68 26h12M64 30h4M84 30h4M88 34h4M60 38h4M88 38h4M60 42h4M80 46h4M56 50h4M60 54h12M112 70h4M104 74h4M88 78h4M152 78h4M28 90h4M36 90h4M60 90h4M156 90h4M8 94h16M48 98h4M152 114h4M52 126h4M148 126h4M48 130h4M56 130h4M148 130h4M48 134h4M60 134h4M144 134h4M48 138h4M140 138h4M48 142h4M48 146h4M136 146h4M48 150h4M48 154h4M132 154h4M48 158h4M84 158h4M128 158h4M48 162h4M100 166h12"/><path stroke="#949494" d="M80 10h4M68 14h4M80 14h4M68 18h4M76 18h8M68 22h4M76 22h8M64 26h4M80 26h8M88 30h4M60 34h4M56 42h4M88 42h4M56 46h4M84 46h4M76 50h4M56 54h4M72 54h4M140 66h4M108 70h4M148 70h4M100 74h4M84 78h4M72 82h4M156 82h4M28 86h8M64 86h4M156 86h4M8 90h8M24 90h4M40 90h4M44 94h4M56 94h4M156 94h4M52 98h4M156 98h4M156 102h4M152 118h4M152 122h4M152 126h4M52 130h4M152 130h4M52 134h8M148 134h4M64 138h4M144 138h8M68 142h4M140 142h8M72 146h4M76 150h4M136 150h4M80 154h4M88 162h4M124 162h4M48 166h4M96 166h4M112 166h8M44 170h4"/><path stroke="#989898" d="M84 10h16M64 14h4M84 14h16M56 18h12M84 18h16M60 22h8M84 22h16M60 26h4M88 26h12M60 30h4M92 30h8M92 34h8M56 38h4M92 38h4M52 46h4M52 50h4M52 54h4M60 58h8M136 66h4M144 66h4M12 74h16M96 74h4M152 74h4M12 78h16M80 78h4M12 82h20M68 82h4M8 86h20M36 86h4M16 90h8M44 90h4M56 90h4M48 94h8M156 106h4M156 110h4M156 114h4M156 118h4M156 122h4M156 126h4M156 130h4M152 134h8M52 138h4M60 138h4M152 138h4M52 142h4M148 142h4M52 146h4M140 146h8M52 150h4M136 154h4M132 158h4M92 166h4M48 170h4"/><path stroke="#9c9c9c" d="M100 10h4M100 14h4M100 18h4M52 22h8M100 22h4M56 26h4M100 26h4M56 30h4M100 30h4M56 34h4M100 34h4M52 38h4M96 38h4M48 42h8M92 42h4M48 46h4M88 46h4M44 50h8M80 50h4M48 54h4M76 54h4M52 58h8M68 58h4M112 66h24M148 66h4M12 70h20M104 70h4M28 74h4M88 74h8M28 78h8M76 78h4M156 78h4M32 82h8M64 82h4M40 86h4M60 86h4M160 90h4M160 94h4M160 114h4M160 118h4M160 122h8M160 126h8M160 130h8M160 134h4M56 138h4M156 138h4M64 142h4M152 142h4M68 146h4M148 146h4M140 150h4M52 154h4M76 154h4M52 158h4M80 158h4M52 162h4M84 162h4M128 162h4M52 166h4M88 166h4M120 166h4M52 170h4M100 170h16M44 174h8"/><path stroke="#a0a0a0" d="M104 10h12M104 14h16M104 18h16M104 22h16M44 26h12M104 26h12M40 30h16M104 30h4M36 34h20M104 34h4M32 38h20M100 38h4M28 42h20M96 42h4M24 46h24M92 46h4M24 50h20M20 54h28M20 58h32M72 58h4M16 62h24M140 62h8M16 66h20M108 66h4M32 70h4M100 70h4M152 70h4M32 74h8M84 74h4M156 74h4M36 78h4M72 78h4M40 82h4M44 86h4M56 86h4M160 86h4M48 90h8M160 98h4M160 102h4M160 106h4M160 110h4M164 114h24M164 118h24M168 122h20M168 126h20M168 130h12M164 134h8M160 138h4M56 142h8M156 142h4M56 146h4M152 146h4M56 150h4M72 150h4M144 150h4M140 154h4M136 158h4M132 162h4M124 166h8M92 170h8M116 170h4M52 174h4"/><path stroke="#a4a4a4" d="M116 10h8M120 14h4M120 18h8M120 22h8M132 22h8M116 26h4M108 30h4M84 50h4M40 62h24M136 62h4M148 62h4M36 66h8M104 66h4M152 66h4M36 70h4M92 70h8M40 74h4M76 74h8M40 78h4M68 78h4M44 82h4M60 82h4M160 82h4M48 86h8M164 94h4M164 98h4M164 102h4M164 106h8M164 110h28M180 130h4M172 134h12M164 138h20M160 142h8M176 142h4M60 146h8M156 146h4M68 150h4M148 150h8M56 154h4M72 154h4M144 154h4M56 158h4M76 158h4M140 158h4M56 162h4M80 162h4M136 162h4M56 166h4M84 166h4M132 166h4M56 170h4M88 170h4M120 170h8M96 174h28M100 178h20M100 182h20M100 186h20M96 190h24"/><path stroke="#a8a8a8" d="M124 14h12M128 18h16M128 22h4M140 22h8M120 26h4M136 26h12M112 30h4M108 34h4M104 38h4M160 38h8M100 42h4M156 42h16M96 46h4M152 46h16M88 50h4M152 50h12M80 54h4M148 54h12M76 58h4M144 58h12M64 62h12M132 62h4M152 62h4M44 66h12M100 66h4M40 70h8M80 70h12M156 70h4M44 74h4M72 74h4M44 78h4M64 78h4M160 78h4M48 82h12M164 86h4M164 90h4M168 102h8M184 102h8M172 106h20M168 142h8M160 146h20M60 150h8M156 150h20M60 154h4M148 154h4M168 154h4M60 158h4M144 158h4M76 162h4M140 162h4M80 166h4M136 166h4M84 170h4M128 170h8M56 174h4M88 174h8M124 174h8M52 178h4M92 178h8M120 178h8M92 182h8M120 182h8M92 186h8M120 186h8M92 190h4M120 190h4"/><path stroke="#acacac" d="M124 26h12M148 26h4M140 30h12M156 34h8M152 38h8M152 42h4M148 46h4M168 46h4M92 50h4M148 50h4M164 50h8M160 54h4M140 58h4M156 58h4M76 62h4M104 62h28M156 62h4M56 66h8M88 66h12M156 66h4M48 70h8M76 70h4M48 74h4M68 74h4M160 74h4M48 78h16M164 82h4M168 90h4M168 94h4M168 98h24M176 102h8M64 154h8M152 154h16M64 158h12M148 158h24M60 162h4M72 162h4M144 162h24M60 166h4M76 166h4M140 166h24M136 170h24M84 174h4M132 174h24M88 178h4M128 178h20M88 182h4M128 182h16M88 186h4M128 186h8M88 190h4"/><path stroke="#b0b0b0" d="M152 26h4M116 30h4M136 30h4M152 30h8M144 34h12M108 38h4M144 38h8M104 42h4M148 42h4M100 46h4M96 50h4M172 50h4M84 54h4M144 54h4M164 54h12M80 58h4M136 58h4M160 58h4M80 62h4M100 62h4M64 66h24M56 70h8M68 70h8M160 70h4M52 74h16M168 86h4M172 90h4M188 90h4M172 94h20M64 162h8M64 166h4M72 166h4M60 170h4M80 170h4M80 174h4M56 178h4M84 178h4M84 182h4M84 186h4M84 190h4"/><path stroke="#b4b4b4" d="M120 30h4M132 30h4M112 34h4M140 34h4M144 42h4M144 46h4M144 50h4M88 54h8M140 54h4M176 54h4M84 58h4M164 58h12M84 62h16M160 62h4M160 66h4M64 70h4M164 78h4M172 86h4M176 90h12M68 166h4M76 170h4M60 174h4M80 178h4M80 182h4M80 186h4M80 190h4"/><path stroke="#b8b8b8" d="M124 30h8M140 38h4M108 42h4M104 46h4M100 50h4M96 54h8M88 58h32M132 58h4M176 58h4M164 62h8M164 66h4M164 70h4M164 74h4M168 82h4M176 86h12M64 170h12M76 174h4M60 178h4M76 178h4M56 182h4M76 182h4M76 186h4M76 190h4"/><path stroke="#bcbcbc" d="M116 34h4M136 34h4M112 38h4M140 42h4M140 46h4M104 50h4M140 50h4M104 54h4M136 54h4M120 58h12M172 62h4M168 78h4M172 82h4M184 82h4M64 174h12M64 178h4M72 178h4M60 182h16M64 186h12"/><path stroke="#c0c0c0" d="M132 34h4M136 38h4M112 42h4M108 46h4M108 50h4M108 54h4M132 54h4M176 62h4M168 66h4M168 74h4M176 82h8M68 178h4"/><path stroke="#c4c4c4" d="M120 34h4M128 34h4M116 38h4M136 50h4M112 54h8M180 62h4M172 66h4M180 66h4M168 70h4M172 78h4M184 78h4"/><path stroke="#c8c8c8" d="M124 34h4M136 42h4M112 46h4M136 46h4M112 50h4M120 54h12M176 66h4M172 70h4M180 70h4M172 74h4M184 74h4M176 78h8"/><path stroke="#cccccc" d="M120 38h4M132 38h4M116 42h4M116 46h4M116 50h4M132 50h4M176 70h4M176 74h8"/><path stroke="#d0d0d0" d="M124 38h8M132 42h4M132 46h4M120 50h12"/><path stroke="#d4d4d4" d="M120 42h12M120 46h12"/></g></g></g>
<path clip-path="url(#cl13)" d="M892.8 451.0L895.8 447.0L903.0 444.2L906.8 439.0L906.6 431.0L907.5 427.0L908.8 419.0L903.0 418.3L895.0 416.3L887.0 415.8L879.0 418.2L877.5 423.0L875.5 431.0L871.0 434.7L868.9 439.0L871.0 445.7L875.0 448.1L883.0 449.2L889.2 451.0L892.8 451.0M902.7 463.0L906.5 459.0L910.2 455.0L913.0 451.0L914.6 443.0L914.0 435.0L915.0 430.8L919.0 426.4L923.9 423.0L927.0 418.8L927.1 411.0L925.6 407.0L923.0 401.9L919.0 398.4L915.0 399.6L911.0 403.9L903.0 406.4L895.0 403.2L887.0 404.4L879.0 404.4L871.3 407.0L867.6 411.0L864.7 415.0L862.2 419.0L860.9 427.0L861.5 435.0L862.8 443.0L864.5 447.0L867.0 451.0L872.0 455.0L877.2 459.0L881.8 463.0L887.0 465.3L895.0 466.1L902.7 463.0M899.2 471.0L906.8 467.0L910.3 463.0L914.0 459.0L917.4 455.0L919.5 451.0L920.1 443.0L919.8 435.0L923.0 430.3L927.1 427.0L931.0 422.4L933.3 415.0L933.5 407.0L931.8 399.0L929.1 395.0L926.3 391.0L919.0 387.5L911.0 390.8L907.0 394.5L903.0 396.4L895.0 396.4L887.0 397.5L879.0 397.8L871.7 399.0L867.0 401.9L863.0 404.5L858.1 407.0L855.0 411.0L853.1 419.0L853.2 427.0L855.0 434.9L856.2 439.0L859.0 446.2L861.0 451.0L863.6 455.0L868.2 459.0L873.2 463.0L877.8 467.0L883.0 469.8L887.1 471.0L895.0 471.8L899.2 471.0M823.0 447.0L825.1 439.0L827.0 431.1L827.4 427.0L827.0 421.4L823.1 415.0L819.0 414.8L815.0 417.2L811.0 421.9L807.0 425.0L803.0 422.3M806.0 435.0L808.1 435.0L813.0 439.0L819.0 442.9L823.0 447.0L823.0 447.0M861.5 367.0L864.4 363.0L867.0 358.7L871.0 352.0L871.0 348.3L867.0 346.0L859.0 346.5L855.0 349.6L852.2 355.0L849.3 359.0L846.8 363.0L847.6 367.0L855.0 369.8L861.5 367.0M831.4 475.0L830.9 471.0L830.2 463.0L831.5 459.0L834.8 451.0L835.5 447.0L835.0 439.0L834.7 435.0L835.0 428.9L836.5 423.0L839.0 416.1L843.3 419.0L845.9 427.0L847.0 431.0L848.4 439.0L851.0 443.5L855.0 450.7L857.0 455.0L859.7 459.0L864.6 463.0L870.1 467.0L874.6 471.0L879.0 474.0L883.0 475.9L891.0 478.7L895.0 479.2L899.0 477.9L903.9 475.0L910.0 471.0L913.5 467.0L917.1 463.0L921.4 459.0L925.6 455.0L929.4 451.0L929.4 443.0L928.3 435.0L931.1 431.0L935.0 425.7L938.8 419.0L939.8 415.0L940.8 407.0L941.2 399.0L937.9 395.0L933.7 391.0L930.9 387.0L927.0 381.3L919.0 380.4L911.0 382.6L907.0 384.9L903.0 387.8L895.0 390.4L891.0 391.3L883.0 392.6L875.0 392.5L867.7 395.0L863.0 397.7L859.0 399.5L851.0 402.0L847.0 404.7L843.0 409.0L839.0 412.0L835.0 409.5L831.0 406.4L823.0 403.3L815.0 405.8L807.0 406.7M967.0 419.8L959.0 421.4L955.0 417.2L953.6 411.0L953.4 403.0L951.0 397.0L947.0 391.6L943.0 389.3L938.8 387.0L935.8 379.0L937.9 371.0L943.0 367.7L947.0 366.3M939.0 350.2L935.0 351.9L932.8 359.0L932.9 367.0L927.4 371.0L923.0 372.1L915.0 373.9L911.0 375.2L903.0 378.6L899.0 380.0L891.0 382.6L887.0 384.6L879.0 385.4L872.5 383.0L868.8 379.0L868.9 371.0L871.0 366.4L875.0 361.3L879.0 359.0L884.0 359.0L887.3 359.0L891.8 355.0L892.8 347.0L895.0 341.4L899.0 336.2L902.5 331.0M863.0 333.0L863.0 336.7L855.0 337.8L849.4 339.0L844.2 343.0L843.0 348.3M851.0 395.3L843.0 398.0L835.0 396.9L831.0 391.3L827.4 387.0L826.3 383.0L827.7 379.0L831.0 373.6L839.0 373.3L843.0 375.0L851.0 377.5L859.0 378.6L863.0 380.8L864.6 387.0L860.6 391.0L855.0 393.8L851.0 395.3M837.4 479.0L836.6 471.0L837.1 463.0L839.3 459.0L847.0 455.3L851.5 459.0L855.0 463.8L859.1 467.0L866.4 471.0L870.6 475.0L874.4 479.0L878.1 483.0L880.9 487.0L884.4 491.0L891.0 494.5L899.0 493.4L903.9 491.0L907.0 486.8L910.9 479.0L914.6 475.0L917.7 471.0L922.3 467.0L927.0 466.3L931.0 468.5L939.0 468.6L943.0 465.1L946.4 459.0L947.0 453.8L951.0 448.3M935.5 475.0L934.5 475.0L927.4 479.0L923.0 482.1L919.3 487.0L916.4 491.0M911.0 367.9L903.0 369.5L899.5 363.0L900.3 355.0L900.5 347.0L903.0 342.0L907.0 338.8L911.3 339.0L915.9 343.0L919.0 348.8L919.9 355.0L919.0 359.4L915.0 365.5L911.0 367.9M963.0 397.6L957.6 395.0L954.9 391.0L955.0 383.1L957.5 379.0" fill="none" stroke="#fff" stroke-width="4" stroke-dasharray="4 8"/>
<path d="M800.95 412.90A83.85 86.10 0 1 1 968.65 412.90A83.85 86.10 0 1 1 800.95 412.90ZM876.41 326.80L884.80 318.19L893.18 326.80M968.15 403.34L970.33 399.55L971.67 399.42L973.66 400.05L975.68 403.34L975.36 413.85L976.53 428.95L974.02 435.51L970.33 436.73L966.81 433.55M801.45 403.34L799.27 399.55L797.93 399.42L795.94 400.05L793.92 403.34L794.24 413.85L793.07 428.95L795.58 435.51L799.27 436.73L802.79 433.55" fill="none" stroke="#000" stroke-width="6" stroke-linejoin="miter" stroke-miterlimit="10"/>
</g>
<g id="head-C1">
<g clip-path="url(#cl20)"><g filter="url(#cm)"><g transform="translate(75 564)" stroke-width="4" fill="none" shape-rendering="crispEdges"><path stroke="#242424" d="M108 130h4M108 134h4"/><path stroke="#282828" d="M96 110h8M92 114h16M88 118h20M88 122h24M92 126h24M96 130h12M112 130h4M100 134h8M112 134h4M108 138h4"/><path stroke="#2c2c2c" d="M92 110h4M104 110h4M88 114h4M108 114h4M108 118h8M112 122h8M88 126h4M116 126h4M92 130h4M116 130h4M96 134h4M104 138h4M112 138h4"/><path stroke="#303030" d="M92 106h16M88 110h4M108 110h4M84 114h4M112 114h4M84 118h4M116 118h4M84 122h4M116 134h4M100 138h4M108 142h4"/><path stroke="#343434" d="M108 106h4M112 110h4M116 114h4M120 118h4M120 122h4M84 126h4M120 126h4M88 130h4M92 134h4M96 138h4M116 138h4M104 142h4M112 142h4"/><path stroke="#383838" d="M96 102h12M88 106h4M112 106h4M84 110h4M116 110h4M120 114h4M80 118h4M80 122h4M120 130h4M100 142h4"/><path stroke="#3c3c3c" d="M92 102h4M108 102h4M116 106h4M120 110h4M80 114h4M124 118h4M124 122h4M80 126h4M84 130h4M88 134h4M92 138h4M96 142h4M116 142h4M108 146h4"/><path stroke="#404040" d="M88 102h4M112 102h8M84 106h4M120 106h4M124 110h4M124 114h4M124 126h4M120 134h4M104 146h4M112 146h4"/><path stroke="#444444" d="M92 98h20M120 102h4M124 106h4M80 110h4M120 138h4M100 146h4"/><path stroke="#484848" d="M88 98h4M112 98h12M84 102h4M124 102h4M80 106h4M128 110h4M128 114h4M76 118h4M128 118h4M76 122h4M80 130h4M124 130h4M84 134h4M88 138h4M92 142h4M116 146h4"/><path stroke="#4c4c4c" d="M96 94h8M116 94h12M84 98h4M124 98h8M128 102h4M128 106h4M76 114h4M128 122h4M76 126h4M120 142h4M96 146h4M104 150h8"/><path stroke="#505050" d="M88 94h8M104 94h12M128 94h4M80 102h4M76 110h4M132 110h4M132 114h4M128 126h4M124 134h4M112 150h4"/><path stroke="#545454" d="M116 90h16M84 94h4M132 94h4M80 98h4M132 98h4M132 102h4M76 106h4M132 106h4M132 118h4M76 130h4M80 134h4M84 138h4M124 138h4M88 142h4M92 146h4M120 146h4M100 150h4"/><path stroke="#585858" d="M92 90h24M132 90h4M76 102h4M72 114h4M72 118h4M72 122h4M128 130h4M116 150h4"/><path stroke="#5c5c5c" d="M120 86h12M88 90h4M80 94h4M136 94h4M76 98h4M136 98h4M136 102h4M72 110h4M132 122h4M72 126h4M124 142h4M96 150h4"/><path stroke="#606060" d="M96 86h12M112 86h8M132 86h4M84 90h4M136 90h4M76 94h4M72 102h4M72 106h4M136 106h4M32 110h8M136 110h4M32 114h8M136 114h4M76 134h4M128 134h4M80 138h4M84 142h4M88 146h4M104 154h12"/><path stroke="#646464" d="M88 86h8M108 86h4M80 90h4M72 98h4M32 106h4M28 110h4M28 114h4M32 118h4M136 118h4M132 126h4M72 130h4M124 146h4M92 150h4M120 150h4"/><path stroke="#686868" d="M120 82h12M84 86h4M136 86h4M76 90h4M140 90h4M72 94h4M140 94h4M140 98h4M36 106h4M68 106h4M68 110h4M68 114h4M28 118h4M36 118h4M68 118h4M68 122h4M128 138h4M100 154h4M116 154h4"/><path stroke="#6c6c6c" d="M116 82h4M132 82h4M80 86h4M32 102h4M68 102h4M140 102h4M28 106h4M140 106h4M40 110h4M140 110h4M24 114h4M40 114h4M136 122h4M68 126h4M132 130h4M76 138h4M80 142h4M84 146h4M96 154h4"/><path stroke="#707070" d="M92 82h24M136 82h4M76 86h4M140 86h4M72 90h4M144 94h4M68 98h4M36 102h4M40 106h4M8 110h8M24 110h4M12 114h12M140 114h4M12 118h16M40 118h4M28 122h8M136 126h4M68 130h4M72 134h4M132 134h4M128 142h4M88 150h4M124 150h4"/><path stroke="#747474" d="M128 78h4M88 82h4M144 90h4M68 94h4M144 98h4M28 102h4M40 102h4M8 106h8M24 106h4M64 106h4M16 110h8M64 110h4M64 114h4M140 118h4M12 122h16M36 122h4M128 146h4M92 154h4M120 154h4M104 158h12"/><path stroke="#787878" d="M120 78h8M132 78h4M84 82h4M140 82h4M72 86h4M144 86h4M68 90h4M32 98h8M64 102h4M144 102h4M16 106h8M44 106h4M44 110h4M144 110h4M144 114h4M64 118h4M64 122h4M140 122h4M12 126h24M136 130h4M68 134h4M72 138h4M132 138h4M76 142h4M32 146h8M80 146h4M28 150h12M84 150h4M28 154h12M28 158h4"/><path stroke="#7c7c7c" d="M116 78h4M136 78h4M80 82h4M144 82h4M68 86h4M148 86h4M148 90h4M64 94h4M148 94h4M28 98h4M40 98h4M64 98h4M8 102h20M44 102h4M144 106h4M44 114h4M144 118h4M40 122h4M36 126h4M64 126h4M16 130h16M28 134h4M136 134h4M28 138h8M28 142h12M24 146h8M24 150h4M40 150h4M40 154h4M88 154h4M32 158h12M100 158h4M116 158h4M32 162h12"/><path stroke="#808080" d="M96 78h20M140 78h4M76 82h4M64 90h4M24 98h4M148 98h4M60 102h4M60 106h4M60 110h4M148 114h4M44 118h4M140 126h4M32 130h4M64 130h4M140 130h4M16 134h12M32 134h4M16 138h12M36 138h4M20 142h8M132 142h4M20 146h4M40 146h4M128 150h4M124 154h4M44 158h4M96 158h4M44 162h4M36 166h8"/><path stroke="#848484" d="M84 78h12M72 82h4M148 82h4M64 86h4M152 86h4M152 90h4M28 94h12M152 94h4M8 98h16M44 98h4M60 98h4M48 102h4M148 102h4M48 106h4M56 106h4M148 106h4M48 110h4M148 110h4M60 114h4M148 118h4M44 122h4M144 122h4M40 126h4M36 130h4M36 134h4M64 134h4M140 134h4M68 138h4M136 138h4M40 142h4M72 142h4M76 146h4M132 146h4M44 150h4M80 150h4M44 154h4M84 154h4M92 158h4M120 158h4"/><path stroke="#888888" d="M124 74h12M80 78h4M144 78h4M68 82h4M60 90h4M8 94h20M40 94h4M60 94h4M48 98h4M52 102h8M52 106h4M56 110h4M48 114h4M152 114h4M60 118h4M152 118h4M60 122h4M144 126h4M40 130h4M144 130h4M144 134h4M40 138h4M44 146h4M128 154h4M88 158h4M108 162h4M44 166h4"/><path stroke="#8c8c8c" d="M116 74h8M136 74h8M76 78h4M148 78h4M64 82h4M152 82h4M60 86h4M8 90h28M44 94h4M56 94h4M52 98h8M152 98h4M52 110h4M152 110h4M56 114h4M48 118h4M148 122h4M44 126h4M60 126h4M60 130h4M40 134h4M64 138h4M140 138h4M68 142h4M136 142h4M72 146h4M132 150h4M48 154h4M80 154h4M48 158h4M124 158h4M48 162h4M100 162h8M112 162h4M40 170h4"/><path stroke="#909090" d="M72 22h4M72 34h20M72 38h24M76 42h12M104 74h12M144 74h4M72 78h4M12 86h16M156 86h4M36 90h4M56 90h4M156 90h4M48 94h8M156 94h4M152 102h4M152 106h4M52 114h4M156 114h4M156 118h4M152 122h4M148 126h4M148 130h4M60 134h4M148 134h4M144 138h4M44 142h4M48 150h4M76 150h4M84 158h4M92 162h8M116 162h4"/><path stroke="#949494" d="M76 10h4M68 14h12M68 18h12M68 22h4M76 22h4M68 26h12M68 30h16M92 30h4M68 34h4M92 34h8M68 38h4M96 38h4M68 42h8M88 42h8M76 46h4M88 74h16M148 74h4M68 78h4M152 78h4M16 82h8M60 82h4M156 82h4M28 86h4M56 86h4M40 90h8M52 90h4M156 98h4M156 110h4M52 118h8M48 122h4M156 122h4M152 126h4M44 130h4M152 130h4M44 134h4M152 134h4M44 138h4M148 138h4M140 142h4M48 146h4M136 146h4M52 154h4M132 154h4M128 158h4M88 162h4M120 162h4M48 166h4M44 170h4"/><path stroke="#989898" d="M80 10h4M64 14h4M80 14h4M64 18h4M80 18h4M108 18h8M64 22h4M80 22h4M108 22h8M64 26h4M80 26h8M92 26h12M64 30h4M84 30h8M96 30h8M64 34h4M100 34h4M64 38h4M68 46h8M80 46h8M80 74h8M64 78h4M12 82h4M24 82h4M32 86h4M48 90h4M156 102h4M156 106h4M160 114h4M160 118h4M52 122h8M160 122h4M48 126h4M56 126h4M156 126h4M48 130h4M56 130h4M156 130h4M56 134h4M156 134h4M60 138h4M152 138h4M48 142h4M64 142h4M68 146h4M52 150h4M72 150h4M136 150h4M76 154h4M52 158h4M80 158h4M132 158h4M52 162h4M84 162h4M124 162h4M92 166h20"/><path stroke="#9c9c9c" d="M84 10h36M84 14h36M56 18h8M84 18h24M116 18h8M60 22h4M84 22h24M116 22h8M60 26h4M88 26h4M104 26h12M60 30h4M104 30h4M60 34h4M104 34h4M60 38h4M100 38h4M64 42h4M96 42h4M64 46h4M88 46h4M120 70h28M76 74h4M152 74h4M12 78h12M60 78h4M156 78h4M28 82h4M56 82h4M36 86h8M48 86h8M160 90h4M160 94h4M160 98h4M160 110h4M52 126h4M160 126h4M52 130h4M160 130h4M48 134h8M160 134h4M48 138h4M56 138h4M156 138h4M144 142h4M52 146h4M140 146h4M56 154h4M136 154h4M56 158h4M76 158h4M80 162h4M128 162h4M52 166h4M88 166h4M112 166h8M48 170h4M44 174h4"/><path stroke="#a0a0a0" d="M120 10h4M120 14h4M124 18h4M52 22h8M124 22h4M56 26h4M116 26h4M56 30h4M108 30h4M56 34h4M56 38h4M104 38h4M56 42h8M100 42h4M56 46h8M92 46h4M56 50h24M56 54h8M20 58h4M16 62h8M112 70h8M148 70h4M16 74h8M68 74h8M24 78h4M32 82h4M52 82h4M44 86h4M160 86h4M160 102h4M160 106h4M164 114h4M164 118h4M164 122h4M164 126h4M164 130h8M164 134h4M52 138h4M160 138h8M52 142h12M148 142h4M64 146h4M56 150h4M64 150h8M140 150h4M60 154h16M60 158h16M136 158h4M56 162h24M132 162h8M64 166h12M84 166h4M120 166h4M52 170h4M84 170h28M48 174h8M84 174h24M84 178h24M84 182h24M84 186h24M84 190h24"/><path stroke="#a4a4a4" d="M124 14h4M44 26h12M120 26h4M40 30h16M112 30h4M36 34h20M108 34h4M36 38h20M40 42h16M44 46h12M96 46h4M48 50h8M80 50h4M20 54h8M52 54h4M64 54h8M24 58h4M56 58h8M24 62h4M16 66h12M12 70h16M100 70h12M152 70h4M12 74h4M24 74h4M64 74h4M156 74h4M28 78h4M56 78h4M36 82h8M48 82h4M160 82h4M164 94h4M164 98h4M164 106h4M164 110h4M168 114h4M168 118h20M168 122h20M168 126h8M184 126h4M172 130h4M168 134h8M168 138h4M152 142h12M56 146h8M144 146h4M60 150h4M140 154h4M140 158h4M56 166h8M76 166h8M124 166h16M56 170h28M112 170h8M132 170h4M56 174h8M76 174h8M108 174h4M52 178h8M80 178h4M108 178h4M80 182h4M108 182h4M80 186h4M108 186h4M80 190h4M108 190h4"/><path stroke="#a8a8a8" d="M128 14h4M128 18h4M128 22h4M124 26h4M32 38h4M36 42h4M104 42h4M36 46h8M24 50h4M40 50h8M84 50h4M28 54h4M48 54h4M72 54h4M28 58h4M48 58h8M64 58h4M28 62h4M52 62h8M28 66h4M140 66h12M28 70h4M80 70h20M156 70h4M28 74h4M56 74h8M32 78h8M48 78h8M160 78h4M44 82h4M164 90h4M164 102h4M168 110h8M172 114h16M176 126h8M176 130h8M176 134h8M172 138h12M164 142h16M148 146h32M144 150h4M160 150h16M144 154h4M152 154h20M144 158h28M140 162h28M140 166h24M120 170h12M136 170h24M64 174h12M112 174h44M60 178h8M72 178h8M112 178h36M56 182h12M72 182h8M112 182h32M64 186h16M112 186h24M76 190h4M112 190h12"/><path stroke="#acacac" d="M132 14h4M132 18h12M132 22h16M128 26h4M140 26h8M116 30h4M112 34h4M108 38h4M160 38h8M28 42h8M156 42h16M24 46h12M100 46h4M152 46h24M28 50h12M88 50h4M152 50h24M32 54h16M76 54h4M152 54h24M32 58h16M68 58h4M152 58h12M32 62h20M60 62h8M152 62h8M32 66h32M116 66h24M152 66h8M32 70h48M160 70h4M32 74h24M160 74h4M40 78h8M164 86h4M168 94h4M168 98h4M168 102h4M168 106h8M188 106h4M176 110h16M148 150h12M148 154h4M68 178h4M68 182h4"/><path stroke="#b0b0b0" d="M132 26h8M148 26h8M120 30h4M140 30h12M148 34h4M156 34h8M152 38h8M108 42h4M152 42h4M104 46h4M92 50h8M80 54h4M148 54h4M176 54h4M72 58h4M148 58h4M164 58h12M68 62h4M144 62h8M160 62h8M64 66h8M108 66h8M160 66h4M164 74h4M164 78h4M164 82h4M172 98h20M172 102h20M176 106h12"/><path stroke="#b4b4b4" d="M124 30h4M136 30h4M152 30h8M140 34h8M152 34h4M112 38h4M144 38h8M148 42h4M148 46h4M100 50h4M148 50h4M84 54h4M76 58h4M144 58h4M176 58h4M72 62h4M140 62h4M168 62h8M72 66h36M164 66h4M164 70h4M168 90h4M172 94h20"/><path stroke="#b8b8b8" d="M128 30h8M116 34h4M144 42h4M108 46h4M144 46h4M104 50h4M144 50h4M88 54h4M144 54h4M80 58h4M140 58h4M76 62h4M112 62h8M136 62h4M176 62h8M168 66h16M168 70h4M168 74h4M168 78h4M168 86h4M172 90h4"/><path stroke="#bcbcbc" d="M136 34h4M140 38h4M112 42h4M108 50h4M92 54h12M84 58h4M80 62h16M100 62h12M120 62h16M172 70h16M172 74h4M168 82h4M176 90h16"/><path stroke="#c0c0c0" d="M120 34h4M132 34h4M116 38h4M140 42h4M112 46h4M140 50h4M104 54h8M140 54h4M88 58h28M136 58h4M96 62h4M176 74h12M172 78h4M184 78h4M172 82h4M172 86h16"/><path stroke="#c4c4c4" d="M124 34h8M136 38h4M140 46h4M112 50h4M112 54h4M136 54h4M116 58h8M128 58h8M176 78h8M176 82h12"/><path stroke="#c8c8c8" d="M116 42h4M136 42h4M136 50h4M116 54h4M132 54h4M124 58h4"/><path stroke="#cccccc" d="M120 38h4M132 38h4M116 46h4M136 46h4M116 50h4M120 54h4M128 54h4"/><path stroke="#d0d0d0" d="M124 38h8M120 42h4M132 42h4M120 46h4M120 50h4M132 50h4M124 54h4"/><path stroke="#d4d4d4" d="M124 42h8M132 46h4M124 50h8"/><path stroke="#d8d8d8" d="M124 46h8"/></g></g></g>
<path clip-path="url(#cl20)" d="M190.6 706.0L193.4 702.0L197.0 696.8L200.1 690.0L197.0 683.1L193.0 679.2L189.0 675.2L185.0 671.9L181.0 669.7L173.0 669.5L169.0 672.2L165.0 675.7L161.0 680.1L157.7 686.0L160.3 694.0L165.0 696.9L169.0 699.4L173.0 702.3L178.6 706.0L185.0 708.5L190.6 706.0M191.2 714.0L196.3 710.0L199.1 706.0L201.2 702.0L205.0 694.4L206.8 690.0L206.9 682.0L204.9 678.0L205.0 670.6L208.0 666.0L209.7 662.0L209.0 655.8L205.6 650.0L201.0 649.2L197.0 651.3L193.0 657.2L189.0 660.0L181.0 659.1L173.0 658.8L168.8 662.0L165.0 666.3L161.0 670.8L157.0 675.3L153.0 680.8L151.4 686.0L153.0 692.9L156.4 698.0L161.0 701.5L165.0 703.9L169.0 706.8L173.9 710.0L181.0 713.7L185.0 714.9L191.2 714.0M194.2 718.0L200.4 714.0L204.2 710.0L206.1 706.0L208.7 698.0L210.7 694.0L213.0 689.6L217.0 682.8L220.3 678.0L221.1 674.0L220.3 670.0L218.5 662.0L217.0 657.9L215.8 650.0L213.0 643.4L205.0 642.1L201.0 642.0L197.0 642.4L190.1 646.0L185.0 648.5L177.0 648.5L169.0 647.2L165.0 646.0L160.8 646.0L154.4 650.0L152.4 654.0L150.2 662.0L148.3 666.0L144.8 670.0L141.8 678.0L145.0 686.0L146.7 690.0L149.0 694.5L153.0 701.9L156.8 706.0L161.0 709.1L165.0 711.8L169.9 714.0L177.0 716.7L181.0 718.2L189.0 719.4L194.2 718.0M117.1 686.0L120.3 678.0L117.0 672.4L109.0 670.5L105.0 678.0L109.0 684.1L113.0 687.5L117.1 686.0M158.5 610.0L165.0 606.9L169.0 602.3L169.0 601.8L161.0 599.5L153.0 598.8L147.3 602.0L144.4 606.0L145.0 612.6L153.0 611.7L158.5 610.0M121.0 727.4L121.9 722.0L121.0 717.3L120.0 710.0L118.8 702.0L120.4 694.0L123.1 690.0L126.8 686.0L133.0 684.6L137.0 688.6L141.0 692.6L145.0 697.9L146.6 702.0L149.0 708.0L153.0 713.3L157.0 717.3L161.0 720.1L166.2 722.0L173.0 722.2L181.0 722.8L189.0 723.9L197.0 722.7L201.0 720.9L205.3 718.0L209.0 714.0L212.7 706.0L213.8 702.0L217.0 695.0L221.0 690.0L224.9 686.0L228.2 682.0L229.8 678.0L229.9 670.0L229.7 662.0L229.0 656.9L225.6 650.0L224.3 646.0L221.0 641.5L216.6 638.0L209.0 637.4L201.0 637.4L193.0 637.2L189.0 639.3L182.9 642.0L177.0 642.3L173.0 641.6L165.0 639.3L157.0 640.9L153.0 642.4L145.8 646.0L142.1 650.0L139.7 654.0L134.1 658.0L129.0 659.5L121.0 659.2L117.0 656.5L113.0 653.5L105.0 652.1L97.0 652.9L93.0 654.6M113.0 613.9L117.0 615.9L121.0 618.5L126.2 622.0L133.0 623.6L141.0 624.3L148.1 622.0L153.0 619.5L157.0 617.7L165.0 616.3L171.7 614.0L175.2 610.0L177.4 606.0L181.0 598.2L185.0 594.4L189.0 593.5L197.0 592.5L203.8 590.0L205.8 586.0M231.0 622.0L233.2 618.0L233.0 613.8L230.6 606.0L226.6 602.0L224.1 602.0L224.2 610.0L224.8 618.0L227.2 622.0L231.0 622.0M257.0 669.6L250.2 666.0L245.8 662.0L243.8 658.0L241.6 650.0L240.5 646.0L237.0 638.2L233.0 634.8L228.1 634.0L221.0 631.5L213.0 631.6L205.0 633.3L197.0 631.1L189.0 630.5L182.5 634.0L177.0 634.5L173.0 632.7L165.0 632.4L161.0 634.1L153.0 636.6L147.6 638.0L141.0 639.1L134.6 642.0L131.3 646.0L125.0 650.0L120.0 646.0L116.9 642.0L109.0 639.1L101.0 638.3L97.0 636.2M137.0 712.3L130.0 710.0L128.0 706.0L129.0 700.1L134.1 702.0L137.7 706.0L137.0 712.3M179.4 746.0L178.4 738.0L181.0 730.3L187.9 734.0L186.9 742.0L189.0 747.1M195.6 746.0L196.7 738.0L197.9 734.0L202.5 730.0L209.0 726.6L212.6 722.0L214.5 718.0L217.0 713.6L225.0 712.5L227.5 718.0L225.0 726.0L222.5 730.0M137.0 738.4L145.0 739.4L153.0 740.7L157.0 742.2L162.7 746.0M205.0 626.7L201.0 625.7L194.3 622.0L189.0 619.8L185.0 617.4L184.0 610.0L186.1 606.0L193.0 602.5L197.0 601.4L205.0 600.1L209.0 602.2L212.3 610.0L213.5 614.0L213.0 618.9L209.0 624.9L205.0 626.7M257.0 660.0L252.4 658.0L249.0 654.0L248.6 646.0L253.0 642.5" fill="none" stroke="#fff" stroke-width="4" stroke-dasharray="4 8"/>
<path d="M91.15 663.80A83.85 86.10 0 1 1 258.85 663.80A83.85 86.10 0 1 1 91.15 663.80ZM166.62 577.70L175.00 569.09L183.38 577.70M258.35 654.24L260.53 650.45L261.87 650.32L263.86 650.95L265.88 654.24L265.56 664.75L266.73 679.85L264.22 686.41L260.53 687.63L257.01 684.45M91.65 654.24L89.47 650.45L88.13 650.32L86.14 650.95L84.12 654.24L84.44 664.75L83.27 679.85L85.78 686.41L89.47 687.63L92.99 684.45" fill="none" stroke="#000" stroke-width="6" stroke-linejoin="miter" stroke-miterlimit="10"/>
</g>
<g id="head-C2">
<g clip-path="url(#cl21)"><g filter="url(#cm)"><g transform="translate(312 564)" stroke-width="4" fill="none" shape-rendering="crispEdges"><path stroke="#181818" d="M100 118h4"/><path stroke="#1c1c1c" d="M96 114h8M96 118h4M100 122h8M100 126h4"/><path stroke="#202020" d="M96 110h4M92 114h4M104 114h4M92 118h4M104 118h4M96 122h4M104 126h4M100 130h8"/><path stroke="#242424" d="M92 110h4M100 110h4M92 122h4M108 122h4M96 126h4M108 126h4M108 130h4M100 134h8"/><path stroke="#282828" d="M104 110h4M88 114h4M88 118h4M108 118h4M96 130h4M108 134h4"/><path stroke="#2c2c2c" d="M96 106h8M88 110h4M108 114h4M92 126h4M96 134h4M100 138h8"/><path stroke="#303030" d="M92 106h4M104 106h4M108 110h4M88 122h4M112 122h4M112 126h4M92 130h4M112 130h4M108 138h4"/><path stroke="#343434" d="M88 106h4M84 114h4M84 118h4M112 118h4M88 126h4M112 134h4M96 138h4"/><path stroke="#383838" d="M92 102h12M108 106h4M84 110h4M112 114h4M84 122h4M92 134h4M112 138h4M100 142h8"/><path stroke="#3c3c3c" d="M104 102h4M84 106h4M112 110h4M88 130h4M108 142h4"/><path stroke="#404040" d="M88 102h4M108 102h4M112 106h4M80 110h4M80 114h4M80 118h4M116 122h4M84 126h4M116 126h4M116 130h4M92 138h4M96 142h4"/><path stroke="#444444" d="M92 98h12M84 102h4M80 106h4M116 118h4M80 122h4M88 134h4M116 134h4M112 142h4"/><path stroke="#484848" d="M88 98h4M104 98h4M112 102h4M116 110h4M116 114h4M84 130h4M116 138h4M104 146h4"/><path stroke="#4c4c4c" d="M84 98h4M108 98h4M80 102h4M76 106h4M116 106h4M76 110h4M76 114h4M76 118h4M80 126h4M88 138h4M92 142h4M100 146h4M108 146h4"/><path stroke="#505050" d="M92 94h12M80 98h4M76 102h4M116 102h4M120 118h4M76 122h4M120 122h4M120 126h4M120 130h4M84 134h4M116 142h4M96 146h4M112 146h4"/><path stroke="#545454" d="M84 94h8M104 94h4M112 98h4M72 110h4M120 110h4M120 114h4M80 130h4M120 134h4M88 142h4"/><path stroke="#585858" d="M80 94h4M108 94h4M76 98h4M72 102h4M72 106h4M120 106h4M72 114h4M76 126h4M84 138h4M120 138h4M92 146h4"/><path stroke="#5c5c5c" d="M112 94h4M116 98h4M120 102h4M72 118h4M80 134h4M116 146h4M100 150h8"/><path stroke="#606060" d="M88 90h16M76 94h4M72 98h4M120 98h4M124 102h4M68 106h4M124 106h4M68 110h4M124 110h4M124 114h4M124 118h4M72 122h4M124 122h4M124 126h4M76 130h4M120 142h4M108 150h4"/><path stroke="#646464" d="M80 90h8M104 90h4M72 94h4M116 94h4M68 102h4M68 114h4M124 130h4M80 138h4M84 142h4M88 146h4M96 150h4M112 150h4"/><path stroke="#686868" d="M76 90h4M108 90h8M120 94h4M68 98h4M124 98h4M128 102h4M128 106h4M128 110h4M68 118h4M72 126h4M124 134h4M120 146h4M92 150h4"/><path stroke="#6c6c6c" d="M116 90h4M124 94h4M128 98h4M64 106h4M132 106h4M64 110h4M128 114h4M128 118h4M68 122h4M128 122h4M76 134h4M124 138h4M116 150h4"/><path stroke="#707070" d="M80 86h24M72 90h4M120 90h8M68 94h4M128 94h4M132 98h4M64 102h4M132 102h4M132 110h4M64 114h4M128 126h4M72 130h4M80 142h4M124 142h4M84 146h4M100 154h8"/><path stroke="#747474" d="M76 86h4M104 86h20M128 90h4M132 94h4M64 98h4M136 102h4M60 106h4M136 106h4M60 110h4M132 114h4M64 118h4M68 126h4M128 130h4M76 138h4M88 150h4M120 150h4M96 154h4M108 154h4"/><path stroke="#787878" d="M124 86h8M68 90h4M132 90h4M136 94h4M136 98h4M60 102h4M136 110h4M60 114h4M132 118h4M72 134h4M128 134h4M124 146h4M92 154h4M112 154h4"/><path stroke="#7c7c7c" d="M120 82h8M72 86h4M132 86h4M136 90h4M64 94h4M140 102h4M136 114h4M64 122h4M132 122h4M68 130h4M128 138h4M76 142h4M80 146h4M84 150h4M116 154h4"/><path stroke="#808080" d="M80 82h40M128 82h8M68 86h4M136 86h4M140 90h4M140 94h4M60 98h4M140 98h4M56 106h4M140 106h4M56 110h4M56 114h4M60 118h4M136 118h4M64 126h4M132 126h4M72 138h4M128 142h4M124 150h4M88 154h4M100 158h8"/><path stroke="#848484" d="M72 82h8M136 82h4M140 86h4M64 90h4M56 102h4M52 110h4M140 110h4M140 114h4M136 122h4M132 130h4M68 134h4M76 146h4M128 146h4M80 150h4M120 154h4M96 158h4M108 158h4"/><path stroke="#888888" d="M120 78h20M140 82h4M64 86h4M144 90h4M60 94h4M144 94h4M56 98h4M144 98h4M144 102h4M8 106h24M52 106h4M144 106h4M8 110h24M52 114h4M56 118h4M140 118h4M60 122h4M136 126h4M64 130h4M132 134h4M72 142h4M84 154h4M92 158h4M112 158h4"/><path stroke="#8c8c8c" d="M112 78h8M140 78h4M68 82h4M144 82h4M144 86h4M60 90h4M8 102h28M52 102h4M32 106h20M32 110h20M144 110h4M8 114h28M48 114h4M140 122h4M60 126h4M136 130h4M68 138h4M132 138h4M132 142h4M128 150h4M88 158h4"/><path stroke="#909090" d="M132 74h8M76 78h36M144 78h4M64 82h4M60 86h4M56 94h4M8 98h28M52 98h4M36 102h16M36 114h12M144 114h4M12 118h20M52 118h4M144 118h4M12 122h12M56 122h4M140 126h4M64 134h4M136 134h4M68 142h4M72 146h4M76 150h4M80 154h4M124 154h4M116 158h4M96 162h12"/><path stroke="#949494" d="M124 74h8M140 74h4M68 78h8M148 86h4M56 90h4M148 90h4M8 94h28M52 94h4M148 94h4M36 98h4M48 98h4M148 98h4M148 102h4M148 106h4M148 110h4M32 118h4M48 118h4M24 122h4M144 122h4M12 126h12M60 130h4M140 130h4M64 138h4M136 138h4M68 146h4M132 146h4M72 150h4M84 158h4M92 162h4M108 162h4"/><path stroke="#989898" d="M120 74h4M144 74h4M64 78h4M60 82h4M148 82h4M56 86h4M8 90h28M52 90h4M36 94h4M40 98h8M148 114h4M36 118h12M28 122h4M52 122h4M24 126h4M56 126h4M144 126h4M12 130h12M140 134h4M64 142h4M136 142h4M132 150h4M76 154h4M128 154h4M80 158h4M120 158h4M88 162h4M112 162h4"/><path stroke="#9c9c9c" d="M76 34h8M68 38h12M112 74h8M60 78h4M148 78h4M12 82h20M52 82h8M8 86h32M52 86h4M36 90h8M48 90h4M40 94h12M148 118h4M32 122h4M28 126h4M24 130h8M144 130h4M16 134h12M60 134h4M144 134h4M16 138h16M60 138h4M140 138h4M20 142h16M140 142h4M20 146h20M64 146h4M136 146h4M24 150h16M68 150h4M24 154h16M72 154h4M28 158h4M76 158h4M84 162h4M92 166h16"/><path stroke="#a0a0a0" d="M68 34h8M84 34h8M64 38h4M80 38h8M64 42h16M20 58h4M20 62h4M12 70h12M132 70h12M12 74h16M64 74h48M148 74h4M12 78h48M32 82h20M40 86h12M152 86h4M44 90h4M152 90h4M152 94h4M152 98h4M152 102h4M152 106h4M152 110h4M152 114h4M36 122h4M48 122h4M148 122h4M32 126h4M52 126h4M148 126h4M56 130h4M28 134h4M32 138h4M144 138h4M36 142h4M60 142h4M40 146h4M60 146h4M140 146h4M40 150h4M64 150h4M40 154h4M64 154h8M32 158h12M72 158h4M124 158h4M32 162h8M80 162h4M116 162h4M48 166h4M84 166h8M108 166h4M48 170h8"/><path stroke="#a4a4a4" d="M68 30h24M64 34h4M92 34h4M60 38h4M88 38h4M60 42h4M80 42h4M64 46h12M20 54h8M24 58h4M16 62h4M24 62h4M16 66h16M24 70h12M128 70h4M144 70h4M28 74h36M152 82h4M152 118h4M40 122h8M32 130h4M148 130h4M32 134h4M56 134h4M148 134h4M36 138h4M40 142h4M144 142h4M44 146h4M44 150h4M60 150h4M136 150h4M44 154h4M60 154h4M132 154h4M44 158h8M60 158h12M40 162h20M72 162h8M36 166h12M52 166h8M80 166h4M40 170h8M56 170h4M88 170h12M44 174h16M52 178h8"/><path stroke="#a8a8a8" d="M72 26h16M60 30h8M92 30h8M56 34h8M96 34h4M56 38h4M92 38h4M56 42h4M84 42h4M56 46h8M76 46h4M24 50h4M60 50h12M28 54h4M28 58h4M28 62h8M32 66h8M36 70h32M120 70h8M148 70h4M152 78h4M152 122h4M36 126h4M48 126h4M36 130h4M52 130h4M36 134h4M40 138h4M56 138h4M148 138h4M44 142h4M56 142h4M48 146h4M56 146h4M144 146h4M48 150h12M48 154h12M52 158h8M128 158h4M60 162h12M120 162h4M60 166h8M72 166h8M112 166h4M60 170h8M80 170h8M100 170h8M60 174h8M60 178h8M56 182h12M64 186h4"/><path stroke="#acacac" d="M76 10h16M64 14h28M56 18h32M48 22h40M44 26h28M88 26h8M40 30h20M100 30h4M36 34h20M100 34h4M32 38h24M96 38h8M28 42h28M88 42h4M24 46h32M28 50h32M72 50h4M32 54h36M32 58h32M36 62h24M40 66h24M136 66h12M68 70h8M116 70h4M152 74h4M156 86h4M156 90h4M156 94h4M156 106h4M156 110h4M156 114h4M156 118h4M40 126h8M152 126h4M48 130h4M152 130h4M40 134h4M52 134h4M152 134h4M44 138h4M52 138h4M152 138h4M48 142h8M148 142h4M52 146h4M140 150h4M136 154h4M68 166h4M116 166h4M68 170h12M68 174h32M68 178h28M68 182h28M68 186h32M76 190h24"/><path stroke="#b0b0b0" d="M92 10h12M108 10h4M92 14h12M108 14h4M88 18h12M88 22h12M96 26h16M104 30h8M104 34h4M104 38h4M92 42h4M80 46h4M68 54h4M64 58h4M60 62h8M64 66h4M128 66h8M148 66h8M76 70h40M152 70h4M156 82h4M156 98h4M156 102h4M156 122h4M40 130h8M44 134h8M48 138h4M148 146h4M144 150h4M132 158h4M124 162h4M108 170h4M100 174h4M96 178h8M96 182h8M100 186h4M100 190h4"/><path stroke="#b4b4b4" d="M104 10h4M112 10h8M104 14h4M112 14h8M100 18h20M100 22h20M112 26h4M112 30h4M108 34h4M96 42h8M84 46h4M76 50h4M72 54h4M68 58h4M144 62h12M68 66h4M124 66h4M156 70h4M156 74h4M156 78h4M156 126h4M156 130h4M156 134h4M156 138h4M152 142h4M140 154h4M112 170h4M104 174h4M104 178h4M104 182h4M104 186h4M104 190h4"/><path stroke="#b8b8b8" d="M120 10h4M120 14h4M120 18h4M120 22h4M116 26h4M116 30h4M112 34h4M108 38h4M160 38h8M104 42h4M152 42h20M88 46h4M152 46h16M152 50h12M152 54h8M148 58h12M68 62h4M136 62h8M156 62h4M72 66h4M120 66h4M156 66h4M160 106h4M160 110h4M160 114h4M160 118h4M160 122h4M160 126h4M160 130h4M160 134h4M156 142h4M152 146h4M148 150h4M136 158h4M128 162h4M120 166h4M108 174h4"/><path stroke="#bcbcbc" d="M124 14h12M124 18h20M124 22h24M120 26h8M132 26h24M140 30h20M144 34h20M112 38h4M144 38h16M108 42h4M144 42h8M92 46h12M148 46h4M168 46h4M80 50h4M148 50h4M164 50h12M76 54h4M148 54h4M160 54h16M72 58h4M140 58h8M160 58h12M72 62h4M132 62h4M160 62h4M76 66h4M112 66h8M160 66h4M160 70h4M160 74h4M160 78h4M160 82h4M160 86h4M160 90h4M160 94h4M160 98h4M160 102h4M164 118h4M164 122h4M164 126h24M164 130h20M164 134h20M160 138h4M176 138h8M144 154h4M132 162h4M124 166h4M116 170h4M108 178h4M108 182h4M108 186h4M108 190h4"/><path stroke="#c0c0c0" d="M128 26h4M120 30h4M136 30h4M116 34h4M140 34h4M140 38h4M112 42h4M104 46h8M144 46h4M84 50h4M144 50h4M144 54h4M176 54h4M136 58h4M172 58h8M124 62h8M164 62h8M80 66h32M164 66h4M164 110h4M164 114h4M168 118h8M168 122h20M164 138h12M160 142h20M156 146h8M176 146h4M152 150h4M148 154h4M140 158h4M112 174h4M112 186h4M112 190h4"/><path stroke="#c4c4c4" d="M124 30h12M120 34h4M136 34h4M116 38h4M140 42h4M112 46h4M140 46h4M88 50h24M140 50h4M80 54h4M140 54h4M76 58h4M132 58h4M76 62h4M116 62h8M172 62h12M168 66h8M164 70h4M164 74h4M164 78h4M164 82h4M164 86h4M164 90h4M164 94h4M164 98h4M164 102h4M164 106h4M168 114h8M176 118h12M164 146h12M156 150h20M152 154h20M144 158h4M164 158h8M136 162h8M164 162h4M128 166h8M120 170h4M116 174h4M112 178h4M112 182h4"/><path stroke="#c8c8c8" d="M124 34h4M132 34h4M136 38h4M116 42h4M112 50h4M84 54h4M100 54h12M136 54h4M80 58h4M116 58h16M80 62h4M100 62h16M176 66h8M168 70h16M168 74h8M184 74h4M168 78h4M168 82h4M168 106h4M168 110h8M176 114h12M148 158h16M144 162h20M136 166h8M156 166h8M124 170h12M156 170h4M120 174h4M116 178h4M136 178h8M116 182h4M136 182h4M116 186h4M116 190h4"/><path stroke="#cccccc" d="M128 34h4M120 38h4M136 42h4M116 46h4M136 46h4M116 50h4M136 50h4M88 54h12M112 54h12M128 54h8M84 58h4M96 58h20M84 62h16M176 74h8M172 78h16M172 82h16M168 86h20M168 90h24M168 94h24M168 98h8M184 98h8M168 102h8M184 102h8M172 106h20M176 110h16M144 166h12M136 170h20M124 174h32M120 178h16M144 178h4M120 182h16M140 182h4M120 186h16M120 190h4"/><path stroke="#d0d0d0" d="M124 38h12M120 42h4M132 42h4M120 50h4M132 50h4M124 54h4M88 58h8M176 98h8M176 102h8"/><path stroke="#d4d4d4" d="M124 42h8M120 46h4M132 46h4M124 50h8"/><path stroke="#d8d8d8" d="M124 46h8"/></g></g></g>
<path clip-path="url(#cl21)" d="M424.5 702.0L427.8 698.0L427.5 690.0L426.0 685.4L424.3 678.0L422.0 673.1L414.0 670.8L410.0 669.4L403.1 670.0L399.4 674.0L395.3 678.0L393.3 682.0L396.1 686.0L400.7 690.0L403.5 694.0L406.0 699.0L410.0 703.3L418.0 704.3L424.5 702.0M420.8 710.0L426.0 708.9L432.1 706.0L434.1 702.0L434.6 694.0L434.0 688.8L432.5 682.0L434.0 675.5L438.0 670.8L438.0 667.7L434.0 665.3L426.0 662.3L422.0 660.8L414.2 658.0L410.0 655.8L405.9 654.0L398.0 653.3L394.0 656.1L392.7 662.0L392.1 670.0L389.3 674.0L386.0 678.7L385.6 686.0L390.0 689.6L394.0 692.1L398.0 697.5L399.5 702.0L402.0 706.3L407.9 710.0L414.0 711.0L420.8 710.0M433.2 714.0L436.6 710.0L438.0 705.1L438.6 698.0L439.2 690.0L439.4 682.0L442.0 678.0L446.8 674.0L449.0 666.0L446.0 660.6L438.0 658.3L434.0 655.6L430.0 651.1L426.0 649.3L418.0 649.2L410.0 648.5L402.0 647.5L394.0 647.9L390.0 650.0L386.0 655.4L383.8 662.0L382.2 670.0L380.5 674.0L378.0 680.3L378.0 685.3L380.7 690.0L385.7 694.0L390.0 697.8L391.7 702.0L394.0 706.9L398.0 711.2L402.0 714.0L410.0 716.5L418.0 716.2L426.0 715.7L433.2 714.0M334.0 680.7L342.0 680.3L346.0 675.4L348.5 670.0L353.2 670.0L357.5 674.0L359.9 678.0L362.8 682.0L368.7 686.0L373.1 690.0L376.0 694.0L378.2 698.0L381.4 706.0L384.7 710.0L390.0 713.6L394.0 717.0L398.0 721.7L402.0 724.0L410.0 723.5L418.0 722.6L426.0 723.7L434.0 722.6L438.0 719.6L441.2 714.0L442.3 710.0L442.3 702.0L443.7 694.0L446.0 686.3L449.0 682.0L452.0 678.0L454.0 672.7L455.1 666.0L457.4 658.0L455.9 650.0L454.0 645.4L450.0 641.1L442.0 640.5L434.0 640.9L426.0 641.5L418.0 641.8L410.9 642.0L409.3 642.0L402.0 641.8L394.0 641.6L390.0 642.3L383.6 646.0L380.9 650.0L378.0 655.3L374.0 659.8L366.0 659.1L362.0 657.1L354.0 657.9L350.0 660.2L342.0 659.1L334.0 658.7L329.5 662.0M390.0 583.9L394.0 587.8L394.0 591.7L390.0 595.9L386.0 599.5L382.0 603.1L378.0 609.8L378.0 610.3L386.0 611.8L390.0 609.3L396.3 606.0L402.0 602.9L406.0 598.9L407.3 594.0L405.7 590.0L406.0 586.0M370.0 735.9L370.0 732.5L367.7 726.0L366.0 721.7L362.9 714.0L360.2 710.0L356.0 706.0L353.2 702.0L350.0 696.6L348.3 690.0L354.0 687.3L362.0 689.7L366.0 691.7L370.0 697.4L370.2 702.0L371.4 710.0L374.9 714.0L380.1 718.0L383.5 722.0L382.0 729.3L379.0 734.0L382.0 738.5L389.8 738.0L394.0 736.5L402.0 735.1L410.0 737.7L418.0 734.4L422.0 732.0L427.9 730.0L434.0 728.5L439.2 726.0L442.9 722.0L446.0 717.2L450.0 710.6L450.2 706.0L449.4 702.0L454.0 699.1L462.0 700.8L466.7 698.0L469.8 690.0L470.7 686.0L471.3 678.0L469.6 674.0L464.5 670.0L465.5 662.0L467.5 658.0L466.6 650.0L465.3 646.0L466.0 640.8L466.0 635.5L462.0 633.3L454.0 632.9L446.0 632.6L438.0 634.0L434.0 635.0L426.0 636.3L418.0 636.4L410.0 635.8L402.0 635.3L394.0 634.7L388.5 634.0L382.0 631.1L378.0 627.2L374.0 625.8L370.0 627.5L366.0 630.4L362.0 634.0L354.0 636.9L350.5 630.0L349.0 626.0L345.8 622.0M430.0 630.2L422.0 631.2L414.0 630.6L410.0 629.4L402.0 627.9L394.0 627.1L390.1 622.0L394.0 615.9L398.0 613.3L404.7 610.0L410.0 607.5L418.0 608.1L426.0 608.8L431.2 606.0L434.0 602.0L442.0 598.1L450.0 600.2L454.0 604.9L455.0 610.0L456.0 618.0L454.0 622.7L449.8 622.0L443.3 622.0L439.1 626.0L434.0 628.6L430.0 630.2M486.0 682.2L481.2 682.0L482.0 674.2L486.0 673.5L489.3 678.0L486.0 682.2M429.0 746.0L427.8 738.0L434.0 734.3L438.0 733.3L443.3 730.0L447.4 726.0L451.9 722.0L457.9 718.0L462.0 714.5L466.0 711.4L470.0 708.8L478.0 706.9" fill="none" stroke="#fff" stroke-width="4" stroke-dasharray="4 8"/>
<path d="M327.85 663.80A83.85 86.10 0 1 1 495.55 663.80A83.85 86.10 0 1 1 327.85 663.80ZM403.31 577.70L411.70 569.09L420.08 577.70M495.05 654.24L497.23 650.45L498.57 650.32L500.56 650.95L502.58 654.24L502.26 664.75L503.43 679.85L500.92 686.41L497.23 687.63L493.71 684.45M328.35 654.24L326.17 650.45L324.83 650.32L322.84 650.95L320.82 654.24L321.14 664.75L319.97 679.85L322.48 686.41L326.17 687.63L329.69 684.45" fill="none" stroke="#000" stroke-width="6" stroke-linejoin="miter" stroke-miterlimit="10"/>
</g>
<g id="head-C3">
<g clip-path="url(#cl22)"><g filter="url(#cm)"><g transform="translate(548 564)" stroke-width="4" fill="none" shape-rendering="crispEdges"><path stroke="#282828" d="M96 114h8M100 118h4"/><path stroke="#2c2c2c" d="M96 110h8M92 114h4M104 114h4M96 118h4M104 118h4"/><path stroke="#303030" d="M92 110h4M104 110h4M100 122h8"/><path stroke="#343434" d="M96 106h8M108 114h4M92 118h4M108 118h4M96 122h4M100 126h8M104 130h4M104 134h4"/><path stroke="#383838" d="M92 106h4M104 106h4M88 110h4M108 110h4M88 114h4M108 122h4M108 126h4M100 130h4M108 130h4M100 134h4M108 134h4M104 138h4"/><path stroke="#3c3c3c" d="M88 118h4M100 138h4M108 138h4"/><path stroke="#404040" d="M88 106h4M108 106h4M112 114h4M112 118h4M92 122h4M112 122h4M96 126h4M112 126h4M96 130h4M112 130h4M112 134h4"/><path stroke="#444444" d="M92 102h16M84 110h4M112 110h4M84 114h4M96 134h4M112 138h4M104 142h8"/><path stroke="#484848" d="M88 102h4M84 106h4M112 106h4M84 118h4M88 122h4M92 126h4M96 138h4M100 142h4"/><path stroke="#4c4c4c" d="M92 98h8M84 102h4M108 102h4M116 122h4M116 126h4M92 130h4M116 130h4M116 134h4M112 142h4"/><path stroke="#505050" d="M84 98h8M100 98h4M112 102h4M80 110h4M116 110h4M80 114h4M116 114h4M116 118h4M92 134h4M116 138h4M96 142h4M104 146h8"/><path stroke="#545454" d="M84 94h12M104 98h4M80 102h4M80 106h4M116 106h4M80 118h4M84 122h4M88 126h4M92 138h4M100 146h4"/><path stroke="#585858" d="M80 94h4M96 94h4M80 98h4M108 98h4M116 102h4M120 126h4M88 130h4M120 130h4M120 134h4M116 142h4M112 146h4"/><path stroke="#5c5c5c" d="M80 90h12M100 94h4M112 98h4M76 106h4M120 106h4M76 110h4M120 110h4M76 114h4M120 114h4M120 118h4M80 122h4M120 122h4M84 126h4M88 134h4M92 142h4M96 146h4"/><path stroke="#606060" d="M92 90h4M76 94h4M104 94h4M76 98h4M116 98h4M76 102h4M120 102h4M76 118h4M120 138h4M116 146h4M104 150h8"/><path stroke="#646464" d="M80 86h12M76 90h4M96 90h4M108 94h8M120 98h4M124 106h4M124 110h4M124 114h4M84 130h4M88 138h4M120 142h4M92 146h4M100 150h4M112 150h4"/><path stroke="#686868" d="M76 86h4M92 86h4M100 90h8M72 94h4M116 94h4M72 98h4M72 102h4M124 102h4M72 106h4M72 110h4M72 114h4M124 118h4M76 122h4M124 122h4M80 126h4M124 126h4M124 130h4M124 134h4M88 142h4M96 150h4"/><path stroke="#6c6c6c" d="M80 82h8M72 90h4M108 90h8M120 94h4M124 98h4M128 110h4M72 118h4M84 134h4M124 138h4M116 150h4"/><path stroke="#707070" d="M76 82h4M88 82h4M72 86h4M96 86h8M68 90h4M116 90h8M68 94h4M124 94h4M68 98h4M128 98h4M68 102h4M128 102h4M68 106h4M128 106h4M68 110h4M128 114h4M128 118h4M128 122h4M80 130h4M84 138h4M88 146h4M120 146h4M92 150h4"/><path stroke="#747474" d="M72 82h4M92 82h4M68 86h4M104 86h20M124 90h4M128 94h4M64 98h4M132 98h4M64 102h4M132 102h4M132 106h4M132 110h4M68 114h4M132 114h4M72 122h4M76 126h4M128 126h4M128 130h4M80 134h4M128 134h4M124 142h4M100 154h16"/><path stroke="#787878" d="M124 86h4M64 90h4M128 90h4M64 94h4M132 94h4M64 106h4M64 110h4M68 118h4M132 118h4M76 130h4M128 138h4M84 142h4M120 150h4M96 154h4"/><path stroke="#7c7c7c" d="M76 78h12M68 82h4M96 82h4M112 82h20M64 86h4M128 86h8M132 90h8M60 94h4M136 94h4M60 98h4M136 98h4M60 102h4M136 102h4M60 106h4M136 106h4M136 110h4M64 114h4M136 114h4M132 122h4M72 126h4M132 126h4M80 138h4M124 146h4M88 150h4M116 154h4"/><path stroke="#808080" d="M72 78h4M88 78h4M120 78h12M64 82h4M100 82h12M132 82h4M136 86h4M60 90h4M140 94h4M140 98h4M140 102h4M60 110h4M136 118h4M68 122h4M132 130h4M76 134h4M80 142h4M128 142h4M84 146h4M92 154h4"/><path stroke="#848484" d="M68 78h4M92 78h4M116 78h4M132 78h8M136 82h8M60 86h4M140 86h4M140 90h4M56 94h4M56 98h4M56 102h4M56 106h4M140 106h4M140 110h4M60 114h4M64 118h4M136 122h4M136 126h4M72 130h4M132 134h4M76 138h4M132 138h4M124 150h4M120 154h4"/><path stroke="#888888" d="M128 74h8M64 78h4M96 78h4M112 78h4M140 78h4M60 82h4M144 86h4M56 90h4M144 90h4M144 94h4M52 98h4M144 98h4M52 102h4M144 102h4M56 110h4M140 114h4M140 118h4M68 126h4M136 130h4M72 134h4M76 142h4M80 146h4M128 146h4M84 150h4M88 154h4M96 158h20"/><path stroke="#8c8c8c" d="M72 74h16M120 74h8M136 74h4M100 78h12M144 82h4M56 86h4M52 94h4M52 106h4M144 106h4M52 110h4M56 114h4M60 118h4M64 122h4M140 122h4M140 126h4M68 130h4M136 134h4M72 138h4M132 142h4M84 154h4M92 158h4"/><path stroke="#909090" d="M68 74h4M88 74h4M116 74h4M140 74h4M60 78h4M144 78h4M56 82h4M52 86h4M52 90h4M48 98h4M48 102h4M48 106h4M144 110h4M64 126h4M140 130h4M68 134h4M136 138h4M72 142h4M76 146h4M132 146h4M80 150h4M128 150h4M124 154h4M88 158h4M116 158h4"/><path stroke="#949494" d="M128 70h12M64 74h4M92 74h4M144 74h4M56 78h4M148 78h4M52 82h4M148 82h4M148 86h4M48 90h4M148 90h4M48 94h4M148 94h4M148 98h4M148 102h4M148 106h4M48 110h4M52 114h4M144 114h4M56 118h4M144 118h4M60 122h4M144 122h4M144 126h4M64 130h4M140 134h4M68 138h4M136 142h4M72 146h4M76 150h4M80 154h4M84 158h4M88 162h12"/><path stroke="#989898" d="M124 70h4M140 70h4M60 74h4M96 74h4M112 74h4M52 78h4M48 86h4M44 94h4M44 98h4M44 102h4M44 106h4M148 110h4M48 114h4M144 130h4M64 134h4M140 138h4M68 142h4M140 142h4M68 146h4M136 146h4M72 150h4M76 154h4M80 158h4M120 158h4M84 162h4M100 162h8"/><path stroke="#9c9c9c" d="M68 70h16M120 70h4M52 74h8M100 74h12M148 74h4M48 78h4M48 82h4M44 90h4M44 110h4M148 114h4M52 118h4M56 122h4M60 126h4M144 134h4M64 138h4M68 150h4M132 150h4M72 154h4M128 154h4M76 158h4M76 162h8M108 162h8M80 166h20"/><path stroke="#a0a0a0" d="M128 66h12M64 70h4M84 70h4M144 70h4M48 74h4M152 74h4M44 78h4M152 78h4M44 82h4M152 82h4M44 86h4M152 86h4M152 90h4M40 94h4M152 94h4M40 98h4M152 98h4M40 102h4M152 102h4M40 106h4M152 106h4M44 114h4M148 118h4M148 122h4M148 126h4M60 130h4M144 138h4M64 142h4M144 142h4M64 146h4M140 146h4M64 150h4M68 154h4M68 158h8M124 158h4M72 162h4M76 166h4M100 166h4M80 170h16M84 174h12M88 178h4M88 182h4M88 186h4M88 190h4"/><path stroke="#a4a4a4" d="M140 66h4M56 70h8M88 70h4M116 70h4M148 70h4M44 74h4M40 78h4M40 82h4M40 86h4M40 90h4M40 110h4M152 110h4M48 118h4M148 130h4M60 134h4M148 134h4M136 150h4M64 154h4M64 158h4M68 162h4M116 162h4M72 166h4M104 166h4M76 170h4M96 170h4M80 174h4M96 174h4M84 178h4M92 178h8M84 182h4M92 182h8M80 186h8M92 186h8M80 190h8M92 190h8"/><path stroke="#a8a8a8" d="M132 62h4M124 66h4M144 66h4M44 70h12M92 70h4M112 70h4M152 70h4M40 74h4M36 78h4M156 78h4M36 82h4M156 82h4M36 86h4M156 86h4M36 90h4M36 94h4M156 94h4M36 98h4M156 98h4M36 102h4M156 102h4M36 106h4M36 110h4M40 114h4M152 114h4M44 118h4M152 118h4M52 122h4M152 122h4M56 126h4M152 126h4M60 138h4M148 138h4M60 142h4M148 142h4M144 146h4M60 150h4M60 154h4M132 154h4M60 158h4M128 158h4M64 162h4M120 162h4M68 166h4M108 166h4M72 170h4M100 170h4M76 174h4M100 174h4M80 178h4M100 178h4M80 182h4M100 182h4M76 186h4M100 186h4M76 190h4M100 190h4"/><path stroke="#acacac" d="M88 30h8M64 34h56M64 38h8M100 38h16M20 54h8M20 58h8M16 62h12M128 62h4M136 62h4M16 66h12M64 66h12M120 66h4M148 66h4M16 70h16M40 70h4M96 70h8M108 70h4M12 74h28M156 74h4M12 78h24M12 82h24M12 86h24M8 90h28M156 90h4M8 94h28M8 98h28M8 102h28M8 106h28M156 106h4M8 110h28M156 110h4M12 114h28M16 118h8M40 118h4M48 122h4M56 130h4M152 130h4M60 146h4M148 146h4M140 150h4M44 154h16M40 158h20M36 162h28M36 166h32M112 166h4M40 170h32M104 170h4M44 174h32M104 174h4M52 178h28M104 178h4M56 182h24M104 182h4M64 186h12M104 186h4M104 190h4"/><path stroke="#b0b0b0" d="M116 10h8M120 14h4M60 26h64M56 30h32M96 30h28M56 34h8M120 34h4M56 38h8M72 38h28M116 38h8M56 42h16M104 42h20M128 46h4M24 50h8M128 50h4M28 54h8M128 54h4M28 58h8M128 58h12M28 62h8M124 62h4M140 62h8M28 66h36M76 66h8M116 66h4M152 66h4M32 70h8M104 70h4M156 70h4M156 114h4M12 118h4M24 118h16M156 118h4M12 122h16M156 122h4M52 126h4M156 126h4M56 134h4M152 134h4M152 138h4M152 142h4M152 146h4M40 150h4M56 150h4M144 150h4M36 154h8M136 154h4M32 158h8M132 158h4M32 162h4M124 162h4M108 170h4"/><path stroke="#b4b4b4" d="M76 10h40M64 14h56M124 14h4M56 18h72M52 22h76M44 26h16M124 26h4M40 30h16M124 30h4M36 34h20M124 34h4M32 38h24M124 38h8M28 42h28M72 42h4M100 42h4M124 42h12M28 46h40M104 46h24M132 46h8M32 50h20M116 50h12M132 50h8M36 54h16M120 54h8M132 54h8M36 58h16M120 58h8M140 58h4M36 62h20M120 62h4M148 62h8M84 66h4M156 66h4M160 70h4M160 74h4M160 78h4M160 82h4M160 86h4M160 90h4M160 94h4M160 98h4M160 102h4M160 106h4M160 110h4M160 114h4M28 122h8M40 122h8M12 126h16M16 130h12M156 130h4M16 134h16M156 134h4M16 138h16M56 138h4M156 138h4M20 142h16M56 142h4M156 142h4M20 146h20M56 146h4M156 146h4M24 150h16M44 150h12M148 150h8M28 154h8M140 154h4M28 158h4M116 166h4M112 170h4M108 174h4M108 178h4M108 182h4M108 186h4M108 190h4"/><path stroke="#b8b8b8" d="M128 14h8M128 18h8M128 22h8M128 26h8M128 30h4M128 34h8M132 38h12M76 42h8M96 42h4M136 42h8M68 46h4M140 46h4M52 50h8M108 50h8M140 50h4M168 50h8M52 54h4M116 54h4M140 54h4M52 58h4M116 58h4M144 58h20M56 62h16M116 62h4M156 62h8M88 66h4M112 66h4M160 66h4M160 118h4M36 122h4M160 122h4M28 126h8M48 126h4M160 126h4M28 130h4M52 130h4M160 130h4M32 134h4M160 134h4M32 138h4M160 138h4M176 138h8M36 142h4M160 142h4M40 146h8M52 146h4M160 146h4M156 150h8M144 154h16M136 158h4M128 162h4M120 166h4M112 174h4M112 178h4M112 182h4M112 186h4M112 190h4"/><path stroke="#bcbcbc" d="M136 18h8M136 22h16M136 26h20M132 30h28M136 34h28M144 38h24M84 42h12M144 42h28M72 46h4M100 46h4M144 46h32M60 50h8M104 50h4M144 50h24M56 54h4M112 54h4M144 54h36M56 58h4M164 58h12M72 62h4M164 62h8M92 66h8M104 66h8M164 66h4M164 70h4M164 74h4M164 78h4M164 82h4M164 86h4M164 90h4M164 94h4M164 98h4M164 102h4M164 106h4M164 110h4M164 114h4M164 118h4M164 122h4M36 126h12M164 126h4M32 130h4M164 130h24M52 134h4M164 134h20M36 138h4M52 138h4M164 138h12M40 142h4M52 142h4M164 142h16M48 146h4M164 146h16M164 150h12M160 154h16M140 158h4M152 158h20M132 162h4M160 162h8M124 166h4M160 166h4M116 170h4"/><path stroke="#c0c0c0" d="M76 46h4M96 46h4M68 50h4M60 54h8M108 54h4M60 58h12M112 58h4M176 58h4M76 62h4M112 62h4M172 62h8M100 66h4M168 66h8M168 70h8M184 70h4M168 74h4M168 78h4M168 82h4M168 118h4M168 122h4M168 126h20M36 130h4M48 130h4M36 134h4M40 138h4M44 142h8M144 158h8M136 162h24M128 166h4M156 166h4M120 170h4M156 170h4M116 174h4M116 178h4M116 182h4M116 186h4M116 190h4"/><path stroke="#c4c4c4" d="M80 46h4M72 50h4M100 50h4M68 54h4M104 54h4M72 58h4M108 58h4M80 62h4M108 62h4M180 62h4M176 66h8M176 70h8M172 74h16M172 78h16M172 82h4M168 86h4M168 90h4M168 94h4M168 98h4M168 102h4M168 106h4M168 110h4M168 114h4M172 118h4M172 122h16M40 130h8M40 134h4M48 134h4M44 138h8M132 166h24M124 170h4M144 170h12M120 174h4M148 174h8M120 178h4M120 182h4M120 186h4M120 190h4"/><path stroke="#c8c8c8" d="M84 46h12M76 50h4M72 54h4M76 58h4M104 58h4M84 62h8M100 62h8M176 82h12M172 86h20M172 90h20M172 94h20M172 98h20M172 102h20M172 106h20M172 110h20M172 114h16M176 118h12M44 134h4M128 170h16M124 174h24M124 178h24M124 182h20M124 186h12"/><path stroke="#cccccc" d="M80 50h4M96 50h4M76 54h4M100 54h4M92 62h8"/><path stroke="#d0d0d0" d="M84 50h4M92 50h4M80 54h4M80 58h4M100 58h4"/><path stroke="#d4d4d4" d="M88 50h4M96 54h4M84 58h16"/><path stroke="#d8d8d8" d="M84 54h12"/></g></g></g>
<path clip-path="url(#cl22)" d="M649.0 682.0L653.1 678.0L654.1 674.0L652.4 670.0L647.4 666.0L642.0 664.6L638.0 668.2L635.7 674.0L638.0 681.1L642.0 682.8L649.0 682.0M655.8 706.0L658.5 702.0L660.3 694.0L662.0 688.7L666.0 685.8L670.5 682.0L673.0 674.0L670.0 666.6L666.0 663.0L662.0 661.4L654.0 659.9L649.5 658.0L642.0 655.1L634.0 656.5L630.9 662.0L630.0 667.5L628.6 674.0L629.6 682.0L633.4 686.0L638.0 688.0L642.3 690.0L644.1 698.0L646.0 705.0L650.0 707.6L655.8 706.0M664.7 710.0L668.9 706.0L671.6 702.0L674.0 696.9L676.0 690.0L678.0 685.2L680.9 678.0L682.0 671.8L682.5 666.0L681.8 662.0L676.7 658.0L671.2 654.0L666.0 651.5L658.0 651.6L651.8 650.0L646.0 647.7L638.0 646.4L630.0 646.8L622.0 647.5L615.9 650.0L613.6 654.0L614.2 658.0L618.0 663.7L620.9 670.0L621.6 678.0L622.5 682.0L626.0 688.4L630.0 692.8L634.0 695.4L638.0 701.7L639.4 706.0L642.4 710.0L650.0 713.7L658.0 713.0L664.7 710.0M662.9 718.0L670.0 714.9L674.0 712.2L678.0 709.5L682.0 705.7L683.7 698.0L684.4 690.0L686.0 685.1L689.0 678.0L690.4 674.0L693.7 666.0L694.9 662.0L695.2 654.0L695.8 646.0L694.0 641.5L690.0 638.0L682.6 638.0L678.0 640.3L671.8 642.0L666.0 643.2L658.0 644.0L651.7 642.0L646.0 640.6L638.0 640.5L630.0 640.5L622.0 640.8L614.0 641.8L610.0 642.3L602.0 645.0L600.0 650.0L598.0 654.6L595.8 662.0L598.0 666.8L606.0 668.3L608.4 674.0L610.0 680.4L614.0 684.5L618.0 689.1L621.0 694.0L623.0 698.0L626.2 702.0L630.1 706.0L634.0 710.7L638.0 714.4L644.0 718.0L650.0 719.2L658.0 718.7L662.9 718.0M651.5 746.0L647.0 742.0L642.8 738.0L646.0 731.0L650.0 727.5L654.0 725.6L662.0 724.4L669.6 722.0L674.0 719.8L678.0 717.3L684.8 714.0L690.0 711.9L694.1 710.0L696.5 702.0L698.0 698.0L701.6 690.0L703.1 686.0L705.6 678.0L706.0 674.0L706.2 666.0L705.8 662.0L705.8 654.0L707.4 650.0L708.4 642.0L706.0 637.9L702.0 633.7L696.4 630.0L690.0 629.1L682.0 629.3L678.0 630.4L671.6 634.0L666.0 636.4L658.0 636.9L650.0 635.3L642.0 635.6L634.0 635.4L626.0 634.8L618.0 635.9L610.0 636.4L602.0 634.8L598.0 633.5L593.4 634.0L587.8 638.0L585.2 642.0L585.3 650.0L586.9 654.0L587.7 662.0L586.8 670.0L590.0 675.8L594.0 678.0L600.1 682.0L605.6 686.0L610.0 689.4L613.3 694.0L614.2 698.0L613.6 702.0L610.0 709.0L608.1 714.0L610.0 718.7L614.0 722.2L618.0 726.3L622.0 732.7L624.5 738.0L626.9 742.0L630.4 746.0M566.0 672.1L573.4 670.0L574.2 666.0L573.9 662.0L570.0 655.0M718.0 702.3L714.0 701.4L709.5 698.0L710.0 693.4L712.2 686.0L713.4 678.0L713.9 670.0L714.7 666.0L715.6 658.0L717.1 650.0L718.2 646.0L721.9 638.0L714.0 634.7L710.0 630.1L707.5 626.0L705.8 622.0L710.0 618.5L718.0 618.7M646.0 630.4L638.0 630.7L634.0 629.4L626.0 626.7L618.0 629.6L614.0 630.6L606.8 630.0L602.0 627.1L598.0 622.4L598.0 621.6L602.0 616.2L606.0 613.0L614.0 612.7L622.0 613.9L627.2 610.0L632.7 606.0L638.0 604.4L645.5 606.0L650.0 608.1L656.7 610.0L662.0 613.1L663.0 618.0L662.0 624.3L658.0 628.3L650.0 629.7L646.0 630.4M602.0 706.6L596.0 706.0L592.6 702.0L590.9 694.0L598.0 691.0L604.6 694.0L606.7 698.0L606.0 702.0L602.0 706.6M669.1 746.0L669.5 738.0L670.0 733.9L678.0 730.1L681.0 726.0L683.9 722.0L690.0 718.6L694.0 717.6L701.3 718.0L706.0 718.8L711.2 718.0" fill="none" stroke="#fff" stroke-width="4" stroke-dasharray="4 8"/>
<path d="M564.35 663.80A83.85 86.10 0 1 1 732.05 663.80A83.85 86.10 0 1 1 564.35 663.80ZM639.82 577.70L648.20 569.09L656.59 577.70M731.55 654.24L733.73 650.45L735.07 650.32L737.06 650.95L739.08 654.24L738.76 664.75L739.93 679.85L737.42 686.41L733.73 687.63L730.21 684.45M564.85 654.24L562.67 650.45L561.33 650.32L559.34 650.95L557.32 654.24L557.64 664.75L556.47 679.85L558.98 686.41L562.67 687.63L566.19 684.45" fill="none" stroke="#000" stroke-width="6" stroke-linejoin="miter" stroke-miterlimit="10"/>
</g>
<g id="head-C4">
<g clip-path="url(#cl23)"><g filter="url(#cm)"><g transform="translate(785 564)" stroke-width="4" fill="none" shape-rendering="crispEdges"><path stroke="#282828" d="M96 114h4"/><path stroke="#2c2c2c" d="M96 110h4M92 114h4M100 114h4M96 118h4"/><path stroke="#303030" d="M92 110h4M100 110h4M100 118h4"/><path stroke="#343434" d="M88 110h4M88 114h4M104 114h4M92 118h4M104 118h4M96 122h12M100 126h8M100 130h8M100 134h8"/><path stroke="#383838" d="M92 106h12M104 110h4"/><path stroke="#3c3c3c" d="M88 106h4M104 106h4M88 118h4M92 122h4M108 122h4M96 126h4M108 126h4M108 130h4M108 134h4M100 138h8"/><path stroke="#404040" d="M96 102h8M108 106h4M84 110h4M108 110h4M84 114h4M108 114h4M108 118h4M96 130h4M96 134h4"/><path stroke="#444444" d="M88 102h8M104 102h4M84 106h4M108 138h4M104 142h4"/><path stroke="#484848" d="M84 102h4M108 102h4M112 110h4M84 118h4M88 122h4M92 126h4M112 126h4M112 130h4M112 134h4M96 138h4M100 142h4"/><path stroke="#4c4c4c" d="M88 98h20M80 102h4M80 106h4M112 106h4M80 110h4M80 114h4M112 114h4M112 118h4M112 122h4M92 130h4M108 142h4"/><path stroke="#505050" d="M84 98h4M108 98h4M112 102h4M84 122h4M92 134h4M112 138h4M104 146h4"/><path stroke="#545454" d="M84 94h8M80 98h4M112 98h4M76 102h4M76 106h4M116 110h4M116 114h4M80 118h4M116 118h4M116 122h4M88 126h4M116 126h4M116 130h4M116 134h4M96 142h4M112 142h4M100 146h4M108 146h4"/><path stroke="#585858" d="M76 94h8M92 94h20M76 98h4M116 106h4M76 110h4M92 138h4M116 138h4"/><path stroke="#5c5c5c" d="M76 90h16M72 98h4M72 102h4M116 102h4M76 114h4M120 118h4M80 122h4M84 126h4M88 130h4M120 130h4M112 146h4M104 150h4"/><path stroke="#606060" d="M80 86h4M72 90h4M92 90h8M72 94h4M112 94h4M116 98h4M72 106h4M72 110h4M120 110h4M120 114h4M76 118h4M120 122h4M120 126h4M88 134h4M120 134h4M92 142h4M116 142h4M96 146h4M100 150h4M108 150h4"/><path stroke="#646464" d="M72 86h8M84 86h4M68 90h4M100 90h8M68 94h4M68 98h4M68 102h4M120 106h4M72 114h4M124 130h4M120 138h4"/><path stroke="#686868" d="M76 82h4M68 86h4M88 86h4M108 90h4M116 94h4M120 102h4M68 106h4M124 114h4M124 118h4M76 122h4M124 122h4M80 126h4M124 126h4M84 130h4M124 134h4M88 138h4M92 146h4M116 146h4M112 150h4"/><path stroke="#6c6c6c" d="M68 82h8M80 82h8M64 86h4M92 86h8M64 90h4M112 90h4M64 94h4M64 98h4M120 98h4M64 102h4M68 110h4M124 110h4M72 118h4M128 126h4M124 138h4M88 142h4M120 142h4M96 150h4M104 154h4"/><path stroke="#707070" d="M64 82h4M88 82h4M100 86h4M116 90h4M120 94h4M64 106h4M124 106h4M68 114h4M128 118h4M128 122h4M128 130h4M84 134h4M128 134h4M120 146h4M116 150h4M100 154h4M108 154h4"/><path stroke="#747474" d="M68 78h12M60 82h4M92 82h4M60 86h4M104 86h4M60 90h4M60 94h4M60 98h4M124 98h4M60 102h4M124 102h4M64 110h4M128 110h4M128 114h4M68 118h4M72 122h4M76 126h4M80 130h4M84 138h4M124 142h4M88 146h4M92 150h4M112 154h4"/><path stroke="#787878" d="M60 78h8M80 78h4M56 86h4M108 86h4M56 90h4M120 90h4M124 94h4M128 102h4M60 106h4M128 106h4M132 122h4M132 126h4M132 130h4M128 138h4M84 142h4M120 150h4M96 154h4"/><path stroke="#7c7c7c" d="M124 46h4M84 78h4M56 82h4M96 82h4M112 86h12M124 90h4M56 94h4M128 94h4M56 98h4M128 98h4M56 102h4M60 110h4M64 114h4M132 114h4M132 118h4M68 122h4M72 126h4M80 134h4M132 134h4M124 146h4M88 150h4M116 154h4"/><path stroke="#808080" d="M120 42h8M120 46h4M56 78h4M88 78h4M52 82h4M100 82h4M52 86h4M124 86h4M52 90h4M128 90h4M52 94h4M132 94h4M132 98h4M132 102h4M56 106h4M132 106h4M132 110h4M64 118h4M136 122h4M136 126h4M76 130h4M128 142h4M84 146h4M124 150h4M92 154h4M120 154h4M100 158h8"/><path stroke="#848484" d="M128 46h4M124 50h4M60 74h16M52 78h4M92 78h4M104 82h4M120 82h8M128 86h8M132 90h4M136 94h4M52 98h4M136 98h4M136 102h4M136 106h4M60 114h4M136 118h4M64 122h4M68 126h4M72 130h4M136 130h4M80 138h4M132 138h4M84 150h4M96 158h4M108 158h4"/><path stroke="#888888" d="M120 38h8M116 42h4M128 42h4M116 46h4M120 50h4M128 50h4M56 74h4M76 74h8M96 78h4M48 82h4M108 82h12M128 82h8M48 86h4M136 86h4M48 90h4M136 90h4M48 94h4M52 102h4M56 110h4M136 110h4M136 114h4M60 118h4M64 126h4M76 134h4M136 134h4M80 142h4M132 142h4M80 146h4M128 146h4M88 154h4M124 154h4M92 158h4M112 158h4"/><path stroke="#8c8c8c" d="M52 74h4M84 74h4M48 78h4M100 78h4M120 78h16M136 82h4M140 86h4M44 90h4M140 90h4M140 94h4M48 98h4M140 98h4M140 102h4M52 106h4M140 106h4M140 110h4M140 114h4M140 118h4M60 122h4M140 122h4M140 126h4M68 130h4M136 138h4M80 150h4M128 150h4M84 154h4M116 158h4"/><path stroke="#909090" d="M116 38h4M128 38h4M132 46h4M116 50h4M120 54h12M88 74h4M124 74h12M104 78h4M116 78h4M136 78h4M44 82h4M140 82h4M44 86h4M44 94h4M144 94h4M144 98h4M48 102h4M144 102h4M144 106h4M56 114h4M144 114h4M144 118h4M60 126h4M64 130h4M140 130h4M72 134h4M76 138h4M76 142h4M132 146h4M88 158h4M96 162h12"/><path stroke="#949494" d="M120 34h8M112 42h4M132 42h4M132 50h4M60 70h8M128 70h8M48 74h4M92 74h4M120 74h4M136 74h4M44 78h4M108 78h8M140 78h4M144 82h4M144 86h4M40 90h4M144 90h4M44 98h4M148 98h4M148 102h4M148 106h4M52 110h4M144 110h8M148 114h4M56 118h4M144 122h4M144 126h4M68 134h4M140 134h4M72 138h4M136 142h4M76 146h4M76 150h4M80 154h4M128 154h4M84 158h4M120 158h4M92 162h4M108 162h4"/><path stroke="#989898" d="M116 34h4M128 34h4M112 38h4M132 38h4M112 46h4M116 54h4M132 54h4M120 58h12M124 62h8M124 66h12M52 70h8M68 70h8M120 70h8M136 70h4M44 74h4M96 74h4M116 74h4M140 74h4M144 78h4M40 82h4M40 86h4M148 86h4M148 90h4M40 94h4M148 94h4M152 98h4M44 102h4M152 102h4M48 106h4M152 106h4M152 110h4M148 118h4M56 122h4M148 122h4M60 130h4M144 130h4M64 134h4M68 138h4M140 138h4M72 142h4M136 146h4M132 150h4M76 154h4M76 158h8M76 162h16M56 170h12M68 174h4M68 178h4"/><path stroke="#9c9c9c" d="M116 30h12M112 34h4M136 46h4M112 50h4M136 50h4M132 58h4M120 62h4M132 62h4M120 66h4M136 66h4M48 70h4M76 70h4M116 70h4M140 70h4M100 74h16M144 74h4M40 78h4M148 78h4M148 82h4M36 86h4M36 90h4M152 90h4M36 94h4M152 94h4M40 98h4M52 114h4M152 114h4M152 118h4M56 126h4M148 126h4M144 134h4M64 138h4M68 142h4M140 142h4M72 146h4M72 150h4M72 154h4M68 158h8M124 158h4M52 162h24M112 162h4M52 166h56M48 170h8M68 170h16M44 174h24M72 174h8M52 178h16M72 178h8M56 182h24M64 186h16M76 190h4"/><path stroke="#a0a0a0" d="M116 10h8M116 14h8M116 18h8M116 22h8M116 26h8M112 30h4M128 30h4M132 34h4M108 42h4M136 42h4M136 54h4M116 58h4M136 58h4M116 62h4M136 62h4M116 66h4M140 66h4M44 70h4M80 70h8M112 70h4M144 70h4M40 74h4M148 74h4M16 78h8M36 78h4M152 78h4M16 82h8M36 82h4M152 82h4M152 86h4M16 90h8M32 90h4M156 98h4M156 102h4M156 106h4M48 110h4M156 110h4M156 114h4M52 118h4M152 122h4M56 130h4M148 130h4M60 134h4M144 138h4M64 142h4M68 146h4M140 146h4M68 150h4M136 150h4M64 154h8M132 154h4M44 158h24M128 158h4M44 162h8M36 166h16M40 170h8M84 170h20M80 174h4M96 174h8M80 178h4M96 178h8M80 182h4M96 182h8M80 186h4M96 186h8M80 190h4M96 190h8"/><path stroke="#a4a4a4" d="M112 10h4M112 14h4M124 14h4M112 18h4M124 18h4M112 22h4M124 22h4M112 26h4M124 26h4M108 30h4M108 34h4M108 38h4M136 38h4M108 46h4M112 54h4M112 58h4M140 58h4M112 62h4M140 62h4M112 66h4M144 66h4M40 70h4M88 70h8M108 70h4M148 70h4M12 74h28M152 74h4M12 78h4M24 78h12M12 82h4M24 82h12M8 86h28M8 90h8M24 90h8M156 90h4M8 94h28M156 94h4M8 98h20M36 98h4M40 102h4M44 106h4M156 118h4M52 122h4M152 126h4M148 134h4M60 138h4M144 142h4M64 146h4M60 150h8M44 154h20M40 158h4M36 162h8M116 162h4M108 166h4M104 170h4M84 174h12M104 174h4M84 178h12M104 178h4M84 182h12M104 182h4M84 186h12M104 186h4M84 190h12M104 190h4"/><path stroke="#a8a8a8" d="M108 10h4M108 14h4M128 14h4M108 18h4M128 18h4M108 22h4M128 22h4M108 26h4M128 26h4M132 30h4M136 34h4M140 42h4M140 46h4M108 50h4M140 50h4M140 54h4M144 62h4M44 66h28M108 66h4M148 66h4M12 70h28M96 70h12M152 70h4M156 74h4M156 78h4M156 82h4M156 86h4M28 98h8M8 102h20M36 102h4M48 114h4M156 122h4M52 126h4M152 130h4M56 134h4M148 138h4M60 142h4M148 142h4M60 146h4M144 146h4M44 150h16M140 150h4M40 154h4M136 154h4M36 158h4M132 158h4M32 162h4M120 162h4M108 170h4"/><path stroke="#acacac" d="M92 10h16M92 14h16M132 14h4M92 18h16M132 18h12M92 22h16M132 22h16M92 26h16M132 26h16M96 30h12M136 30h4M104 34h4M104 38h4M140 38h4M28 42h8M104 42h4M24 46h16M144 46h4M24 50h16M144 50h4M20 54h20M108 54h4M144 54h4M20 58h20M144 58h4M16 62h24M108 62h4M148 62h4M16 66h28M72 66h4M156 70h4M160 78h4M160 82h4M160 86h4M160 90h4M160 94h4M160 98h4M28 102h8M160 102h4M8 106h16M40 106h4M160 106h4M44 110h4M160 110h4M160 114h4M48 118h4M160 118h4M156 126h4M52 130h4M152 134h4M56 138h4M152 138h4M56 142h4M56 146h4M148 146h4M40 150h4M144 150h4M36 154h4M140 154h4M124 162h4M112 166h4M108 174h4M108 178h4M108 182h4M108 186h4M108 190h4"/><path stroke="#b0b0b0" d="M84 10h8M84 14h8M84 18h8M84 22h8M88 26h4M148 26h8M68 30h4M88 30h8M140 30h12M68 34h4M96 34h8M140 34h8M32 38h8M56 38h12M100 38h4M144 38h4M36 42h8M56 42h8M144 42h8M40 46h4M104 46h4M148 46h4M40 50h4M148 50h8M40 54h4M148 54h4M40 58h4M108 58h4M148 58h4M40 62h12M76 66h4M104 66h4M152 66h8M160 70h4M160 74h4M24 106h8M36 106h4M8 110h20M16 114h8M16 118h8M16 122h8M48 122h4M160 122h4M16 126h8M16 130h8M156 130h4M16 134h8M156 134h4M152 142h4M36 146h20M36 150h4M148 150h4M32 154h4M28 158h8M136 158h4M128 162h4M112 170h4M112 174h4M112 178h4M112 182h4M112 186h4M112 190h4"/><path stroke="#b4b4b4" d="M76 10h8M64 14h20M56 18h28M48 22h36M44 26h44M40 30h28M72 30h16M152 30h8M36 34h32M72 34h8M92 34h4M148 34h16M40 38h16M68 38h8M148 38h20M44 42h12M64 42h8M152 42h20M44 46h24M152 46h20M44 50h8M104 50h4M156 50h20M44 54h4M152 54h28M44 58h8M152 58h28M52 62h20M104 62h4M152 62h32M80 66h24M160 66h24M164 70h12M164 74h4M164 78h4M164 82h4M164 86h4M164 90h4M164 94h4M164 98h4M164 102h4M32 106h4M164 106h4M40 110h4M164 110h4M12 114h4M24 114h4M44 114h4M164 114h4M12 118h4M24 118h4M12 122h4M24 122h4M12 126h4M24 126h4M48 126h4M160 126h4M12 130h4M24 130h4M24 134h4M52 134h4M16 138h12M52 138h4M156 138h4M20 142h16M52 142h4M156 142h4M20 146h16M152 146h4M24 150h12M152 150h4M24 154h8M144 154h4M140 158h4M132 162h8M116 166h4M116 178h4M116 182h4M116 186h4M116 190h4"/><path stroke="#b8b8b8" d="M80 34h12M76 38h4M96 38h4M72 42h4M100 42h4M68 46h4M52 50h16M48 54h16M104 54h4M52 58h16M104 58h4M72 62h4M176 70h8M168 74h20M168 78h4M28 110h4M44 118h4M164 118h4M48 130h4M160 130h4M160 134h4M28 138h4M160 138h4M176 138h8M36 142h16M160 142h4M176 142h4M156 146h8M156 150h4M148 154h8M144 158h8M140 162h8M120 166h4M116 170h4M156 170h4M116 174h8M120 178h4M120 182h4M120 186h4M120 190h4"/><path stroke="#bcbcbc" d="M80 38h4M88 38h8M76 42h4M96 42h4M72 46h4M100 46h4M68 50h4M64 54h8M68 58h4M76 62h4M100 62h4M172 78h4M180 78h8M168 82h4M168 86h4M168 90h4M168 94h4M168 98h4M32 110h8M28 114h4M40 114h4M28 118h4M28 122h4M44 122h4M164 122h4M28 126h4M164 126h4M28 130h4M164 130h20M28 134h4M48 134h4M164 134h20M32 138h4M48 138h4M164 138h12M164 142h12M164 146h16M160 150h16M156 154h16M152 158h20M148 162h20M124 166h40M120 170h4M148 170h8M124 174h4M148 174h8M124 178h4M124 182h4M124 186h4"/><path stroke="#c0c0c0" d="M84 38h4M80 42h4M76 46h4M72 50h4M100 50h4M72 54h4M100 54h4M72 58h4M100 58h4M80 62h4M96 62h4M176 78h4M172 82h16M172 86h4M172 90h4M172 94h4M168 102h4M168 106h4M168 110h4M32 114h8M168 114h4M168 118h4M168 122h4M44 126h4M168 126h20M32 134h4M36 138h4M44 138h4M124 170h24M128 174h8M144 174h4M128 178h8M128 182h8M128 186h8"/><path stroke="#c4c4c4" d="M84 42h12M96 46h4M76 50h4M76 58h4M84 62h12M176 86h12M176 90h16M176 94h16M172 98h20M172 102h4M32 118h12M172 118h4M32 122h4M40 122h4M172 122h16M32 130h4M44 130h4M44 134h4M40 138h4M136 174h8M136 178h12M136 182h8"/><path stroke="#c8c8c8" d="M80 46h4M80 50h4M96 50h4M76 54h4M96 54h4M80 58h4M96 58h4M176 102h16M172 106h4M180 106h12M172 110h4M184 110h8M172 114h16M176 118h12M36 122h4M32 126h12M36 130h8M36 134h8"/><path stroke="#cccccc" d="M84 46h12M80 54h4M84 58h12M176 106h4M176 110h8"/><path stroke="#d0d0d0" d="M84 50h12M84 54h12"/></g></g></g>
<path clip-path="url(#cl23)" d="M891.8 686.0L893.9 678.0L893.6 670.0L888.3 666.0L886.0 666.0L879.0 667.3L871.5 670.0L869.2 674.0L871.0 678.5L875.0 682.5L883.0 685.7L887.0 687.2L891.8 686.0M897.1 706.0L899.2 702.0L901.1 694.0L901.7 686.0L901.4 678.0L901.4 670.0L899.0 663.9L895.0 660.2L887.9 658.0L883.0 657.1L875.0 656.1L867.0 654.7L863.0 654.0L859.0 655.2L857.2 662.0L858.3 670.0L859.7 674.0L863.0 679.0L867.0 683.1L871.0 686.9L875.0 690.2L879.3 694.0L883.0 699.3L886.6 706.0L891.0 709.1L897.1 706.0M901.3 714.0L906.2 710.0L908.4 706.0L911.1 702.0L915.5 698.0L916.6 690.0L913.2 686.0L910.8 682.0L911.0 674.0L911.0 674.0L908.2 666.0L906.2 662.0L903.0 656.8L895.9 654.0L891.0 652.7L884.4 650.0L879.0 648.3L871.0 646.2L867.0 645.2L859.0 644.6L851.4 646.0L847.4 650.0L846.6 654.0L847.3 658.0L849.4 666.0L851.0 670.4L855.0 677.9L858.0 682.0L862.0 686.0L866.0 690.0L869.4 694.0L872.0 698.0L875.0 704.3L878.5 710.0L883.0 714.0L887.0 715.9L895.0 716.2L901.3 714.0M919.7 622.0L923.0 617.8L923.7 610.0L920.6 606.0L915.0 602.5L911.0 601.4L904.3 602.0L899.0 605.9L899.0 607.8L901.7 614.0L905.6 618.0L910.6 622.0L915.0 624.5L919.7 622.0M906.1 718.0L911.0 714.9L914.8 710.0L918.0 706.0L922.1 702.0L925.1 698.0L927.0 691.6L927.0 688.7L923.0 682.8L921.1 678.0L922.7 670.0L924.0 666.0L924.7 658.0L924.8 650.0L923.9 642.0L922.9 638.0L919.0 631.2L911.0 632.9L907.4 638.0L905.1 642.0L901.2 646.0L895.0 647.3L890.5 646.0L883.0 642.5L879.0 641.7L871.0 640.2L863.0 638.8L858.0 638.0L851.0 636.3L843.0 636.8L839.0 638.6L834.3 642.0L831.0 647.3L830.2 654.0L832.4 658.0L838.0 662.0L841.9 666.0L844.2 670.0L847.0 676.3L849.1 682.0L851.0 686.0L856.1 690.0L860.7 694.0L863.5 698.0L865.8 706.0L866.3 714.0L868.2 718.0L875.0 719.9L883.0 721.4L891.0 722.0L899.0 720.3L906.1 718.0M887.0 579.9L891.0 584.8L895.0 588.5L897.8 594.0L895.0 598.0L891.0 605.2L891.0 608.1L893.2 614.0L896.0 618.0L896.1 626.0L892.3 630.0L887.0 632.4L880.7 634.0L875.0 634.6L868.5 634.0L863.0 633.3L855.0 631.1L851.0 629.5L843.0 628.2L835.0 627.4L830.0 626.0L826.2 626.0L823.0 631.0L820.2 638.0L819.3 646.0L817.7 650.0L811.0 652.5L804.9 650.0M896.9 746.0L895.0 738.5L891.0 735.6L885.6 734.0L888.4 730.0L895.0 727.6L899.0 725.3L907.0 722.1L911.0 720.9L919.0 719.2L923.8 718.0L926.8 710.0L929.3 706.0L932.8 702.0L936.2 698.0L939.3 694.0L943.0 689.2L945.2 682.0L943.0 675.9L940.3 670.0L941.8 662.0L940.6 654.0L936.9 650.0L935.0 644.5L935.0 640.6L935.0 637.8L932.3 630.0L931.6 622.0L933.2 614.0L932.1 606.0L927.0 602.6L923.0 600.3L918.6 598.0L911.3 594.0L908.4 590.0M803.0 669.3L811.0 666.6L815.0 664.0L823.0 662.7L828.9 666.0L834.9 670.0L838.5 674.0L840.1 678.0L840.0 686.0L841.1 694.0L843.0 698.1L847.0 705.4L848.5 710.0L847.0 717.1L839.0 716.0L831.0 717.7L827.0 720.0M879.0 743.2L871.0 744.9L866.3 742.0L863.0 734.9L863.0 733.6L867.0 729.5L872.6 730.0L878.8 734.0L882.0 738.0L879.0 743.2M875.0 626.5L867.0 626.5L863.0 625.5L859.0 621.9L859.0 614.0L859.4 610.0L863.0 602.3L871.0 603.8L876.4 606.0L880.7 610.0L882.9 618.0L879.0 624.5L875.0 626.5M963.0 688.9L956.7 686.0L953.9 682.0L951.0 677.2L948.9 670.0L951.0 664.4L955.0 659.1L959.0 656.5L967.0 656.8M831.0 706.2L827.0 705.4L823.0 701.8L819.0 697.1L815.0 691.3L813.0 686.0L815.0 679.2L819.0 676.3L827.0 675.9L831.0 680.3L832.1 686.0L833.7 694.0L835.1 698.0L835.0 703.1L831.0 706.2M939.0 726.6L936.2 722.0L934.3 718.0L935.0 711.6L939.0 708.3L945.4 710.0L948.9 714.0M911.0 739.8L905.5 738.0L902.4 734.0L903.0 729.6L910.9 726.0L911.1 726.0L917.0 730.0L915.0 736.7L911.0 739.8" fill="none" stroke="#fff" stroke-width="4" stroke-dasharray="4 8"/>
<path d="M800.95 663.80A83.85 86.10 0 1 1 968.65 663.80A83.85 86.10 0 1 1 800.95 663.80ZM876.41 577.70L884.80 569.09L893.18 577.70M968.15 654.24L970.33 650.45L971.67 650.32L973.66 650.95L975.68 654.24L975.36 664.75L976.53 679.85L974.02 686.41L970.33 687.63L966.81 684.45M801.45 654.24L799.27 650.45L797.93 650.32L795.94 650.95L793.92 654.24L794.24 664.75L793.07 679.85L795.58 686.41L799.27 687.63L802.79 684.45" fill="none" stroke="#000" stroke-width="6" stroke-linejoin="miter" stroke-miterlimit="10"/>
</g>
<text transform="translate(56 157.7) rotate(-90)" text-anchor="middle">A</text>
<text transform="translate(56 408.6) rotate(-90)" text-anchor="middle">B</text>
<text transform="translate(56 659.5) rotate(-90)" text-anchor="middle">C</text>
<text x="175.0" y="795" text-anchor="middle">[1, 1.75)</text>
<text x="411.7" y="795" text-anchor="middle">[1.75, 2.5)</text>
<text x="648.2" y="795" text-anchor="middle">[2.5, 3.25)</text>
<text x="884.8" y="795" text-anchor="middle">[3.25, 4]</text>
<text x="530" y="864.5" text-anchor="middle">Time windows</text>
<rect x="1022" y="32" width="25" height="754" fill="url(#cb)"/>
<rect x="1022" y="32" width="25" height="754" fill="none" stroke="#000" stroke-width="2"/>
<path d="M1047 32H1057" stroke="#000" stroke-width="2"/><text x="1064" y="42.0">0.05</text>
<path d="M1047 220.5H1057" stroke="#000" stroke-width="2"/><text x="1064" y="230.5">0.02</text>
<path d="M1047 409H1057" stroke="#000" stroke-width="2"/><text x="1064" y="419.0">-0.0</text>
<path d="M1047 597.5H1057" stroke="#000" stroke-width="2"/><text x="1064" y="607.5">-0.03</text>
<path d="M1047 786H1057" stroke="#000" stroke-width="2"/><text x="1064" y="796.0">-0.05</text>
<text transform="translate(1144.5 409) rotate(90)" text-anchor="middle">Voltage [µV]</text>
</svg>
</body></html>
